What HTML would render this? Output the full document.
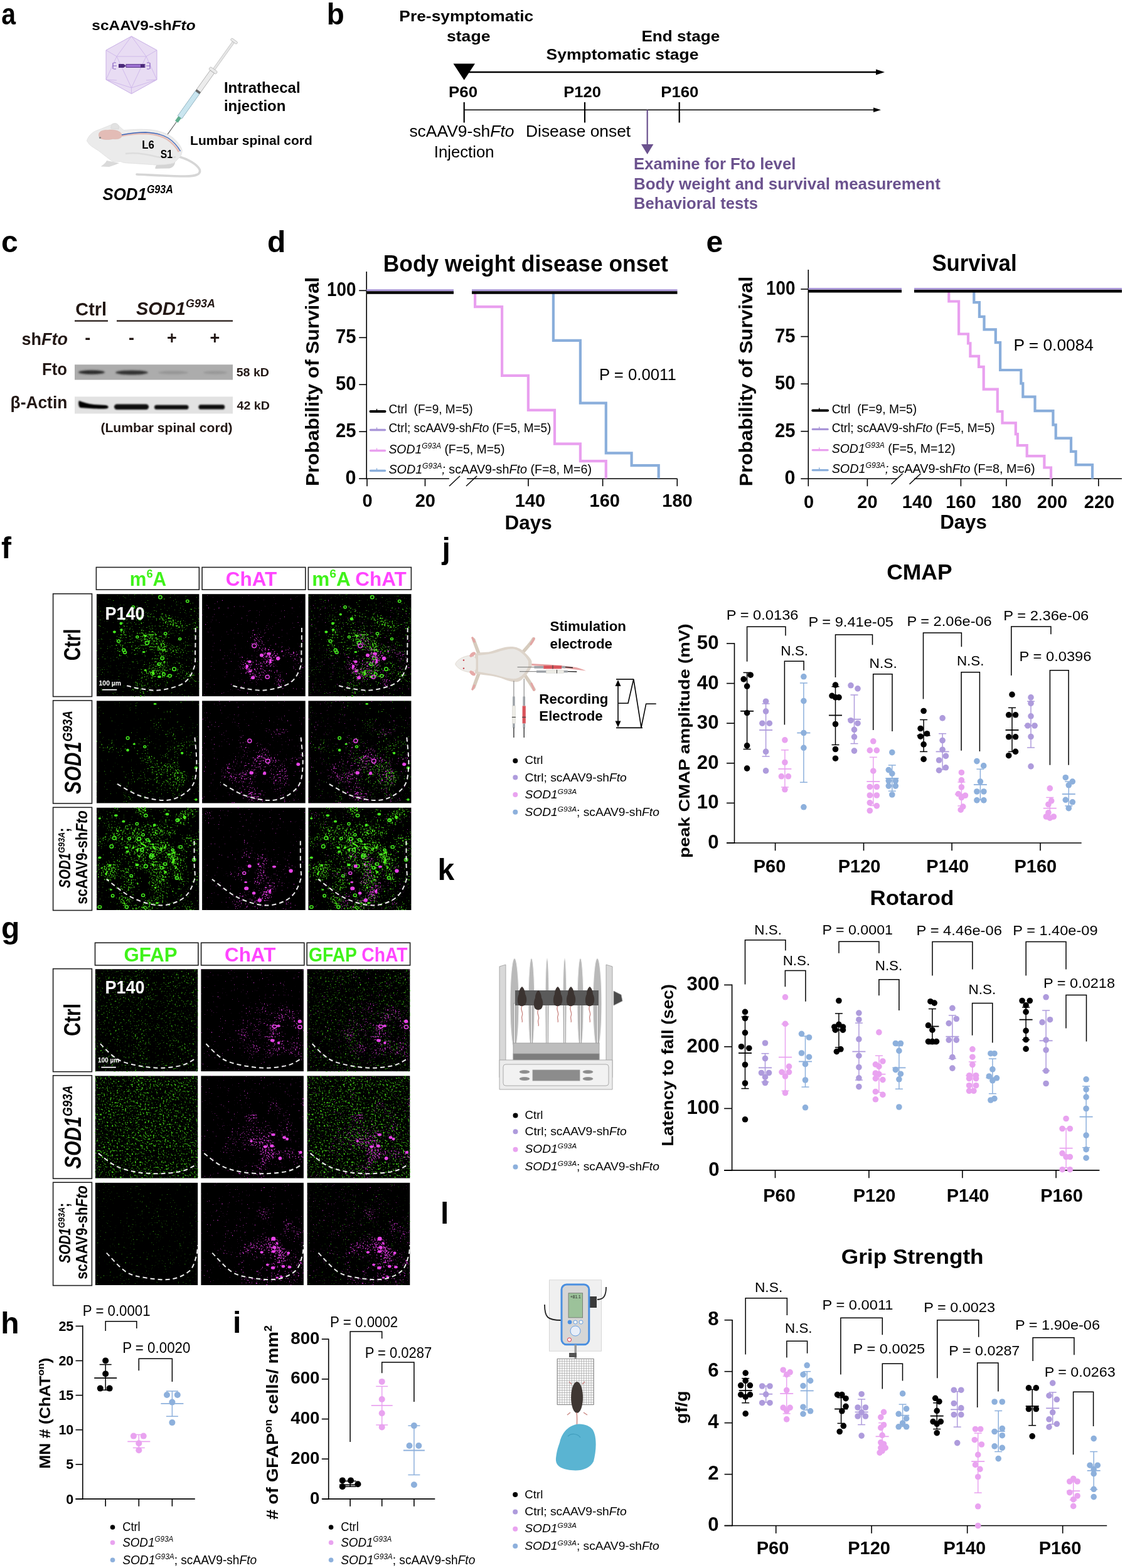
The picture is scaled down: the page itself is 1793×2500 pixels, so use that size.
<!DOCTYPE html>
<html><head><meta charset="utf-8"><title>Figure</title>
<style>html,body{margin:0;padding:0;background:#fff;overflow:hidden;}svg{display:block;}</style>
</head><body>
<svg width="1793" height="2500" viewBox="0 0 1793 2500" font-family="'Liberation Sans', Arial, Helvetica, sans-serif">
<defs>
<filter id="blur1" x="-20%" y="-50%" width="140%" height="200%"><feGaussianBlur stdDeviation="1.6"/></filter>
<filter id="blur2" x="-20%" y="-80%" width="140%" height="260%"><feGaussianBlur stdDeviation="1.2"/></filter>
<radialGradient id="rg1" cx="0.62" cy="0.55" r="0.6"><stop offset="0" stop-color="rgb(255,255,255)"/><stop offset="1" stop-color="rgb(76,76,76)"/></radialGradient>
<filter id="sp1" x="0" y="0" width="1" height="1" color-interpolation-filters="sRGB"><feColorMatrix in="SourceGraphic" type="matrix" values="1 0 0 0 0 1 0 0 0 0 1 0 0 0 0 0 0 0 0 1" result="m"/><feTurbulence type="fractalNoise" baseFrequency="0.035" numOctaves="2" seed="111" result="l0"/><feColorMatrix in="l0" type="matrix" values="1 0 0 0 0 1 0 0 0 0 1 0 0 0 0 0 0 0 0 1" result="l1"/><feComposite in="l1" in2="m" operator="arithmetic" k2="0.6" k3="0.35" k4="-0.475" result="l"/><feTurbulence type="fractalNoise" baseFrequency="0.42" numOctaves="2" seed="11" result="h0"/><feColorMatrix in="h0" type="matrix" values="1 0 0 0 0 1 0 0 0 0 1 0 0 0 0 0 0 0 0 1" result="h"/><feComposite in="h" in2="l" operator="arithmetic" k2="1" k3="1" k4="0" result="s"/><feColorMatrix in="s" type="matrix" values="0 0 0 0 0.216 0 0 0 0 0.684 0 0 0 0 0.072 9 0 0 0 -6.435" result="sp"/><feTurbulence type="fractalNoise" baseFrequency="0.16" numOctaves="1" seed="211" result="b0"/><feColorMatrix in="b0" type="matrix" values="1 0 0 0 0 1 0 0 0 0 1 0 0 0 0 0 0 0 0 1" result="bb"/><feComposite in="bb" in2="l" operator="arithmetic" k2="1" k3="1" k4="0" result="bs"/><feColorMatrix in="bs" type="matrix" values="0 0 0 0 0.3 0 0 0 0 0.95 0 0 0 0 0.1 14 0 0 0 -11.830" result="bl"/><feMerge><feMergeNode in="sp"/><feMergeNode in="bl"/></feMerge></filter>
<radialGradient id="rg2" cx="0.6" cy="0.65" r="0.55"><stop offset="0" stop-color="rgb(255,255,255)"/><stop offset="1" stop-color="rgb(38,38,38)"/></radialGradient>
<filter id="sp2" x="0" y="0" width="1" height="1" color-interpolation-filters="sRGB"><feColorMatrix in="SourceGraphic" type="matrix" values="1 0 0 0 0 1 0 0 0 0 1 0 0 0 0 0 0 0 0 1" result="m"/><feTurbulence type="fractalNoise" baseFrequency="0.035" numOctaves="2" seed="131" result="l0"/><feColorMatrix in="l0" type="matrix" values="1 0 0 0 0 1 0 0 0 0 1 0 0 0 0 0 0 0 0 1" result="l1"/><feComposite in="l1" in2="m" operator="arithmetic" k2="0.6" k3="0.35" k4="-0.475" result="l"/><feTurbulence type="fractalNoise" baseFrequency="0.42" numOctaves="2" seed="31" result="h0"/><feColorMatrix in="h0" type="matrix" values="1 0 0 0 0 1 0 0 0 0 1 0 0 0 0 0 0 0 0 1" result="h"/><feComposite in="h" in2="l" operator="arithmetic" k2="1" k3="1" k4="0" result="s"/><feColorMatrix in="s" type="matrix" values="0 0 0 0 0.706 0 0 0 0 0.180 0 0 0 0 0.706 9 0 0 0 -6.660" result="sp"/><feTurbulence type="fractalNoise" baseFrequency="0.16" numOctaves="1" seed="231" result="b0"/><feColorMatrix in="b0" type="matrix" values="1 0 0 0 0 1 0 0 0 0 1 0 0 0 0 0 0 0 0 1" result="bb"/><feComposite in="bb" in2="l" operator="arithmetic" k2="1" k3="1" k4="0" result="bs"/><feColorMatrix in="bs" type="matrix" values="0 0 0 0 0.98 0 0 0 0 0.25 0 0 0 0 0.98 14 0 0 0 -12.390" result="bl"/><feMerge><feMergeNode in="sp"/><feMergeNode in="bl"/></feMerge></filter>
<radialGradient id="rg3" cx="0.62" cy="0.55" r="0.6"><stop offset="0" stop-color="rgb(255,255,255)"/><stop offset="1" stop-color="rgb(76,76,76)"/></radialGradient>
<filter id="sp3" x="0" y="0" width="1" height="1" color-interpolation-filters="sRGB"><feColorMatrix in="SourceGraphic" type="matrix" values="1 0 0 0 0 1 0 0 0 0 1 0 0 0 0 0 0 0 0 1" result="m"/><feTurbulence type="fractalNoise" baseFrequency="0.035" numOctaves="2" seed="111" result="l0"/><feColorMatrix in="l0" type="matrix" values="1 0 0 0 0 1 0 0 0 0 1 0 0 0 0 0 0 0 0 1" result="l1"/><feComposite in="l1" in2="m" operator="arithmetic" k2="0.6" k3="0.35" k4="-0.475" result="l"/><feTurbulence type="fractalNoise" baseFrequency="0.42" numOctaves="2" seed="11" result="h0"/><feColorMatrix in="h0" type="matrix" values="1 0 0 0 0 1 0 0 0 0 1 0 0 0 0 0 0 0 0 1" result="h"/><feComposite in="h" in2="l" operator="arithmetic" k2="1" k3="1" k4="0" result="s"/><feColorMatrix in="s" type="matrix" values="0 0 0 0 0.216 0 0 0 0 0.684 0 0 0 0 0.072 9 0 0 0 -6.435" result="sp"/><feTurbulence type="fractalNoise" baseFrequency="0.16" numOctaves="1" seed="211" result="b0"/><feColorMatrix in="b0" type="matrix" values="1 0 0 0 0 1 0 0 0 0 1 0 0 0 0 0 0 0 0 1" result="bb"/><feComposite in="bb" in2="l" operator="arithmetic" k2="1" k3="1" k4="0" result="bs"/><feColorMatrix in="bs" type="matrix" values="0 0 0 0 0.3 0 0 0 0 0.95 0 0 0 0 0.1 14 0 0 0 -11.830" result="bl"/><feMerge><feMergeNode in="sp"/><feMergeNode in="bl"/></feMerge></filter>
<radialGradient id="rg4" cx="0.6" cy="0.65" r="0.55"><stop offset="0" stop-color="rgb(255,255,255)"/><stop offset="1" stop-color="rgb(38,38,38)"/></radialGradient>
<filter id="sp4" x="0" y="0" width="1" height="1" color-interpolation-filters="sRGB"><feColorMatrix in="SourceGraphic" type="matrix" values="1 0 0 0 0 1 0 0 0 0 1 0 0 0 0 0 0 0 0 1" result="m"/><feTurbulence type="fractalNoise" baseFrequency="0.035" numOctaves="2" seed="131" result="l0"/><feColorMatrix in="l0" type="matrix" values="1 0 0 0 0 1 0 0 0 0 1 0 0 0 0 0 0 0 0 1" result="l1"/><feComposite in="l1" in2="m" operator="arithmetic" k2="0.6" k3="0.35" k4="-0.475" result="l"/><feTurbulence type="fractalNoise" baseFrequency="0.42" numOctaves="2" seed="31" result="h0"/><feColorMatrix in="h0" type="matrix" values="1 0 0 0 0 1 0 0 0 0 1 0 0 0 0 0 0 0 0 1" result="h"/><feComposite in="h" in2="l" operator="arithmetic" k2="1" k3="1" k4="0" result="s"/><feColorMatrix in="s" type="matrix" values="0 0 0 0 0.706 0 0 0 0 0.180 0 0 0 0 0.706 9 0 0 0 -6.660" result="sp"/><feTurbulence type="fractalNoise" baseFrequency="0.16" numOctaves="1" seed="231" result="b0"/><feColorMatrix in="b0" type="matrix" values="1 0 0 0 0 1 0 0 0 0 1 0 0 0 0 0 0 0 0 1" result="bb"/><feComposite in="bb" in2="l" operator="arithmetic" k2="1" k3="1" k4="0" result="bs"/><feColorMatrix in="bs" type="matrix" values="0 0 0 0 0.98 0 0 0 0 0.25 0 0 0 0 0.98 14 0 0 0 -12.390" result="bl"/><feMerge><feMergeNode in="sp"/><feMergeNode in="bl"/></feMerge></filter>
<radialGradient id="rg5" cx="0.65" cy="0.65" r="0.6"><stop offset="0" stop-color="rgb(255,255,255)"/><stop offset="1" stop-color="rgb(76,76,76)"/></radialGradient>
<filter id="sp5" x="0" y="0" width="1" height="1" color-interpolation-filters="sRGB"><feColorMatrix in="SourceGraphic" type="matrix" values="1 0 0 0 0 1 0 0 0 0 1 0 0 0 0 0 0 0 0 1" result="m"/><feTurbulence type="fractalNoise" baseFrequency="0.035" numOctaves="2" seed="161" result="l0"/><feColorMatrix in="l0" type="matrix" values="1 0 0 0 0 1 0 0 0 0 1 0 0 0 0 0 0 0 0 1" result="l1"/><feComposite in="l1" in2="m" operator="arithmetic" k2="0.6" k3="0.35" k4="-0.475" result="l"/><feTurbulence type="fractalNoise" baseFrequency="0.42" numOctaves="2" seed="61" result="h0"/><feColorMatrix in="h0" type="matrix" values="1 0 0 0 0 1 0 0 0 0 1 0 0 0 0 0 0 0 0 1" result="h"/><feComposite in="h" in2="l" operator="arithmetic" k2="1" k3="1" k4="0" result="s"/><feColorMatrix in="s" type="matrix" values="0 0 0 0 0.216 0 0 0 0 0.684 0 0 0 0 0.072 9 0 0 0 -6.750" result="sp"/><feTurbulence type="fractalNoise" baseFrequency="0.16" numOctaves="1" seed="261" result="b0"/><feColorMatrix in="b0" type="matrix" values="1 0 0 0 0 1 0 0 0 0 1 0 0 0 0 0 0 0 0 1" result="bb"/><feComposite in="bb" in2="l" operator="arithmetic" k2="1" k3="1" k4="0" result="bs"/><feColorMatrix in="bs" type="matrix" values="0 0 0 0 0.3 0 0 0 0 0.95 0 0 0 0 0.1 14 0 0 0 -12.390" result="bl"/><feMerge><feMergeNode in="sp"/><feMergeNode in="bl"/></feMerge></filter>
<radialGradient id="rg6" cx="0.55" cy="0.7" r="0.55"><stop offset="0" stop-color="rgb(255,255,255)"/><stop offset="1" stop-color="rgb(45,45,45)"/></radialGradient>
<filter id="sp6" x="0" y="0" width="1" height="1" color-interpolation-filters="sRGB"><feColorMatrix in="SourceGraphic" type="matrix" values="1 0 0 0 0 1 0 0 0 0 1 0 0 0 0 0 0 0 0 1" result="m"/><feTurbulence type="fractalNoise" baseFrequency="0.035" numOctaves="2" seed="181" result="l0"/><feColorMatrix in="l0" type="matrix" values="1 0 0 0 0 1 0 0 0 0 1 0 0 0 0 0 0 0 0 1" result="l1"/><feComposite in="l1" in2="m" operator="arithmetic" k2="0.6" k3="0.35" k4="-0.475" result="l"/><feTurbulence type="fractalNoise" baseFrequency="0.42" numOctaves="2" seed="81" result="h0"/><feColorMatrix in="h0" type="matrix" values="1 0 0 0 0 1 0 0 0 0 1 0 0 0 0 0 0 0 0 1" result="h"/><feComposite in="h" in2="l" operator="arithmetic" k2="1" k3="1" k4="0" result="s"/><feColorMatrix in="s" type="matrix" values="0 0 0 0 0.706 0 0 0 0 0.180 0 0 0 0 0.706 9 0 0 0 -6.660" result="sp"/><feTurbulence type="fractalNoise" baseFrequency="0.16" numOctaves="1" seed="281" result="b0"/><feColorMatrix in="b0" type="matrix" values="1 0 0 0 0 1 0 0 0 0 1 0 0 0 0 0 0 0 0 1" result="bb"/><feComposite in="bb" in2="l" operator="arithmetic" k2="1" k3="1" k4="0" result="bs"/><feColorMatrix in="bs" type="matrix" values="0 0 0 0 0.98 0 0 0 0 0.25 0 0 0 0 0.98 14 0 0 0 -12.390" result="bl"/><feMerge><feMergeNode in="sp"/><feMergeNode in="bl"/></feMerge></filter>
<radialGradient id="rg7" cx="0.65" cy="0.65" r="0.6"><stop offset="0" stop-color="rgb(255,255,255)"/><stop offset="1" stop-color="rgb(76,76,76)"/></radialGradient>
<filter id="sp7" x="0" y="0" width="1" height="1" color-interpolation-filters="sRGB"><feColorMatrix in="SourceGraphic" type="matrix" values="1 0 0 0 0 1 0 0 0 0 1 0 0 0 0 0 0 0 0 1" result="m"/><feTurbulence type="fractalNoise" baseFrequency="0.035" numOctaves="2" seed="161" result="l0"/><feColorMatrix in="l0" type="matrix" values="1 0 0 0 0 1 0 0 0 0 1 0 0 0 0 0 0 0 0 1" result="l1"/><feComposite in="l1" in2="m" operator="arithmetic" k2="0.6" k3="0.35" k4="-0.475" result="l"/><feTurbulence type="fractalNoise" baseFrequency="0.42" numOctaves="2" seed="61" result="h0"/><feColorMatrix in="h0" type="matrix" values="1 0 0 0 0 1 0 0 0 0 1 0 0 0 0 0 0 0 0 1" result="h"/><feComposite in="h" in2="l" operator="arithmetic" k2="1" k3="1" k4="0" result="s"/><feColorMatrix in="s" type="matrix" values="0 0 0 0 0.216 0 0 0 0 0.684 0 0 0 0 0.072 9 0 0 0 -6.750" result="sp"/><feTurbulence type="fractalNoise" baseFrequency="0.16" numOctaves="1" seed="261" result="b0"/><feColorMatrix in="b0" type="matrix" values="1 0 0 0 0 1 0 0 0 0 1 0 0 0 0 0 0 0 0 1" result="bb"/><feComposite in="bb" in2="l" operator="arithmetic" k2="1" k3="1" k4="0" result="bs"/><feColorMatrix in="bs" type="matrix" values="0 0 0 0 0.3 0 0 0 0 0.95 0 0 0 0 0.1 14 0 0 0 -12.390" result="bl"/><feMerge><feMergeNode in="sp"/><feMergeNode in="bl"/></feMerge></filter>
<radialGradient id="rg8" cx="0.55" cy="0.7" r="0.55"><stop offset="0" stop-color="rgb(255,255,255)"/><stop offset="1" stop-color="rgb(45,45,45)"/></radialGradient>
<filter id="sp8" x="0" y="0" width="1" height="1" color-interpolation-filters="sRGB"><feColorMatrix in="SourceGraphic" type="matrix" values="1 0 0 0 0 1 0 0 0 0 1 0 0 0 0 0 0 0 0 1" result="m"/><feTurbulence type="fractalNoise" baseFrequency="0.035" numOctaves="2" seed="181" result="l0"/><feColorMatrix in="l0" type="matrix" values="1 0 0 0 0 1 0 0 0 0 1 0 0 0 0 0 0 0 0 1" result="l1"/><feComposite in="l1" in2="m" operator="arithmetic" k2="0.6" k3="0.35" k4="-0.475" result="l"/><feTurbulence type="fractalNoise" baseFrequency="0.42" numOctaves="2" seed="81" result="h0"/><feColorMatrix in="h0" type="matrix" values="1 0 0 0 0 1 0 0 0 0 1 0 0 0 0 0 0 0 0 1" result="h"/><feComposite in="h" in2="l" operator="arithmetic" k2="1" k3="1" k4="0" result="s"/><feColorMatrix in="s" type="matrix" values="0 0 0 0 0.706 0 0 0 0 0.180 0 0 0 0 0.706 9 0 0 0 -6.660" result="sp"/><feTurbulence type="fractalNoise" baseFrequency="0.16" numOctaves="1" seed="281" result="b0"/><feColorMatrix in="b0" type="matrix" values="1 0 0 0 0 1 0 0 0 0 1 0 0 0 0 0 0 0 0 1" result="bb"/><feComposite in="bb" in2="l" operator="arithmetic" k2="1" k3="1" k4="0" result="bs"/><feColorMatrix in="bs" type="matrix" values="0 0 0 0 0.98 0 0 0 0 0.25 0 0 0 0 0.98 14 0 0 0 -12.390" result="bl"/><feMerge><feMergeNode in="sp"/><feMergeNode in="bl"/></feMerge></filter>
<radialGradient id="rg9" cx="0.5" cy="0.45" r="0.8"><stop offset="0" stop-color="rgb(255,255,255)"/><stop offset="1" stop-color="rgb(140,140,140)"/></radialGradient>
<filter id="sp9" x="0" y="0" width="1" height="1" color-interpolation-filters="sRGB"><feColorMatrix in="SourceGraphic" type="matrix" values="1 0 0 0 0 1 0 0 0 0 1 0 0 0 0 0 0 0 0 1" result="m"/><feTurbulence type="fractalNoise" baseFrequency="0.035" numOctaves="2" seed="211" result="l0"/><feColorMatrix in="l0" type="matrix" values="1 0 0 0 0 1 0 0 0 0 1 0 0 0 0 0 0 0 0 1" result="l1"/><feComposite in="l1" in2="m" operator="arithmetic" k2="0.6" k3="0.35" k4="-0.475" result="l"/><feTurbulence type="fractalNoise" baseFrequency="0.42" numOctaves="2" seed="111" result="h0"/><feColorMatrix in="h0" type="matrix" values="1 0 0 0 0 1 0 0 0 0 1 0 0 0 0 0 0 0 0 1" result="h"/><feComposite in="h" in2="l" operator="arithmetic" k2="1" k3="1" k4="0" result="s"/><feColorMatrix in="s" type="matrix" values="0 0 0 0 0.216 0 0 0 0 0.684 0 0 0 0 0.072 9 0 0 0 -6.570" result="sp"/><feTurbulence type="fractalNoise" baseFrequency="0.16" numOctaves="1" seed="311" result="b0"/><feColorMatrix in="b0" type="matrix" values="1 0 0 0 0 1 0 0 0 0 1 0 0 0 0 0 0 0 0 1" result="bb"/><feComposite in="bb" in2="l" operator="arithmetic" k2="1" k3="1" k4="0" result="bs"/><feColorMatrix in="bs" type="matrix" values="0 0 0 0 0.3 0 0 0 0 0.95 0 0 0 0 0.1 14 0 0 0 -11.690" result="bl"/><feMerge><feMergeNode in="sp"/><feMergeNode in="bl"/></feMerge></filter>
<radialGradient id="rg10" cx="0.5" cy="0.75" r="0.55"><stop offset="0" stop-color="rgb(255,255,255)"/><stop offset="1" stop-color="rgb(38,38,38)"/></radialGradient>
<filter id="sp10" x="0" y="0" width="1" height="1" color-interpolation-filters="sRGB"><feColorMatrix in="SourceGraphic" type="matrix" values="1 0 0 0 0 1 0 0 0 0 1 0 0 0 0 0 0 0 0 1" result="m"/><feTurbulence type="fractalNoise" baseFrequency="0.035" numOctaves="2" seed="231" result="l0"/><feColorMatrix in="l0" type="matrix" values="1 0 0 0 0 1 0 0 0 0 1 0 0 0 0 0 0 0 0 1" result="l1"/><feComposite in="l1" in2="m" operator="arithmetic" k2="0.6" k3="0.35" k4="-0.475" result="l"/><feTurbulence type="fractalNoise" baseFrequency="0.42" numOctaves="2" seed="131" result="h0"/><feColorMatrix in="h0" type="matrix" values="1 0 0 0 0 1 0 0 0 0 1 0 0 0 0 0 0 0 0 1" result="h"/><feComposite in="h" in2="l" operator="arithmetic" k2="1" k3="1" k4="0" result="s"/><feColorMatrix in="s" type="matrix" values="0 0 0 0 0.706 0 0 0 0 0.180 0 0 0 0 0.706 9 0 0 0 -6.660" result="sp"/><feTurbulence type="fractalNoise" baseFrequency="0.16" numOctaves="1" seed="331" result="b0"/><feColorMatrix in="b0" type="matrix" values="1 0 0 0 0 1 0 0 0 0 1 0 0 0 0 0 0 0 0 1" result="bb"/><feComposite in="bb" in2="l" operator="arithmetic" k2="1" k3="1" k4="0" result="bs"/><feColorMatrix in="bs" type="matrix" values="0 0 0 0 0.98 0 0 0 0 0.25 0 0 0 0 0.98 14 0 0 0 -12.250" result="bl"/><feMerge><feMergeNode in="sp"/><feMergeNode in="bl"/></feMerge></filter>
<radialGradient id="rg11" cx="0.5" cy="0.45" r="0.8"><stop offset="0" stop-color="rgb(255,255,255)"/><stop offset="1" stop-color="rgb(140,140,140)"/></radialGradient>
<filter id="sp11" x="0" y="0" width="1" height="1" color-interpolation-filters="sRGB"><feColorMatrix in="SourceGraphic" type="matrix" values="1 0 0 0 0 1 0 0 0 0 1 0 0 0 0 0 0 0 0 1" result="m"/><feTurbulence type="fractalNoise" baseFrequency="0.035" numOctaves="2" seed="211" result="l0"/><feColorMatrix in="l0" type="matrix" values="1 0 0 0 0 1 0 0 0 0 1 0 0 0 0 0 0 0 0 1" result="l1"/><feComposite in="l1" in2="m" operator="arithmetic" k2="0.6" k3="0.35" k4="-0.475" result="l"/><feTurbulence type="fractalNoise" baseFrequency="0.42" numOctaves="2" seed="111" result="h0"/><feColorMatrix in="h0" type="matrix" values="1 0 0 0 0 1 0 0 0 0 1 0 0 0 0 0 0 0 0 1" result="h"/><feComposite in="h" in2="l" operator="arithmetic" k2="1" k3="1" k4="0" result="s"/><feColorMatrix in="s" type="matrix" values="0 0 0 0 0.216 0 0 0 0 0.684 0 0 0 0 0.072 9 0 0 0 -6.570" result="sp"/><feTurbulence type="fractalNoise" baseFrequency="0.16" numOctaves="1" seed="311" result="b0"/><feColorMatrix in="b0" type="matrix" values="1 0 0 0 0 1 0 0 0 0 1 0 0 0 0 0 0 0 0 1" result="bb"/><feComposite in="bb" in2="l" operator="arithmetic" k2="1" k3="1" k4="0" result="bs"/><feColorMatrix in="bs" type="matrix" values="0 0 0 0 0.3 0 0 0 0 0.95 0 0 0 0 0.1 14 0 0 0 -11.690" result="bl"/><feMerge><feMergeNode in="sp"/><feMergeNode in="bl"/></feMerge></filter>
<radialGradient id="rg12" cx="0.5" cy="0.75" r="0.55"><stop offset="0" stop-color="rgb(255,255,255)"/><stop offset="1" stop-color="rgb(38,38,38)"/></radialGradient>
<filter id="sp12" x="0" y="0" width="1" height="1" color-interpolation-filters="sRGB"><feColorMatrix in="SourceGraphic" type="matrix" values="1 0 0 0 0 1 0 0 0 0 1 0 0 0 0 0 0 0 0 1" result="m"/><feTurbulence type="fractalNoise" baseFrequency="0.035" numOctaves="2" seed="231" result="l0"/><feColorMatrix in="l0" type="matrix" values="1 0 0 0 0 1 0 0 0 0 1 0 0 0 0 0 0 0 0 1" result="l1"/><feComposite in="l1" in2="m" operator="arithmetic" k2="0.6" k3="0.35" k4="-0.475" result="l"/><feTurbulence type="fractalNoise" baseFrequency="0.42" numOctaves="2" seed="131" result="h0"/><feColorMatrix in="h0" type="matrix" values="1 0 0 0 0 1 0 0 0 0 1 0 0 0 0 0 0 0 0 1" result="h"/><feComposite in="h" in2="l" operator="arithmetic" k2="1" k3="1" k4="0" result="s"/><feColorMatrix in="s" type="matrix" values="0 0 0 0 0.706 0 0 0 0 0.180 0 0 0 0 0.706 9 0 0 0 -6.660" result="sp"/><feTurbulence type="fractalNoise" baseFrequency="0.16" numOctaves="1" seed="331" result="b0"/><feColorMatrix in="b0" type="matrix" values="1 0 0 0 0 1 0 0 0 0 1 0 0 0 0 0 0 0 0 1" result="bb"/><feComposite in="bb" in2="l" operator="arithmetic" k2="1" k3="1" k4="0" result="bs"/><feColorMatrix in="bs" type="matrix" values="0 0 0 0 0.98 0 0 0 0 0.25 0 0 0 0 0.98 14 0 0 0 -12.250" result="bl"/><feMerge><feMergeNode in="sp"/><feMergeNode in="bl"/></feMerge></filter>
<radialGradient id="rg13" cx="0.5" cy="0.5" r="0.8"><stop offset="0" stop-color="rgb(255,255,255)"/><stop offset="1" stop-color="rgb(178,178,178)"/></radialGradient>
<filter id="sp13" x="0" y="0" width="1" height="1" color-interpolation-filters="sRGB"><feColorMatrix in="SourceGraphic" type="matrix" values="1 0 0 0 0 1 0 0 0 0 1 0 0 0 0 0 0 0 0 1" result="m"/><feTurbulence type="fractalNoise" baseFrequency="0.035" numOctaves="2" seed="311" result="l0"/><feColorMatrix in="l0" type="matrix" values="1 0 0 0 0 1 0 0 0 0 1 0 0 0 0 0 0 0 0 1" result="l1"/><feComposite in="l1" in2="m" operator="arithmetic" k2="0.15" k3="0.1" k4="-0.125" result="l"/><feTurbulence type="fractalNoise" baseFrequency="0.38" numOctaves="2" seed="211" result="h0"/><feColorMatrix in="h0" type="matrix" values="1 0 0 0 0 1 0 0 0 0 1 0 0 0 0 0 0 0 0 1" result="h"/><feComposite in="h" in2="l" operator="arithmetic" k2="1" k3="1" k4="0" result="s"/><feColorMatrix in="s" type="matrix" values="0 0 0 0 0.240 0 0 0 0 0.760 0 0 0 0 0.080 5 0 0 0 -3.350" result="sp"/><feTurbulence type="fractalNoise" baseFrequency="0.16" numOctaves="1" seed="411" result="b0"/><feColorMatrix in="b0" type="matrix" values="1 0 0 0 0 1 0 0 0 0 1 0 0 0 0 0 0 0 0 1" result="bb"/><feComposite in="bb" in2="l" operator="arithmetic" k2="1" k3="1" k4="0" result="bs"/><feColorMatrix in="bs" type="matrix" values="0 0 0 0 0.3 0 0 0 0 0.95 0 0 0 0 0.1 14 0 0 0 -13.230" result="bl"/><feMerge><feMergeNode in="sp"/><feMergeNode in="bl"/></feMerge></filter>
<radialGradient id="rg14" cx="0.68" cy="0.62" r="0.55"><stop offset="0" stop-color="rgb(255,255,255)"/><stop offset="1" stop-color="rgb(30,30,30)"/></radialGradient>
<filter id="sp14" x="0" y="0" width="1" height="1" color-interpolation-filters="sRGB"><feColorMatrix in="SourceGraphic" type="matrix" values="1 0 0 0 0 1 0 0 0 0 1 0 0 0 0 0 0 0 0 1" result="m"/><feTurbulence type="fractalNoise" baseFrequency="0.035" numOctaves="2" seed="331" result="l0"/><feColorMatrix in="l0" type="matrix" values="1 0 0 0 0 1 0 0 0 0 1 0 0 0 0 0 0 0 0 1" result="l1"/><feComposite in="l1" in2="m" operator="arithmetic" k2="0.6" k3="0.35" k4="-0.475" result="l"/><feTurbulence type="fractalNoise" baseFrequency="0.42" numOctaves="2" seed="231" result="h0"/><feColorMatrix in="h0" type="matrix" values="1 0 0 0 0 1 0 0 0 0 1 0 0 0 0 0 0 0 0 1" result="h"/><feComposite in="h" in2="l" operator="arithmetic" k2="1" k3="1" k4="0" result="s"/><feColorMatrix in="s" type="matrix" values="0 0 0 0 0.706 0 0 0 0 0.180 0 0 0 0 0.706 9 0 0 0 -6.705" result="sp"/><feTurbulence type="fractalNoise" baseFrequency="0.16" numOctaves="1" seed="431" result="b0"/><feColorMatrix in="b0" type="matrix" values="1 0 0 0 0 1 0 0 0 0 1 0 0 0 0 0 0 0 0 1" result="bb"/><feComposite in="bb" in2="l" operator="arithmetic" k2="1" k3="1" k4="0" result="bs"/><feColorMatrix in="bs" type="matrix" values="0 0 0 0 0.98 0 0 0 0 0.25 0 0 0 0 0.98 14 0 0 0 -12.390" result="bl"/><feMerge><feMergeNode in="sp"/><feMergeNode in="bl"/></feMerge></filter>
<radialGradient id="rg15" cx="0.5" cy="0.5" r="0.8"><stop offset="0" stop-color="rgb(255,255,255)"/><stop offset="1" stop-color="rgb(178,178,178)"/></radialGradient>
<filter id="sp15" x="0" y="0" width="1" height="1" color-interpolation-filters="sRGB"><feColorMatrix in="SourceGraphic" type="matrix" values="1 0 0 0 0 1 0 0 0 0 1 0 0 0 0 0 0 0 0 1" result="m"/><feTurbulence type="fractalNoise" baseFrequency="0.035" numOctaves="2" seed="311" result="l0"/><feColorMatrix in="l0" type="matrix" values="1 0 0 0 0 1 0 0 0 0 1 0 0 0 0 0 0 0 0 1" result="l1"/><feComposite in="l1" in2="m" operator="arithmetic" k2="0.15" k3="0.1" k4="-0.125" result="l"/><feTurbulence type="fractalNoise" baseFrequency="0.38" numOctaves="2" seed="211" result="h0"/><feColorMatrix in="h0" type="matrix" values="1 0 0 0 0 1 0 0 0 0 1 0 0 0 0 0 0 0 0 1" result="h"/><feComposite in="h" in2="l" operator="arithmetic" k2="1" k3="1" k4="0" result="s"/><feColorMatrix in="s" type="matrix" values="0 0 0 0 0.240 0 0 0 0 0.760 0 0 0 0 0.080 5 0 0 0 -3.350" result="sp"/><feTurbulence type="fractalNoise" baseFrequency="0.16" numOctaves="1" seed="411" result="b0"/><feColorMatrix in="b0" type="matrix" values="1 0 0 0 0 1 0 0 0 0 1 0 0 0 0 0 0 0 0 1" result="bb"/><feComposite in="bb" in2="l" operator="arithmetic" k2="1" k3="1" k4="0" result="bs"/><feColorMatrix in="bs" type="matrix" values="0 0 0 0 0.3 0 0 0 0 0.95 0 0 0 0 0.1 14 0 0 0 -13.230" result="bl"/><feMerge><feMergeNode in="sp"/><feMergeNode in="bl"/></feMerge></filter>
<radialGradient id="rg16" cx="0.68" cy="0.62" r="0.55"><stop offset="0" stop-color="rgb(255,255,255)"/><stop offset="1" stop-color="rgb(30,30,30)"/></radialGradient>
<filter id="sp16" x="0" y="0" width="1" height="1" color-interpolation-filters="sRGB"><feColorMatrix in="SourceGraphic" type="matrix" values="1 0 0 0 0 1 0 0 0 0 1 0 0 0 0 0 0 0 0 1" result="m"/><feTurbulence type="fractalNoise" baseFrequency="0.035" numOctaves="2" seed="331" result="l0"/><feColorMatrix in="l0" type="matrix" values="1 0 0 0 0 1 0 0 0 0 1 0 0 0 0 0 0 0 0 1" result="l1"/><feComposite in="l1" in2="m" operator="arithmetic" k2="0.6" k3="0.35" k4="-0.475" result="l"/><feTurbulence type="fractalNoise" baseFrequency="0.42" numOctaves="2" seed="231" result="h0"/><feColorMatrix in="h0" type="matrix" values="1 0 0 0 0 1 0 0 0 0 1 0 0 0 0 0 0 0 0 1" result="h"/><feComposite in="h" in2="l" operator="arithmetic" k2="1" k3="1" k4="0" result="s"/><feColorMatrix in="s" type="matrix" values="0 0 0 0 0.706 0 0 0 0 0.180 0 0 0 0 0.706 9 0 0 0 -6.705" result="sp"/><feTurbulence type="fractalNoise" baseFrequency="0.16" numOctaves="1" seed="431" result="b0"/><feColorMatrix in="b0" type="matrix" values="1 0 0 0 0 1 0 0 0 0 1 0 0 0 0 0 0 0 0 1" result="bb"/><feComposite in="bb" in2="l" operator="arithmetic" k2="1" k3="1" k4="0" result="bs"/><feColorMatrix in="bs" type="matrix" values="0 0 0 0 0.98 0 0 0 0 0.25 0 0 0 0 0.98 14 0 0 0 -12.390" result="bl"/><feMerge><feMergeNode in="sp"/><feMergeNode in="bl"/></feMerge></filter>
<radialGradient id="rg17" cx="0.5" cy="0.6" r="0.8"><stop offset="0" stop-color="rgb(255,255,255)"/><stop offset="1" stop-color="rgb(178,178,178)"/></radialGradient>
<filter id="sp17" x="0" y="0" width="1" height="1" color-interpolation-filters="sRGB"><feColorMatrix in="SourceGraphic" type="matrix" values="1 0 0 0 0 1 0 0 0 0 1 0 0 0 0 0 0 0 0 1" result="m"/><feTurbulence type="fractalNoise" baseFrequency="0.035" numOctaves="2" seed="361" result="l0"/><feColorMatrix in="l0" type="matrix" values="1 0 0 0 0 1 0 0 0 0 1 0 0 0 0 0 0 0 0 1" result="l1"/><feComposite in="l1" in2="m" operator="arithmetic" k2="0.15" k3="0.1" k4="-0.125" result="l"/><feTurbulence type="fractalNoise" baseFrequency="0.38" numOctaves="2" seed="261" result="h0"/><feColorMatrix in="h0" type="matrix" values="1 0 0 0 0 1 0 0 0 0 1 0 0 0 0 0 0 0 0 1" result="h"/><feComposite in="h" in2="l" operator="arithmetic" k2="1" k3="1" k4="0" result="s"/><feColorMatrix in="s" type="matrix" values="0 0 0 0 0.255 0 0 0 0 0.807 0 0 0 0 0.085 5 0 0 0 -3.050" result="sp"/><feTurbulence type="fractalNoise" baseFrequency="0.16" numOctaves="1" seed="461" result="b0"/><feColorMatrix in="b0" type="matrix" values="1 0 0 0 0 1 0 0 0 0 1 0 0 0 0 0 0 0 0 1" result="bb"/><feComposite in="bb" in2="l" operator="arithmetic" k2="1" k3="1" k4="0" result="bs"/><feColorMatrix in="bs" type="matrix" values="0 0 0 0 0.3 0 0 0 0 0.95 0 0 0 0 0.1 14 0 0 0 -11.830" result="bl"/><feMerge><feMergeNode in="sp"/><feMergeNode in="bl"/></feMerge></filter>
<radialGradient id="rg18" cx="0.62" cy="0.62" r="0.6"><stop offset="0" stop-color="rgb(255,255,255)"/><stop offset="1" stop-color="rgb(45,45,45)"/></radialGradient>
<filter id="sp18" x="0" y="0" width="1" height="1" color-interpolation-filters="sRGB"><feColorMatrix in="SourceGraphic" type="matrix" values="1 0 0 0 0 1 0 0 0 0 1 0 0 0 0 0 0 0 0 1" result="m"/><feTurbulence type="fractalNoise" baseFrequency="0.035" numOctaves="2" seed="381" result="l0"/><feColorMatrix in="l0" type="matrix" values="1 0 0 0 0 1 0 0 0 0 1 0 0 0 0 0 0 0 0 1" result="l1"/><feComposite in="l1" in2="m" operator="arithmetic" k2="0.6" k3="0.35" k4="-0.475" result="l"/><feTurbulence type="fractalNoise" baseFrequency="0.42" numOctaves="2" seed="281" result="h0"/><feColorMatrix in="h0" type="matrix" values="1 0 0 0 0 1 0 0 0 0 1 0 0 0 0 0 0 0 0 1" result="h"/><feComposite in="h" in2="l" operator="arithmetic" k2="1" k3="1" k4="0" result="s"/><feColorMatrix in="s" type="matrix" values="0 0 0 0 0.706 0 0 0 0 0.180 0 0 0 0 0.706 9 0 0 0 -6.660" result="sp"/><feTurbulence type="fractalNoise" baseFrequency="0.16" numOctaves="1" seed="481" result="b0"/><feColorMatrix in="b0" type="matrix" values="1 0 0 0 0 1 0 0 0 0 1 0 0 0 0 0 0 0 0 1" result="bb"/><feComposite in="bb" in2="l" operator="arithmetic" k2="1" k3="1" k4="0" result="bs"/><feColorMatrix in="bs" type="matrix" values="0 0 0 0 0.98 0 0 0 0 0.25 0 0 0 0 0.98 14 0 0 0 -12.390" result="bl"/><feMerge><feMergeNode in="sp"/><feMergeNode in="bl"/></feMerge></filter>
<radialGradient id="rg19" cx="0.5" cy="0.6" r="0.8"><stop offset="0" stop-color="rgb(255,255,255)"/><stop offset="1" stop-color="rgb(178,178,178)"/></radialGradient>
<filter id="sp19" x="0" y="0" width="1" height="1" color-interpolation-filters="sRGB"><feColorMatrix in="SourceGraphic" type="matrix" values="1 0 0 0 0 1 0 0 0 0 1 0 0 0 0 0 0 0 0 1" result="m"/><feTurbulence type="fractalNoise" baseFrequency="0.035" numOctaves="2" seed="361" result="l0"/><feColorMatrix in="l0" type="matrix" values="1 0 0 0 0 1 0 0 0 0 1 0 0 0 0 0 0 0 0 1" result="l1"/><feComposite in="l1" in2="m" operator="arithmetic" k2="0.15" k3="0.1" k4="-0.125" result="l"/><feTurbulence type="fractalNoise" baseFrequency="0.38" numOctaves="2" seed="261" result="h0"/><feColorMatrix in="h0" type="matrix" values="1 0 0 0 0 1 0 0 0 0 1 0 0 0 0 0 0 0 0 1" result="h"/><feComposite in="h" in2="l" operator="arithmetic" k2="1" k3="1" k4="0" result="s"/><feColorMatrix in="s" type="matrix" values="0 0 0 0 0.255 0 0 0 0 0.807 0 0 0 0 0.085 5 0 0 0 -3.050" result="sp"/><feTurbulence type="fractalNoise" baseFrequency="0.16" numOctaves="1" seed="461" result="b0"/><feColorMatrix in="b0" type="matrix" values="1 0 0 0 0 1 0 0 0 0 1 0 0 0 0 0 0 0 0 1" result="bb"/><feComposite in="bb" in2="l" operator="arithmetic" k2="1" k3="1" k4="0" result="bs"/><feColorMatrix in="bs" type="matrix" values="0 0 0 0 0.3 0 0 0 0 0.95 0 0 0 0 0.1 14 0 0 0 -11.830" result="bl"/><feMerge><feMergeNode in="sp"/><feMergeNode in="bl"/></feMerge></filter>
<radialGradient id="rg20" cx="0.62" cy="0.62" r="0.6"><stop offset="0" stop-color="rgb(255,255,255)"/><stop offset="1" stop-color="rgb(45,45,45)"/></radialGradient>
<filter id="sp20" x="0" y="0" width="1" height="1" color-interpolation-filters="sRGB"><feColorMatrix in="SourceGraphic" type="matrix" values="1 0 0 0 0 1 0 0 0 0 1 0 0 0 0 0 0 0 0 1" result="m"/><feTurbulence type="fractalNoise" baseFrequency="0.035" numOctaves="2" seed="381" result="l0"/><feColorMatrix in="l0" type="matrix" values="1 0 0 0 0 1 0 0 0 0 1 0 0 0 0 0 0 0 0 1" result="l1"/><feComposite in="l1" in2="m" operator="arithmetic" k2="0.6" k3="0.35" k4="-0.475" result="l"/><feTurbulence type="fractalNoise" baseFrequency="0.42" numOctaves="2" seed="281" result="h0"/><feColorMatrix in="h0" type="matrix" values="1 0 0 0 0 1 0 0 0 0 1 0 0 0 0 0 0 0 0 1" result="h"/><feComposite in="h" in2="l" operator="arithmetic" k2="1" k3="1" k4="0" result="s"/><feColorMatrix in="s" type="matrix" values="0 0 0 0 0.706 0 0 0 0 0.180 0 0 0 0 0.706 9 0 0 0 -6.660" result="sp"/><feTurbulence type="fractalNoise" baseFrequency="0.16" numOctaves="1" seed="481" result="b0"/><feColorMatrix in="b0" type="matrix" values="1 0 0 0 0 1 0 0 0 0 1 0 0 0 0 0 0 0 0 1" result="bb"/><feComposite in="bb" in2="l" operator="arithmetic" k2="1" k3="1" k4="0" result="bs"/><feColorMatrix in="bs" type="matrix" values="0 0 0 0 0.98 0 0 0 0 0.25 0 0 0 0 0.98 14 0 0 0 -12.390" result="bl"/><feMerge><feMergeNode in="sp"/><feMergeNode in="bl"/></feMerge></filter>
<radialGradient id="rg21" cx="0.5" cy="0.6" r="0.8"><stop offset="0" stop-color="rgb(255,255,255)"/><stop offset="1" stop-color="rgb(178,178,178)"/></radialGradient>
<filter id="sp21" x="0" y="0" width="1" height="1" color-interpolation-filters="sRGB"><feColorMatrix in="SourceGraphic" type="matrix" values="1 0 0 0 0 1 0 0 0 0 1 0 0 0 0 0 0 0 0 1" result="m"/><feTurbulence type="fractalNoise" baseFrequency="0.035" numOctaves="2" seed="411" result="l0"/><feColorMatrix in="l0" type="matrix" values="1 0 0 0 0 1 0 0 0 0 1 0 0 0 0 0 0 0 0 1" result="l1"/><feComposite in="l1" in2="m" operator="arithmetic" k2="0.15" k3="0.1" k4="-0.125" result="l"/><feTurbulence type="fractalNoise" baseFrequency="0.38" numOctaves="2" seed="311" result="h0"/><feColorMatrix in="h0" type="matrix" values="1 0 0 0 0 1 0 0 0 0 1 0 0 0 0 0 0 0 0 1" result="h"/><feComposite in="h" in2="l" operator="arithmetic" k2="1" k3="1" k4="0" result="s"/><feColorMatrix in="s" type="matrix" values="0 0 0 0 0.240 0 0 0 0 0.760 0 0 0 0 0.080 5 0 0 0 -3.725" result="sp"/><feTurbulence type="fractalNoise" baseFrequency="0.16" numOctaves="1" seed="511" result="b0"/><feColorMatrix in="b0" type="matrix" values="1 0 0 0 0 1 0 0 0 0 1 0 0 0 0 0 0 0 0 1" result="bb"/><feComposite in="bb" in2="l" operator="arithmetic" k2="1" k3="1" k4="0" result="bs"/><feColorMatrix in="bs" type="matrix" values="0 0 0 0 0.3 0 0 0 0 0.95 0 0 0 0 0.1 14 0 0 0 -14.770" result="bl"/><feMerge><feMergeNode in="sp"/><feMergeNode in="bl"/></feMerge></filter>
<radialGradient id="rg22" cx="0.7" cy="0.7" r="0.55"><stop offset="0" stop-color="rgb(255,255,255)"/><stop offset="1" stop-color="rgb(38,38,38)"/></radialGradient>
<filter id="sp22" x="0" y="0" width="1" height="1" color-interpolation-filters="sRGB"><feColorMatrix in="SourceGraphic" type="matrix" values="1 0 0 0 0 1 0 0 0 0 1 0 0 0 0 0 0 0 0 1" result="m"/><feTurbulence type="fractalNoise" baseFrequency="0.035" numOctaves="2" seed="431" result="l0"/><feColorMatrix in="l0" type="matrix" values="1 0 0 0 0 1 0 0 0 0 1 0 0 0 0 0 0 0 0 1" result="l1"/><feComposite in="l1" in2="m" operator="arithmetic" k2="0.6" k3="0.35" k4="-0.475" result="l"/><feTurbulence type="fractalNoise" baseFrequency="0.42" numOctaves="2" seed="331" result="h0"/><feColorMatrix in="h0" type="matrix" values="1 0 0 0 0 1 0 0 0 0 1 0 0 0 0 0 0 0 0 1" result="h"/><feComposite in="h" in2="l" operator="arithmetic" k2="1" k3="1" k4="0" result="s"/><feColorMatrix in="s" type="matrix" values="0 0 0 0 0.706 0 0 0 0 0.180 0 0 0 0 0.706 9 0 0 0 -6.660" result="sp"/><feTurbulence type="fractalNoise" baseFrequency="0.16" numOctaves="1" seed="531" result="b0"/><feColorMatrix in="b0" type="matrix" values="1 0 0 0 0 1 0 0 0 0 1 0 0 0 0 0 0 0 0 1" result="bb"/><feComposite in="bb" in2="l" operator="arithmetic" k2="1" k3="1" k4="0" result="bs"/><feColorMatrix in="bs" type="matrix" values="0 0 0 0 0.98 0 0 0 0 0.25 0 0 0 0 0.98 14 0 0 0 -12.250" result="bl"/><feMerge><feMergeNode in="sp"/><feMergeNode in="bl"/></feMerge></filter>
<radialGradient id="rg23" cx="0.5" cy="0.6" r="0.8"><stop offset="0" stop-color="rgb(255,255,255)"/><stop offset="1" stop-color="rgb(178,178,178)"/></radialGradient>
<filter id="sp23" x="0" y="0" width="1" height="1" color-interpolation-filters="sRGB"><feColorMatrix in="SourceGraphic" type="matrix" values="1 0 0 0 0 1 0 0 0 0 1 0 0 0 0 0 0 0 0 1" result="m"/><feTurbulence type="fractalNoise" baseFrequency="0.035" numOctaves="2" seed="411" result="l0"/><feColorMatrix in="l0" type="matrix" values="1 0 0 0 0 1 0 0 0 0 1 0 0 0 0 0 0 0 0 1" result="l1"/><feComposite in="l1" in2="m" operator="arithmetic" k2="0.15" k3="0.1" k4="-0.125" result="l"/><feTurbulence type="fractalNoise" baseFrequency="0.38" numOctaves="2" seed="311" result="h0"/><feColorMatrix in="h0" type="matrix" values="1 0 0 0 0 1 0 0 0 0 1 0 0 0 0 0 0 0 0 1" result="h"/><feComposite in="h" in2="l" operator="arithmetic" k2="1" k3="1" k4="0" result="s"/><feColorMatrix in="s" type="matrix" values="0 0 0 0 0.240 0 0 0 0 0.760 0 0 0 0 0.080 5 0 0 0 -3.725" result="sp"/><feTurbulence type="fractalNoise" baseFrequency="0.16" numOctaves="1" seed="511" result="b0"/><feColorMatrix in="b0" type="matrix" values="1 0 0 0 0 1 0 0 0 0 1 0 0 0 0 0 0 0 0 1" result="bb"/><feComposite in="bb" in2="l" operator="arithmetic" k2="1" k3="1" k4="0" result="bs"/><feColorMatrix in="bs" type="matrix" values="0 0 0 0 0.3 0 0 0 0 0.95 0 0 0 0 0.1 14 0 0 0 -14.770" result="bl"/><feMerge><feMergeNode in="sp"/><feMergeNode in="bl"/></feMerge></filter>
<radialGradient id="rg24" cx="0.7" cy="0.7" r="0.55"><stop offset="0" stop-color="rgb(255,255,255)"/><stop offset="1" stop-color="rgb(38,38,38)"/></radialGradient>
<filter id="sp24" x="0" y="0" width="1" height="1" color-interpolation-filters="sRGB"><feColorMatrix in="SourceGraphic" type="matrix" values="1 0 0 0 0 1 0 0 0 0 1 0 0 0 0 0 0 0 0 1" result="m"/><feTurbulence type="fractalNoise" baseFrequency="0.035" numOctaves="2" seed="431" result="l0"/><feColorMatrix in="l0" type="matrix" values="1 0 0 0 0 1 0 0 0 0 1 0 0 0 0 0 0 0 0 1" result="l1"/><feComposite in="l1" in2="m" operator="arithmetic" k2="0.6" k3="0.35" k4="-0.475" result="l"/><feTurbulence type="fractalNoise" baseFrequency="0.42" numOctaves="2" seed="331" result="h0"/><feColorMatrix in="h0" type="matrix" values="1 0 0 0 0 1 0 0 0 0 1 0 0 0 0 0 0 0 0 1" result="h"/><feComposite in="h" in2="l" operator="arithmetic" k2="1" k3="1" k4="0" result="s"/><feColorMatrix in="s" type="matrix" values="0 0 0 0 0.706 0 0 0 0 0.180 0 0 0 0 0.706 9 0 0 0 -6.660" result="sp"/><feTurbulence type="fractalNoise" baseFrequency="0.16" numOctaves="1" seed="531" result="b0"/><feColorMatrix in="b0" type="matrix" values="1 0 0 0 0 1 0 0 0 0 1 0 0 0 0 0 0 0 0 1" result="bb"/><feComposite in="bb" in2="l" operator="arithmetic" k2="1" k3="1" k4="0" result="bs"/><feColorMatrix in="bs" type="matrix" values="0 0 0 0 0.98 0 0 0 0 0.25 0 0 0 0 0.98 14 0 0 0 -12.250" result="bl"/><feMerge><feMergeNode in="sp"/><feMergeNode in="bl"/></feMerge></filter>
</defs>
<rect width="1793" height="2500" fill="#fff"/>
<text transform="translate(2.2,38.8) scale(0.854,1)" font-size="48" font-weight="bold">a</text>
<text transform="translate(520.7,38.5) scale(0.954,1)" font-size="48" font-weight="bold">b</text>
<text x="2" y="402" font-size="48" font-weight="bold">c</text>
<text x="426" y="402" font-size="48" font-weight="bold">d</text>
<text x="1125.5" y="401.8" font-size="48" font-weight="bold">e</text>
<text x="2" y="889.8" font-size="48" font-weight="bold">f</text>
<text x="2" y="1496.2" font-size="48" font-weight="bold">g</text>
<text x="1.2" y="2126" font-size="48" font-weight="bold">h</text>
<text x="371" y="2125.4" font-size="48" font-weight="bold">i</text>
<text x="704.5" y="890.9" font-size="48" font-weight="bold">j</text>
<text x="697.6" y="1402.5" font-size="48" font-weight="bold">k</text>
<text x="702" y="1950.5" font-size="48" font-weight="bold">l</text>
<text x="229" y="47.9" font-size="21.5" font-weight="bold" text-anchor="middle" textLength="165.4" lengthAdjust="spacingAndGlyphs">scAAV9-sh<tspan font-style="italic">Fto</tspan></text>
<path d="M209.5,57.8 L250,80 L250,127 L209.5,149.5 L169,127 L169,80 Z" fill="#e8dcf3" stroke="#c8aee6" stroke-width="1.0" />
<line x1="209.5" y1="57.8" x2="186" y2="90" stroke="#cdb5ea" stroke-width="0.9" />
<line x1="209.5" y1="57.8" x2="233" y2="90" stroke="#cdb5ea" stroke-width="0.9" />
<line x1="186" y1="90" x2="233" y2="90" stroke="#cdb5ea" stroke-width="0.9" />
<line x1="169" y1="80" x2="186" y2="90" stroke="#cdb5ea" stroke-width="0.9" />
<line x1="250" y1="80" x2="233" y2="90" stroke="#cdb5ea" stroke-width="0.9" />
<line x1="186" y1="90" x2="209.5" y2="140" stroke="#cdb5ea" stroke-width="0.9" />
<line x1="233" y1="90" x2="209.5" y2="140" stroke="#cdb5ea" stroke-width="0.9" />
<line x1="169" y1="127" x2="209.5" y2="140" stroke="#cdb5ea" stroke-width="0.9" />
<line x1="250" y1="127" x2="209.5" y2="140" stroke="#cdb5ea" stroke-width="0.9" />
<line x1="186" y1="90" x2="169" y2="127" stroke="#cdb5ea" stroke-width="0.9" />
<line x1="233" y1="90" x2="250" y2="127" stroke="#cdb5ea" stroke-width="0.9" />
<line x1="209.5" y1="140" x2="209.5" y2="149.5" stroke="#cdb5ea" stroke-width="0.9" />
<line x1="169" y1="127" x2="186" y2="128" stroke="#cdb5ea" stroke-width="0.9" />
<line x1="250" y1="127" x2="233" y2="128" stroke="#cdb5ea" stroke-width="0.9" />
<path d="M180,100 v10 M180,105 h6 M181,100 h4 M181,110 h4" fill="none" stroke="#8a66c4" stroke-width="1.2" />
<path d="M239,100 v10 M233,105 h6 M234,100 h4 M234,110 h4" fill="none" stroke="#8a66c4" stroke-width="1.2" />
<rect x="201" y="102.5" width="30" height="5" fill="#9b6fd0" stroke="#4b2a7a" stroke-width="0.8" />
<path d="M189,102 h8 l4,3 l-4,3 h-8 z" fill="#4b2a7a" />
<rect x="224" y="102.5" width="6" height="5" fill="#4b2a7a" />
<g transform="translate(372.5,66.4) rotate(125.5)"><rect x="-3" y="-6" width="4" height="12" rx="2" fill="#ececec" stroke="#b8b8b8" stroke-width="0.8"/><rect x="1" y="-1.8" width="54" height="3.6" fill="#e6e6e6" stroke="#b0b0b0" stroke-width="0.6"/><rect x="54" y="-7" width="5" height="14" rx="2" fill="#eaeaea" stroke="#b0b0b0" stroke-width="0.7"/><rect x="59" y="-4" width="89" height="8" fill="#ececec" stroke="#a8a8a8" stroke-width="0.8"/><rect x="96" y="-4" width="4" height="8" fill="#666"/><rect x="100" y="-4" width="48" height="8" fill="#c9e5ef" stroke="#8fb8c8" stroke-width="0.7"/><rect x="148" y="-2.8" width="9" height="5.6" fill="#5fae8e"/><line x1="157" y1="0" x2="187" y2="0" stroke="#555" stroke-width="1"/></g>
<path d="M286,250 C300,254 314,262 318,270 C321,278 312,281 295,281 C270,281 240,279 218,278" fill="none" stroke="#d6d6d6" stroke-width="3.6" stroke-linecap="round"/>
<path d="M170,256 C168,261 163,263 161,265.5 L174,266 C180,264 186,262 190,260 Z" fill="#dadada" />
<path d="M250,262 C248,265 247,267 247.6,268.9 L270,268.5 C276,267 279,263 279,258 Z" fill="#d4d4d4" />
<path d="M138.6,223.7 C142,214 150,209 157.3,206.9 C165,204 172,201 177,199 C180,196 186,196 188,199 C191,202 195,206 197.3,207.6 C210,206.5 220,206 228.3,206.3 C240,206.5 248,207.5 254.1,209.5 C266,213 274,217 279.9,223.7 C286,230 290,236 290.2,240.5 C290,246 288,249.5 285,252.1 C282,255 280,257 277.3,259.9 C270,262 260,263 250,263 C245,263 243,262.5 241.2,262.4 C228,261.5 214,260.5 202.4,259.9 C196,259.5 194,258.5 192.1,257.3 C188,258 184,258 179.2,257.3 C172,252 164,246 157.3,240.5 C150,236 143,232 140.5,227.6 C139,226 138.5,225 138.6,223.7 Z" fill="#ebebeb" stroke="#dedede" stroke-width="0.8" />
<path d="M200,245 C215,243 235,246 250,250 C262,252 272,253 280,250" fill="none" stroke="#dddddd" stroke-width="2.5" />
<path d="M177,205 C176,199 180,196 185,197 C189,198 190,202 189,206 Z" fill="#e2e2e2" stroke="#d3d3d3" stroke-width="0.6" />
<path d="M157.5,214 C158,209 165,207 172,207.5 C178,206.5 185,207 190,210 C194,212 195,216 193,219 C190,222 184,222 180,221.5 C174,223 166,223 161,221 C158,219.5 157,217 157.5,214 Z" fill="#e3bcb6" stroke="#d6aaa3" stroke-width="0.5" />
<circle cx="159.5" cy="219.5" r="1.6" fill="#8a8a8a" />
<path d="M192,217 C205,214.5 218,213 230,213 C245,213.5 256,216 266,222 C275,228 281,235 285,242" fill="none" stroke="#e3bcb6" stroke-width="2.6" />
<path d="M194,215 C207,212.5 220,211 232,211 C247,211.5 258,214 268,220 C277,226 283,233 287.5,241" fill="none" stroke="#3b64b8" stroke-width="1.3" />
<text x="236.1" y="237.2" font-size="19" font-weight="bold" text-anchor="middle" textLength="19.7" lengthAdjust="spacingAndGlyphs">L6</text>
<text x="265.3" y="252" font-size="19" font-weight="bold" text-anchor="middle" textLength="19.2" lengthAdjust="spacingAndGlyphs">S1</text>
<text x="356.9" y="147.5" font-size="24.5" font-weight="bold" textLength="121.7" lengthAdjust="spacingAndGlyphs">Intrathecal</text>
<text x="356.9" y="177" font-size="24.5" font-weight="bold" textLength="98.5" lengthAdjust="spacingAndGlyphs">injection</text>
<text x="303.1" y="230.5" font-size="20.5" font-weight="bold" textLength="194.7" lengthAdjust="spacingAndGlyphs">Lumbar spinal cord</text>
<text x="163.5" y="319.1" font-size="28.5" font-weight="bold" textLength="112.3" lengthAdjust="spacingAndGlyphs"><tspan font-style="italic">SOD1</tspan><tspan font-size="17.7" dy="-10.8" font-style="italic">G93A</tspan><tspan dy="10.8">​</tspan></text>
<text x="743.3" y="33.8" font-size="24" font-weight="bold" text-anchor="middle" textLength="213.9" lengthAdjust="spacingAndGlyphs">Pre-symptomatic</text>
<text x="746.7" y="66.4" font-size="24" font-weight="bold" text-anchor="middle" textLength="69.5" lengthAdjust="spacingAndGlyphs">stage</text>
<text x="1084.8" y="66.4" font-size="24" font-weight="bold" text-anchor="middle" textLength="124.8" lengthAdjust="spacingAndGlyphs">End stage</text>
<text x="992" y="95.3" font-size="24" font-weight="bold" text-anchor="middle" textLength="242.8" lengthAdjust="spacingAndGlyphs">Symptomatic stage</text>
<path d="M722.5,101.4 L757,101.4 L739.7,127.8 Z" fill="#000" />
<line x1="745.8" y1="115" x2="1400" y2="115" stroke="#000" stroke-width="2.4" />
<path d="M1410,115 L1396,110.5 L1396,119.5 Z" fill="#000" />
<text x="738.1" y="154.9" font-size="24" font-weight="bold" text-anchor="middle" textLength="46.1" lengthAdjust="spacingAndGlyphs">P60</text>
<text x="928.1" y="154.9" font-size="24" font-weight="bold" text-anchor="middle" textLength="59.6" lengthAdjust="spacingAndGlyphs">P120</text>
<text x="1083.3" y="154.9" font-size="24" font-weight="bold" text-anchor="middle" textLength="60.2" lengthAdjust="spacingAndGlyphs">P160</text>
<line x1="739.7" y1="175.2" x2="1396" y2="175.2" stroke="#000" stroke-width="1.6" />
<path d="M1404,175.2 L1392,171.5 L1392,178.9 Z" fill="#000" />
<line x1="739.7" y1="162.9" x2="739.7" y2="195.5" stroke="#000" stroke-width="2.2" />
<line x1="932" y1="162.9" x2="932" y2="195.5" stroke="#000" stroke-width="2.2" />
<line x1="1082.7" y1="162.9" x2="1082.7" y2="195.5" stroke="#000" stroke-width="2.2" />
<line x1="1031.7" y1="175.2" x2="1031.7" y2="234" stroke="#6b528e" stroke-width="2.2" />
<path d="M1022,230 L1041.4,230 L1031.7,246 Z" fill="#6b528e" />
<text x="736" y="218.2" font-size="25" text-anchor="middle" textLength="167.2" lengthAdjust="spacingAndGlyphs">scAAV9-sh<tspan font-style="italic">Fto</tspan></text>
<text x="739.7" y="250.8" font-size="25" text-anchor="middle" textLength="95.8" lengthAdjust="spacingAndGlyphs">Injection</text>
<text x="921.6" y="218.2" font-size="25" text-anchor="middle" textLength="167.2" lengthAdjust="spacingAndGlyphs">Disease onset</text>
<text x="1010" y="270.4" font-size="25" font-weight="bold" fill="#6b528e" textLength="258.3" lengthAdjust="spacingAndGlyphs">Examine for Fto level</text>
<text x="1010" y="302.4" font-size="25" font-weight="bold" fill="#6b528e" textLength="488.8" lengthAdjust="spacingAndGlyphs">Body weight and survival measurement</text>
<text x="1010" y="333.1" font-size="25" font-weight="bold" fill="#6b528e" textLength="198" lengthAdjust="spacingAndGlyphs">Behavioral tests</text>
<text x="145.2" y="503.3" font-size="30" font-weight="bold" text-anchor="middle" fill="#231815" textLength="49.7" lengthAdjust="spacingAndGlyphs">Ctrl</text>
<line x1="119" y1="511.6" x2="172" y2="511.6" stroke="#231815" stroke-width="2.4" />
<text x="217" y="501.6" font-size="30" font-weight="bold" fill="#231815" textLength="126" lengthAdjust="spacingAndGlyphs"><tspan font-style="italic">SOD1</tspan><tspan font-size="18.6" dy="-11.4" font-style="italic">G93A</tspan><tspan dy="11.4">​</tspan></text>
<line x1="186" y1="511.6" x2="371" y2="511.6" stroke="#231815" stroke-width="2.4" />
<text x="34.6" y="549.5" font-size="27" font-weight="bold" fill="#231815" textLength="73.4" lengthAdjust="spacingAndGlyphs">sh<tspan font-style="italic">Fto</tspan></text>
<text x="139.7" y="548" font-size="27" font-weight="bold" text-anchor="middle" fill="#231815">-</text>
<text x="209.4" y="548" font-size="27" font-weight="bold" text-anchor="middle" fill="#231815">-</text>
<text x="273.8" y="548" font-size="27" font-weight="bold" text-anchor="middle" fill="#231815">+</text>
<text x="342.4" y="548" font-size="27" font-weight="bold" text-anchor="middle" fill="#231815">+</text>
<text x="107" y="598.4" font-size="27" font-weight="bold" text-anchor="end" fill="#231815" textLength="40" lengthAdjust="spacingAndGlyphs">Fto</text>
<text x="107.3" y="651" font-size="27" font-weight="bold" text-anchor="end" fill="#231815" textLength="90.7" lengthAdjust="spacingAndGlyphs">β-Actin</text>
<rect x="119" y="581.3" width="252" height="24.3" fill="#acacac" />
<g filter="url(#blur1)"><ellipse cx="146" cy="593.5" rx="21" ry="3.2" fill="#2a2a2a"/><ellipse cx="210" cy="594" rx="26" ry="3.4" fill="#303030"/><ellipse cx="276" cy="594" rx="24" ry="2.6" fill="#959595"/><ellipse cx="343" cy="594" rx="19" ry="2.6" fill="#979797"/></g>
<rect x="119" y="632.4" width="252" height="27.1" fill="#e2e2e2" />
<g filter="url(#blur2)"><path d="M126,639 C132,641 140,644 150,645 L168,646 C172,646.5 173,648 172.5,650 C171,652 165,652 150,651.5 L128,650 C125,649 124.5,641 126,639 Z" fill="#050505"/><rect x="182" y="644.4" width="55" height="8.6" rx="4.2" fill="#080808"/><rect x="246" y="645.8" width="54.5" height="7.0" rx="3.5" fill="#0a0a0a"/><rect x="316.5" y="645.3" width="41.7" height="7.2" rx="3.6" fill="#0a0a0a"/></g>
<text x="376.7" y="599.5" font-size="19" font-weight="bold" fill="#231815" textLength="52.3" lengthAdjust="spacingAndGlyphs">58 kD</text>
<text x="377.5" y="653" font-size="19" font-weight="bold" fill="#231815" textLength="52.3" lengthAdjust="spacingAndGlyphs">42 kD</text>
<text x="265.5" y="689" font-size="20" font-weight="bold" text-anchor="middle" fill="#231815" textLength="210.2" lengthAdjust="spacingAndGlyphs">(Lumbar spinal cord)</text>
<text x="837.8" y="433" font-size="36" font-weight="bold" text-anchor="middle" textLength="454" lengthAdjust="spacingAndGlyphs">Body weight disease onset</text>
<line x1="584.2" y1="433" x2="584.2" y2="763.2" stroke="#000" stroke-width="1.6" />
<line x1="572.2" y1="763.2" x2="584.2" y2="763.2" stroke="#000" stroke-width="1.6" />
<text x="567.5" y="772.1" font-size="30.5" font-weight="bold" text-anchor="end">0</text>
<line x1="572.2" y1="688.2" x2="584.2" y2="688.2" stroke="#000" stroke-width="1.6" />
<text x="567.5" y="697.1" font-size="30.5" font-weight="bold" text-anchor="end" textLength="32.5" lengthAdjust="spacingAndGlyphs">25</text>
<line x1="572.2" y1="613.2" x2="584.2" y2="613.2" stroke="#000" stroke-width="1.6" />
<text x="567.5" y="622.1" font-size="30.5" font-weight="bold" text-anchor="end" textLength="32.5" lengthAdjust="spacingAndGlyphs">50</text>
<line x1="572.2" y1="538.3" x2="584.2" y2="538.3" stroke="#000" stroke-width="1.6" />
<text x="567.5" y="547.2" font-size="30.5" font-weight="bold" text-anchor="end" textLength="32.5" lengthAdjust="spacingAndGlyphs">75</text>
<line x1="572.2" y1="463.3" x2="584.2" y2="463.3" stroke="#000" stroke-width="1.6" />
<text x="567.5" y="472.2" font-size="30.5" font-weight="bold" text-anchor="end" textLength="46.4" lengthAdjust="spacingAndGlyphs">100</text>
<line x1="584.2" y1="763.2" x2="716" y2="763.2" stroke="#000" stroke-width="1.6" />
<line x1="744" y1="763.2" x2="1079.5" y2="763.2" stroke="#000" stroke-width="1.6" />
<line x1="585" y1="763.2" x2="585" y2="775.2" stroke="#000" stroke-width="1.6" />
<line x1="677.5" y1="763.2" x2="677.5" y2="775.2" stroke="#000" stroke-width="1.6" />
<line x1="842" y1="763.2" x2="842" y2="775.2" stroke="#000" stroke-width="1.6" />
<line x1="960.6" y1="763.2" x2="960.6" y2="775.2" stroke="#000" stroke-width="1.6" />
<line x1="1079.3" y1="763.2" x2="1079.3" y2="775.2" stroke="#000" stroke-width="1.6" />
<line x1="716" y1="775" x2="733" y2="759" stroke="#000" stroke-width="1.4" />
<line x1="743" y1="775" x2="760" y2="759" stroke="#000" stroke-width="1.4" />
<text x="585.5" y="808" font-size="29" font-weight="bold" text-anchor="middle">0</text>
<text x="677.8" y="808" font-size="29" font-weight="bold" text-anchor="middle">20</text>
<text x="845" y="808" font-size="29" font-weight="bold" text-anchor="middle">140</text>
<text x="963.7" y="808" font-size="29" font-weight="bold" text-anchor="middle">160</text>
<text x="1079.5" y="808" font-size="29" font-weight="bold" text-anchor="middle">180</text>
<text x="842.2" y="844" font-size="31" font-weight="bold" text-anchor="middle" textLength="75.3" lengthAdjust="spacingAndGlyphs">Days</text>
<text transform="translate(507.5,608.4) rotate(-90)" font-size="30" font-weight="bold" text-anchor="middle" textLength="333.2" lengthAdjust="spacingAndGlyphs">Probability of Survival</text>
<polyline points="757.1,465.3 757.1,489.1 800.1,489.1 800.1,598.8 841.9,598.8 841.9,653.9 884,653.9 884,707.6 924.9,707.6 924.9,735.2 965.8,735.2 965.8,763.1" stroke="#e9a0ef" stroke-width="4.2" fill="none" stroke-linejoin="miter"/>
<polyline points="881.9,465.3 881.9,542.9 924.9,542.9 924.9,642.7 965.8,642.7 965.8,722.3 1006.6,722.3 1006.6,742.1 1049.7,742.1 1049.7,763.1" stroke="#8aaedb" stroke-width="4.2" fill="none" stroke-linejoin="miter"/>
<line x1="584.2" y1="466.5" x2="723" y2="466.5" stroke="#000" stroke-width="4.6" />
<line x1="584.2" y1="462.6" x2="723" y2="462.6" stroke="#a996d8" stroke-width="2.8" />
<line x1="752" y1="466.5" x2="1079.5" y2="466.5" stroke="#000" stroke-width="4.6" />
<line x1="752" y1="462.6" x2="1079.5" y2="462.6" stroke="#a996d8" stroke-width="2.8" />
<line x1="590.5" y1="655.9" x2="613.5" y2="655.9" stroke="#000" stroke-width="4" stroke-linecap="round"/>
<line x1="600.5" y1="651.9" x2="600.5" y2="655.9" stroke="#000" stroke-width="1.4" />
<text x="619.4" y="659.3" font-size="20" textLength="134.3" lengthAdjust="spacingAndGlyphs">Ctrl  (F=9, M=5)</text>
<line x1="590.5" y1="685.5" x2="613.5" y2="685.5" stroke="#a996d8" stroke-width="3.4" stroke-linecap="round"/>
<line x1="600.5" y1="681.5" x2="600.5" y2="685.5" stroke="#a996d8" stroke-width="1.4" />
<text x="619.4" y="689" font-size="20" textLength="259" lengthAdjust="spacingAndGlyphs">Ctrl; scAAV9-sh<tspan font-style="italic">Fto</tspan> (F=5, M=5)</text>
<line x1="590.5" y1="718.5" x2="613.5" y2="718.5" stroke="#e9a0ef" stroke-width="3.4" stroke-linecap="round"/>
<line x1="600.5" y1="714.5" x2="600.5" y2="718.5" stroke="#e9a0ef" stroke-width="1.4" />
<text x="619.4" y="722.5" font-size="20" textLength="185" lengthAdjust="spacingAndGlyphs"><tspan font-style="italic">SOD1</tspan><tspan font-size="12.4" dy="-7.6" font-style="italic">G93A</tspan><tspan dy="7.6">​</tspan> (F=5, M=5)</text>
<line x1="590.5" y1="750.5" x2="613.5" y2="750.5" stroke="#8aaedb" stroke-width="3.4" stroke-linecap="round"/>
<line x1="600.5" y1="746.5" x2="600.5" y2="750.5" stroke="#8aaedb" stroke-width="1.4" />
<text x="619.4" y="754.5" font-size="20" textLength="323.6" lengthAdjust="spacingAndGlyphs"><tspan font-style="italic">SOD1</tspan><tspan font-size="12.4" dy="-7.6" font-style="italic">G93A</tspan><tspan dy="7.6">​</tspan><tspan font-style="italic">; </tspan>scAAV9-sh<tspan font-style="italic">Fto</tspan> (F=8, M=6)</text>
<text x="955" y="606" font-size="25" textLength="122.7" lengthAdjust="spacingAndGlyphs">P = 0.0011</text>
<text x="1553" y="432.4" font-size="36" font-weight="bold" text-anchor="middle" textLength="135.1" lengthAdjust="spacingAndGlyphs">Survival</text>
<line x1="1288.3" y1="430" x2="1288.3" y2="763.3" stroke="#000" stroke-width="1.6" />
<line x1="1276.3" y1="763.3" x2="1288.3" y2="763.3" stroke="#000" stroke-width="1.6" />
<text x="1267.5" y="772.2" font-size="30.5" font-weight="bold" text-anchor="end">0</text>
<line x1="1276.3" y1="687.7" x2="1288.3" y2="687.7" stroke="#000" stroke-width="1.6" />
<text x="1267.5" y="696.6" font-size="30.5" font-weight="bold" text-anchor="end" textLength="32.5" lengthAdjust="spacingAndGlyphs">25</text>
<line x1="1276.3" y1="612.1" x2="1288.3" y2="612.1" stroke="#000" stroke-width="1.6" />
<text x="1267.5" y="621" font-size="30.5" font-weight="bold" text-anchor="end" textLength="32.5" lengthAdjust="spacingAndGlyphs">50</text>
<line x1="1276.3" y1="536.6" x2="1288.3" y2="536.6" stroke="#000" stroke-width="1.6" />
<text x="1267.5" y="545.5" font-size="30.5" font-weight="bold" text-anchor="end" textLength="32.5" lengthAdjust="spacingAndGlyphs">75</text>
<line x1="1276.3" y1="461" x2="1288.3" y2="461" stroke="#000" stroke-width="1.6" />
<text x="1267.5" y="469.9" font-size="30.5" font-weight="bold" text-anchor="end" textLength="46.4" lengthAdjust="spacingAndGlyphs">100</text>
<line x1="1288.3" y1="763.3" x2="1430" y2="763.3" stroke="#000" stroke-width="1.6" />
<line x1="1457" y1="763.3" x2="1788" y2="763.3" stroke="#000" stroke-width="1.6" />
<line x1="1288.3" y1="763.3" x2="1288.3" y2="775.3" stroke="#000" stroke-width="1.6" />
<line x1="1382.4" y1="763.3" x2="1382.4" y2="775.3" stroke="#000" stroke-width="1.6" />
<line x1="1531.4" y1="763.3" x2="1531.4" y2="775.3" stroke="#000" stroke-width="1.6" />
<line x1="1603.9" y1="763.3" x2="1603.9" y2="775.3" stroke="#000" stroke-width="1.6" />
<line x1="1677" y1="763.3" x2="1677" y2="775.3" stroke="#000" stroke-width="1.6" />
<line x1="1750.8" y1="763.3" x2="1750.8" y2="775.3" stroke="#000" stroke-width="1.6" />
<line x1="1420.5" y1="772" x2="1438.5" y2="755" stroke="#000" stroke-width="1.4" />
<line x1="1449.5" y1="772" x2="1467.5" y2="755" stroke="#000" stroke-width="1.4" />
<text x="1289" y="809.5" font-size="29" font-weight="bold" text-anchor="middle">0</text>
<text x="1382.4" y="809.5" font-size="29" font-weight="bold" text-anchor="middle">20</text>
<text x="1462" y="809.5" font-size="29" font-weight="bold" text-anchor="middle">140</text>
<text x="1531.4" y="809.5" font-size="29" font-weight="bold" text-anchor="middle">160</text>
<text x="1603.9" y="809.5" font-size="29" font-weight="bold" text-anchor="middle">180</text>
<text x="1677" y="809.5" font-size="29" font-weight="bold" text-anchor="middle">200</text>
<text x="1752" y="809.5" font-size="29" font-weight="bold" text-anchor="middle">220</text>
<text x="1535.5" y="843.4" font-size="31" font-weight="bold" text-anchor="middle" textLength="74.6" lengthAdjust="spacingAndGlyphs">Days</text>
<text transform="translate(1198.5,608) rotate(-90)" font-size="30" font-weight="bold" text-anchor="middle" textLength="334.4" lengthAdjust="spacingAndGlyphs">Probability of Survival</text>
<polyline points="1512.3,463 1512.3,480.5 1528.1,480.5 1528.1,532.5 1543,532.5 1543,547.4 1546.4,547.4 1546.4,567.9 1560,567.9 1560,584.9 1567.7,584.9 1567.7,620.7 1589.8,620.7 1589.8,656 1597.5,656 1597.5,674.3 1618.8,674.3 1618.8,692.2 1621.8,692.2 1621.8,710.1 1636.7,710.1 1636.7,727.2 1664.4,727.2 1664.4,745.5 1675,745.5 1675,763.4" stroke="#e9a0ef" stroke-width="4.2" fill="none" stroke-linejoin="miter"/>
<polyline points="1552.3,463 1552.3,482.2 1560.9,482.2 1560.9,504.8 1568.5,504.8 1568.5,525.3 1586.8,525.3 1586.8,546.1 1594.1,546.1 1594.1,590 1627.3,590 1627.3,611.3 1630.3,611.3 1630.3,632.6 1649.5,632.6 1649.5,655.2 1678.4,655.2 1678.4,677.3 1682.7,677.3 1682.7,698.6 1707,698.6 1707,719.9 1714.6,719.9 1714.6,741.2 1741,741.2 1741,763.4" stroke="#8aaedb" stroke-width="4.2" fill="none" stroke-linejoin="miter"/>
<line x1="1288.3" y1="464.2" x2="1437" y2="464.2" stroke="#000" stroke-width="4.6" />
<line x1="1288.3" y1="460.3" x2="1437" y2="460.3" stroke="#a996d8" stroke-width="2.8" />
<line x1="1457" y1="464.2" x2="1788" y2="464.2" stroke="#000" stroke-width="4.6" />
<line x1="1457" y1="460.3" x2="1788" y2="460.3" stroke="#a996d8" stroke-width="2.8" />
<line x1="1295.3" y1="654.6" x2="1319.1" y2="654.6" stroke="#000" stroke-width="4" stroke-linecap="round"/>
<line x1="1305.7" y1="650.6" x2="1305.7" y2="654.6" stroke="#000" stroke-width="1.4" />
<text x="1325.7" y="658.8" font-size="20" textLength="135.5" lengthAdjust="spacingAndGlyphs">Ctrl  (F=9, M=5)</text>
<line x1="1295.3" y1="684.4" x2="1319.1" y2="684.4" stroke="#a996d8" stroke-width="3.4" stroke-linecap="round"/>
<line x1="1305.7" y1="680.4" x2="1305.7" y2="684.4" stroke="#a996d8" stroke-width="1.4" />
<text x="1325.7" y="688.5" font-size="20" textLength="259.9" lengthAdjust="spacingAndGlyphs">Ctrl; scAAV9-sh<tspan font-style="italic">Fto</tspan> (F=5, M=5)</text>
<line x1="1295.3" y1="717.6" x2="1319.1" y2="717.6" stroke="#e9a0ef" stroke-width="3.4" stroke-linecap="round"/>
<line x1="1305.7" y1="713.6" x2="1305.7" y2="717.6" stroke="#e9a0ef" stroke-width="1.4" />
<text x="1325.7" y="721.8" font-size="20" textLength="196.8" lengthAdjust="spacingAndGlyphs"><tspan font-style="italic">SOD1</tspan><tspan font-size="12.4" dy="-7.6" font-style="italic">G93A</tspan><tspan dy="7.6">​</tspan> (F=5, M=12)</text>
<line x1="1295.3" y1="749.6" x2="1319.1" y2="749.6" stroke="#8aaedb" stroke-width="3.4" stroke-linecap="round"/>
<line x1="1305.7" y1="745.6" x2="1305.7" y2="749.6" stroke="#8aaedb" stroke-width="1.4" />
<text x="1325.7" y="753.8" font-size="20" textLength="323.8" lengthAdjust="spacingAndGlyphs"><tspan font-style="italic">SOD1</tspan><tspan font-size="12.4" dy="-7.6" font-style="italic">G93A</tspan><tspan dy="7.6">​</tspan><tspan font-style="italic">; </tspan>scAAV9-sh<tspan font-style="italic">Fto</tspan> (F=8, M=6)</text>
<text x="1615.4" y="559" font-size="25" textLength="127.6" lengthAdjust="spacingAndGlyphs">P = 0.0084</text>
<rect x="153.4" y="904.5" width="164" height="35.7" fill="#fff" stroke="#222" stroke-width="1.6" />
<text x="236" y="934.2" font-size="31" font-weight="bold" text-anchor="middle" textLength="58.4" lengthAdjust="spacingAndGlyphs"><tspan fill="#3ff21a">m<tspan font-size="19" dy="-13">6</tspan><tspan dy="13">A</tspan></tspan></text>
<rect x="322.1" y="904.5" width="164.7" height="35.7" fill="#fff" stroke="#222" stroke-width="1.6" />
<text x="400.5" y="934.3" font-size="31" font-weight="bold" text-anchor="middle" textLength="81.5" lengthAdjust="spacingAndGlyphs"><tspan fill="#ff45ff">ChAT</tspan></text>
<rect x="491.4" y="904.5" width="164" height="35.7" fill="#fff" stroke="#222" stroke-width="1.6" />
<text x="572.5" y="934.3" font-size="31" font-weight="bold" text-anchor="middle" textLength="150.5" lengthAdjust="spacingAndGlyphs"><tspan fill="#3ff21a">m<tspan font-size="19" dy="-13">6</tspan><tspan dy="13">A</tspan></tspan> <tspan fill="#ff45ff">ChAT</tspan></text>
<rect x="84.6" y="946.7" width="61.9" height="163.9" fill="#fff" stroke="#222" stroke-width="1.6" />
<rect x="154" y="947.2" width="163.4" height="162.9" fill="#000" />
<g transform="translate(154,947.2)"><rect x="0" y="0" width="163.4" height="162.9" fill="url(#rg1)" filter="url(#sp1)"/></g>
<g opacity="1.0"><ellipse cx="260.9" cy="1074.9" rx="2.3" ry="2" fill="none" stroke="#44ee1e" stroke-width="1.5"/><ellipse cx="189" cy="1022.2" rx="2.5" ry="2" fill="none" stroke="#44ee1e" stroke-width="1.5"/><ellipse cx="222.8" cy="986.8" rx="2.7" ry="2.5" fill="#44ee1e"/><ellipse cx="263.7" cy="1010.2" rx="2.2" ry="2" fill="none" stroke="#44ee1e" stroke-width="1.5"/><ellipse cx="254" cy="1079" rx="2.9" ry="2" fill="#44ee1e"/><ellipse cx="234.3" cy="1025" rx="3" ry="2.8" fill="none" stroke="#44ee1e" stroke-width="1.5"/><ellipse cx="182.4" cy="1007.6" rx="2.5" ry="2.1" fill="#44ee1e"/><ellipse cx="229.1" cy="1039.5" rx="2.5" ry="1.6" fill="#44ee1e"/><ellipse cx="212.4" cy="967.9" rx="2.2" ry="2" fill="none" stroke="#44ee1e" stroke-width="1.5"/><ellipse cx="197.2" cy="1036.6" rx="2.5" ry="2.3" fill="none" stroke="#44ee1e" stroke-width="1.5"/><ellipse cx="192.8" cy="994" rx="2.3" ry="2.2" fill="#44ee1e"/><ellipse cx="218.8" cy="1015.6" rx="2.1" ry="1.7" fill="none" stroke="#44ee1e" stroke-width="1.5"/><ellipse cx="205.2" cy="979.6" rx="2.2" ry="1.9" fill="#44ee1e"/><ellipse cx="255.4" cy="952.1" rx="2.7" ry="2.7" fill="none" stroke="#44ee1e" stroke-width="1.5"/><ellipse cx="277.6" cy="1066.7" rx="2.9" ry="2.8" fill="none" stroke="#44ee1e" stroke-width="1.5"/><ellipse cx="253.4" cy="1058.9" rx="2.3" ry="2.1" fill="none" stroke="#44ee1e" stroke-width="1.5"/><ellipse cx="258.7" cy="1049.5" rx="2.8" ry="2.2" fill="none" stroke="#44ee1e" stroke-width="1.5"/><ellipse cx="286.7" cy="1018.7" rx="2" ry="1.6" fill="none" stroke="#44ee1e" stroke-width="1.5"/><ellipse cx="270.6" cy="1077.5" rx="2.7" ry="2.3" fill="none" stroke="#44ee1e" stroke-width="1.5"/><ellipse cx="193.5" cy="1004.2" rx="2.1" ry="1.9" fill="#44ee1e"/><ellipse cx="199" cy="1040" rx="2.6" ry="2.2" fill="none" stroke="#44ee1e" stroke-width="1.5"/><ellipse cx="298.8" cy="958.5" rx="2.2" ry="2" fill="none" stroke="#44ee1e" stroke-width="1.5"/></g>
<path d="M311.7,1001 C311.6,1006.9 311.6,1026.2 311.2,1036.8 C310.8,1047.4 312.3,1055.8 309.2,1064.5 C306.2,1073.2 301.9,1083 292.9,1088.9 C283.9,1094.9 267,1098.8 255.3,1100.3 C243.6,1101.8 232.2,1099.2 222.6,1097.9 C213.1,1096.5 202.2,1093.1 198.1,1092.2" fill="none" stroke="#fff" stroke-width="2.0" stroke-dasharray="7 5" opacity="0.92"/>
<rect x="322.1" y="947.2" width="164.6" height="162.9" fill="#000" />
<g transform="translate(322.1,947.2)"><rect x="0" y="0" width="164.6" height="162.9" fill="url(#rg2)" filter="url(#sp2)"/></g>
<g opacity="1.0"><ellipse cx="405.2" cy="1029.6" rx="3.4" ry="3.2" fill="none" stroke="#e744e7" stroke-width="1.5"/><ellipse cx="398.6" cy="1070.3" rx="2.6" ry="1.9" fill="#e744e7"/><ellipse cx="403.1" cy="1080.4" rx="3.1" ry="2.6" fill="#e744e7"/><ellipse cx="426.2" cy="1079.2" rx="3.1" ry="2.8" fill="none" stroke="#e744e7" stroke-width="1.5"/><ellipse cx="443.1" cy="1049.8" rx="3.2" ry="3.1" fill="#e744e7"/><ellipse cx="417" cy="1044.8" rx="3.1" ry="2.8" fill="#e744e7"/><ellipse cx="428.6" cy="1042.2" rx="3.5" ry="2.3" fill="#e744e7"/><ellipse cx="397.9" cy="1055" rx="2.8" ry="2.2" fill="#e744e7"/></g>
<path d="M480.9,1001 C480.9,1006.9 480.9,1026.2 480.4,1036.8 C480,1047.4 481.5,1055.8 478.5,1064.5 C475.4,1073.2 471.1,1083 462,1088.9 C453,1094.9 435.9,1098.8 424.2,1100.3 C412.4,1101.8 400.8,1099.2 391.2,1097.9 C381.6,1096.5 370.7,1093.1 366.5,1092.2" fill="none" stroke="#fff" stroke-width="2.0" stroke-dasharray="7 5" opacity="0.92"/>
<rect x="491.4" y="947.2" width="164" height="162.9" fill="#000" />
<g transform="translate(491.4,947.2)"><rect x="0" y="0" width="164" height="162.9" fill="url(#rg3)" filter="url(#sp3)"/></g>
<g opacity="1.0"><ellipse cx="598.7" cy="1074.9" rx="2.3" ry="2" fill="none" stroke="#44ee1e" stroke-width="1.5"/><ellipse cx="526.6" cy="1022.2" rx="2.5" ry="2" fill="none" stroke="#44ee1e" stroke-width="1.5"/><ellipse cx="560.4" cy="986.8" rx="2.7" ry="2.5" fill="#44ee1e"/><ellipse cx="601.5" cy="1010.2" rx="2.2" ry="2" fill="none" stroke="#44ee1e" stroke-width="1.5"/><ellipse cx="591.8" cy="1079" rx="2.9" ry="2" fill="#44ee1e"/><ellipse cx="572" cy="1025" rx="3" ry="2.8" fill="none" stroke="#44ee1e" stroke-width="1.5"/><ellipse cx="519.9" cy="1007.6" rx="2.5" ry="2.1" fill="#44ee1e"/><ellipse cx="566.8" cy="1039.5" rx="2.5" ry="1.6" fill="#44ee1e"/><ellipse cx="550" cy="967.9" rx="2.2" ry="2" fill="none" stroke="#44ee1e" stroke-width="1.5"/><ellipse cx="534.7" cy="1036.6" rx="2.5" ry="2.3" fill="none" stroke="#44ee1e" stroke-width="1.5"/><ellipse cx="530.3" cy="994" rx="2.3" ry="2.2" fill="#44ee1e"/><ellipse cx="556.4" cy="1015.6" rx="2.1" ry="1.7" fill="none" stroke="#44ee1e" stroke-width="1.5"/><ellipse cx="542.8" cy="979.6" rx="2.2" ry="1.9" fill="#44ee1e"/><ellipse cx="593.2" cy="952.1" rx="2.7" ry="2.7" fill="none" stroke="#44ee1e" stroke-width="1.5"/><ellipse cx="615.5" cy="1066.7" rx="2.9" ry="2.8" fill="none" stroke="#44ee1e" stroke-width="1.5"/><ellipse cx="591.2" cy="1058.9" rx="2.3" ry="2.1" fill="none" stroke="#44ee1e" stroke-width="1.5"/><ellipse cx="596.5" cy="1049.5" rx="2.8" ry="2.2" fill="none" stroke="#44ee1e" stroke-width="1.5"/><ellipse cx="624.5" cy="1018.7" rx="2" ry="1.6" fill="none" stroke="#44ee1e" stroke-width="1.5"/><ellipse cx="608.4" cy="1077.5" rx="2.7" ry="2.3" fill="none" stroke="#44ee1e" stroke-width="1.5"/><ellipse cx="531" cy="1004.2" rx="2.1" ry="1.9" fill="#44ee1e"/><ellipse cx="536.6" cy="1040" rx="2.6" ry="2.2" fill="none" stroke="#44ee1e" stroke-width="1.5"/><ellipse cx="636.7" cy="958.5" rx="2.2" ry="2" fill="none" stroke="#44ee1e" stroke-width="1.5"/></g>
<g transform="translate(491.4,947.2)"><rect x="0" y="0" width="164" height="162.9" fill="url(#rg4)" filter="url(#sp4)"/></g>
<g opacity="1.0"><ellipse cx="574.2" cy="1029.6" rx="3.4" ry="3.2" fill="none" stroke="#e744e7" stroke-width="1.5"/><ellipse cx="567.6" cy="1070.3" rx="2.6" ry="1.9" fill="#e744e7"/><ellipse cx="572.1" cy="1080.4" rx="3.1" ry="2.6" fill="#e744e7"/><ellipse cx="595.1" cy="1079.2" rx="3.1" ry="2.8" fill="none" stroke="#e744e7" stroke-width="1.5"/><ellipse cx="612" cy="1049.8" rx="3.2" ry="3.1" fill="#e744e7"/><ellipse cx="586" cy="1044.8" rx="3.1" ry="2.8" fill="#e744e7"/><ellipse cx="597.5" cy="1042.2" rx="3.5" ry="2.3" fill="#e744e7"/><ellipse cx="566.9" cy="1055" rx="2.8" ry="2.2" fill="#e744e7"/></g>
<path d="M649.7,1001 C649.6,1006.9 649.6,1026.2 649.2,1036.8 C648.8,1047.4 650.3,1055.8 647.2,1064.5 C644.1,1073.2 639.8,1083 630.8,1088.9 C621.8,1094.9 604.8,1098.8 593.1,1100.3 C581.3,1101.8 569.8,1099.2 560.3,1097.9 C550.7,1096.5 539.8,1093.1 535.7,1092.2" fill="none" stroke="#fff" stroke-width="2.0" stroke-dasharray="7 5" opacity="0.92"/>
<rect x="84.6" y="1116.9" width="61.9" height="164.1" fill="#fff" stroke="#222" stroke-width="1.6" />
<rect x="154" y="1117.4" width="163.4" height="163.1" fill="#000" />
<g transform="translate(154,1117.4)"><rect x="0" y="0" width="163.4" height="163.1" fill="url(#rg5)" filter="url(#sp5)"/></g>
<g opacity="1.0"><ellipse cx="247" cy="1122.3" rx="2.4" ry="1.5" fill="#44ee1e"/><ellipse cx="213.9" cy="1186.3" rx="2" ry="1.5" fill="#44ee1e"/><ellipse cx="290.2" cy="1200.7" rx="2.2" ry="2" fill="#44ee1e"/><ellipse cx="312.5" cy="1224.3" rx="1.9" ry="1.5" fill="none" stroke="#44ee1e" stroke-width="1.5"/><ellipse cx="230.8" cy="1190.6" rx="2" ry="1.7" fill="none" stroke="#44ee1e" stroke-width="1.5"/><ellipse cx="203.5" cy="1196" rx="2.4" ry="2.3" fill="#44ee1e"/><ellipse cx="203.6" cy="1176.7" rx="2.3" ry="2.2" fill="none" stroke="#44ee1e" stroke-width="1.5"/><ellipse cx="312.5" cy="1274.8" rx="2.2" ry="1.9" fill="#44ee1e"/></g>
<path d="M310.4,1175.6 C310.9,1182.7 313.8,1205.4 313.3,1218 C312.9,1230.6 312.4,1242.4 307.6,1251.1 C302.8,1259.9 293,1266.6 284.7,1270.7 C276.4,1274.8 268.7,1276.5 257.8,1275.9 C246.9,1275.4 231.9,1272.2 219.4,1267.5 C206.9,1262.7 188.9,1250.7 182.8,1247.4" fill="none" stroke="#fff" stroke-width="2.0" stroke-dasharray="7 5" opacity="0.92"/>
<rect x="322.1" y="1117.4" width="164.6" height="163.1" fill="#000" />
<g transform="translate(322.1,1117.4)"><rect x="0" y="0" width="164.6" height="163.1" fill="url(#rg6)" filter="url(#sp6)"/></g>
<g opacity="1.0"><ellipse cx="400.7" cy="1232.3" rx="3.3" ry="2.7" fill="#e744e7"/><ellipse cx="397.8" cy="1181.2" rx="3" ry="3" fill="none" stroke="#e744e7" stroke-width="1.5"/><ellipse cx="421.7" cy="1232.2" rx="2.4" ry="2.1" fill="#e744e7"/><ellipse cx="421.5" cy="1233.9" rx="2.8" ry="1.7" fill="#e744e7"/><ellipse cx="426.8" cy="1213.5" rx="3.3" ry="3.2" fill="none" stroke="#e744e7" stroke-width="1.5"/><ellipse cx="475.3" cy="1218.6" rx="3" ry="2.7" fill="#e744e7"/></g>
<path d="M479.6,1175.6 C480.1,1182.7 483.1,1205.4 482.6,1218 C482.1,1230.6 481.6,1242.4 476.8,1251.1 C472,1259.9 462.1,1266.6 453.8,1270.7 C445.4,1274.8 437.6,1276.5 426.6,1275.9 C415.6,1275.4 400.5,1272.2 387.9,1267.5 C375.3,1262.7 357.2,1250.7 351.1,1247.4" fill="none" stroke="#fff" stroke-width="2.0" stroke-dasharray="7 5" opacity="0.92"/>
<rect x="491.4" y="1117.4" width="164" height="163.1" fill="#000" />
<g transform="translate(491.4,1117.4)"><rect x="0" y="0" width="164" height="163.1" fill="url(#rg7)" filter="url(#sp7)"/></g>
<g opacity="1.0"><ellipse cx="584.7" cy="1122.3" rx="2.4" ry="1.5" fill="#44ee1e"/><ellipse cx="551.6" cy="1186.3" rx="2" ry="1.5" fill="#44ee1e"/><ellipse cx="628.1" cy="1200.7" rx="2.2" ry="2" fill="#44ee1e"/><ellipse cx="650.5" cy="1224.3" rx="1.9" ry="1.5" fill="none" stroke="#44ee1e" stroke-width="1.5"/><ellipse cx="568.5" cy="1190.6" rx="2" ry="1.7" fill="none" stroke="#44ee1e" stroke-width="1.5"/><ellipse cx="541.1" cy="1196" rx="2.4" ry="2.3" fill="#44ee1e"/><ellipse cx="541.1" cy="1176.7" rx="2.3" ry="2.2" fill="none" stroke="#44ee1e" stroke-width="1.5"/><ellipse cx="650.5" cy="1274.8" rx="2.2" ry="1.9" fill="#44ee1e"/></g>
<g transform="translate(491.4,1117.4)"><rect x="0" y="0" width="164" height="163.1" fill="url(#rg8)" filter="url(#sp8)"/></g>
<g opacity="1.0"><ellipse cx="569.7" cy="1232.3" rx="3.3" ry="2.7" fill="#e744e7"/><ellipse cx="566.8" cy="1181.2" rx="3" ry="3" fill="none" stroke="#e744e7" stroke-width="1.5"/><ellipse cx="590.7" cy="1232.2" rx="2.4" ry="2.1" fill="#e744e7"/><ellipse cx="590.4" cy="1233.9" rx="2.8" ry="1.7" fill="#e744e7"/><ellipse cx="595.8" cy="1213.5" rx="3.3" ry="3.2" fill="none" stroke="#e744e7" stroke-width="1.5"/><ellipse cx="644.1" cy="1218.6" rx="3" ry="2.7" fill="#e744e7"/></g>
<path d="M648.3,1175.6 C648.8,1182.7 651.8,1205.4 651.3,1218 C650.8,1230.6 650.3,1242.4 645.6,1251.1 C640.8,1259.9 630.9,1266.6 622.6,1270.7 C614.3,1274.8 606.5,1276.5 595.5,1275.9 C584.6,1275.4 569.5,1272.2 557,1267.5 C544.5,1262.7 526.4,1250.7 520.3,1247.4" fill="none" stroke="#fff" stroke-width="2.0" stroke-dasharray="7 5" opacity="0.92"/>
<rect x="84.6" y="1287.3" width="61.9" height="164.2" fill="#fff" stroke="#222" stroke-width="1.6" />
<rect x="154" y="1287.8" width="163.4" height="163.2" fill="#000" />
<g transform="translate(154,1287.8)"><rect x="0" y="0" width="163.4" height="163.2" fill="url(#rg9)" filter="url(#sp9)"/></g>
<g opacity="1.0"><ellipse cx="228.1" cy="1331.1" rx="2.1" ry="2" fill="none" stroke="#44ee1e" stroke-width="1.5"/><ellipse cx="201.9" cy="1446.1" rx="2.6" ry="2.4" fill="none" stroke="#44ee1e" stroke-width="1.5"/><ellipse cx="182.1" cy="1336.3" rx="2.8" ry="2.5" fill="none" stroke="#44ee1e" stroke-width="1.5"/><ellipse cx="269.3" cy="1362.4" rx="2.1" ry="2.1" fill="#44ee1e"/><ellipse cx="176.8" cy="1418.5" rx="2.1" ry="1.3" fill="#44ee1e"/><ellipse cx="266.5" cy="1298.1" rx="2.9" ry="2.2" fill="#44ee1e"/><ellipse cx="263" cy="1377.6" rx="2.9" ry="2.1" fill="none" stroke="#44ee1e" stroke-width="1.5"/><ellipse cx="238.3" cy="1341.5" rx="2" ry="1.9" fill="#44ee1e"/><ellipse cx="179.6" cy="1428.2" rx="2.2" ry="2.1" fill="none" stroke="#44ee1e" stroke-width="1.5"/><ellipse cx="232.3" cy="1381.1" rx="2.9" ry="2.7" fill="none" stroke="#44ee1e" stroke-width="1.5"/><ellipse cx="282.4" cy="1307.9" rx="2.1" ry="2" fill="none" stroke="#44ee1e" stroke-width="1.5"/><ellipse cx="203.2" cy="1357.7" rx="2.8" ry="1.8" fill="#44ee1e"/><ellipse cx="158.9" cy="1304.8" rx="2.1" ry="1.6" fill="#44ee1e"/><ellipse cx="235.1" cy="1338.9" rx="2.5" ry="2" fill="none" stroke="#44ee1e" stroke-width="1.5"/><ellipse cx="243.7" cy="1346.2" rx="2.1" ry="1.4" fill="#44ee1e"/><ellipse cx="287.8" cy="1350.4" rx="2.7" ry="2.2" fill="none" stroke="#44ee1e" stroke-width="1.5"/><ellipse cx="209.2" cy="1396.5" rx="2.2" ry="2" fill="none" stroke="#44ee1e" stroke-width="1.5"/><ellipse cx="241.3" cy="1363.1" rx="2.3" ry="1.8" fill="none" stroke="#44ee1e" stroke-width="1.5"/><ellipse cx="241.9" cy="1363.5" rx="2.8" ry="2.1" fill="none" stroke="#44ee1e" stroke-width="1.5"/><ellipse cx="257.9" cy="1383.6" rx="2.7" ry="2.1" fill="none" stroke="#44ee1e" stroke-width="1.5"/><ellipse cx="158.9" cy="1367.3" rx="2.6" ry="1.9" fill="#44ee1e"/><ellipse cx="196.9" cy="1309.7" rx="2.6" ry="1.9" fill="#44ee1e"/><ellipse cx="281.8" cy="1399.8" rx="2.5" ry="2.5" fill="none" stroke="#44ee1e" stroke-width="1.5"/><ellipse cx="309.3" cy="1370.8" rx="2.7" ry="2.4" fill="none" stroke="#44ee1e" stroke-width="1.5"/><ellipse cx="283.2" cy="1307.5" rx="2.9" ry="2.3" fill="none" stroke="#44ee1e" stroke-width="1.5"/><ellipse cx="226.2" cy="1355.2" rx="2.7" ry="2.4" fill="none" stroke="#44ee1e" stroke-width="1.5"/><ellipse cx="227.7" cy="1351.8" rx="2.1" ry="1.4" fill="#44ee1e"/><ellipse cx="221.6" cy="1337.5" rx="2.9" ry="2.6" fill="none" stroke="#44ee1e" stroke-width="1.5"/><ellipse cx="177.8" cy="1349.5" rx="2.8" ry="2.8" fill="none" stroke="#44ee1e" stroke-width="1.5"/><ellipse cx="275.2" cy="1355.2" rx="2" ry="1.9" fill="none" stroke="#44ee1e" stroke-width="1.5"/><ellipse cx="184.8" cy="1300.1" rx="2.9" ry="1.9" fill="#44ee1e"/><ellipse cx="232.3" cy="1300.3" rx="2.7" ry="2.3" fill="none" stroke="#44ee1e" stroke-width="1.5"/><ellipse cx="206.2" cy="1337.1" rx="2.2" ry="2" fill="none" stroke="#44ee1e" stroke-width="1.5"/><ellipse cx="240.9" cy="1366.1" rx="2.6" ry="2.1" fill="none" stroke="#44ee1e" stroke-width="1.5"/><ellipse cx="201.8" cy="1351.4" rx="2.6" ry="1.7" fill="#44ee1e"/><ellipse cx="228.1" cy="1427.4" rx="2.5" ry="2.2" fill="none" stroke="#44ee1e" stroke-width="1.5"/><ellipse cx="218.3" cy="1313.4" rx="2.1" ry="2" fill="none" stroke="#44ee1e" stroke-width="1.5"/><ellipse cx="246.3" cy="1315.4" rx="2.5" ry="2.2" fill="#44ee1e"/><ellipse cx="218.4" cy="1378.9" rx="2.8" ry="2.2" fill="#44ee1e"/><ellipse cx="158.9" cy="1446.1" rx="2.8" ry="2.2" fill="none" stroke="#44ee1e" stroke-width="1.5"/></g>
<path d="M309.6,1340.8 C309.6,1347 309.6,1367.1 309.6,1377.6 C309.6,1388 312.3,1394.4 309.6,1403.3 C306.8,1412.3 301.8,1424.7 292.9,1431.4 C284,1438.1 269.9,1443.5 256.3,1443.5 C242.7,1443.5 225.6,1438.4 211.2,1431.4 C196.8,1424.5 176.6,1406.8 169.7,1401.9" fill="none" stroke="#fff" stroke-width="2.0" stroke-dasharray="7 5" opacity="0.92"/>
<rect x="322.1" y="1287.8" width="164.6" height="163.2" fill="#000" />
<g transform="translate(322.1,1287.8)"><rect x="0" y="0" width="164.6" height="163.2" fill="url(#rg10)" filter="url(#sp10)"/></g>
<g opacity="1.0"><ellipse cx="413.8" cy="1435.3" rx="3.2" ry="3" fill="#e744e7"/><ellipse cx="404.6" cy="1424" rx="2.8" ry="2.5" fill="#e744e7"/><ellipse cx="463.6" cy="1388.5" rx="3.2" ry="3.1" fill="#e744e7"/><ellipse cx="391.6" cy="1406.6" rx="2.5" ry="1.5" fill="#e744e7"/><ellipse cx="389.2" cy="1392.1" rx="2.5" ry="2.1" fill="none" stroke="#e744e7" stroke-width="1.5"/><ellipse cx="392.7" cy="1416.4" rx="3.6" ry="2.9" fill="#e744e7"/><ellipse cx="397.7" cy="1380.9" rx="3" ry="2.7" fill="#e744e7"/><ellipse cx="437" cy="1381.8" rx="3.1" ry="1.9" fill="#e744e7"/></g>
<path d="M478.8,1340.8 C478.8,1347 478.8,1367.1 478.8,1377.6 C478.8,1388 481.6,1394.4 478.8,1403.3 C476,1412.3 471,1424.7 462,1431.4 C453.1,1438.1 438.9,1443.5 425.1,1443.5 C411.4,1443.5 394.2,1438.4 379.7,1431.4 C365.2,1424.5 344.9,1406.8 337.9,1401.9" fill="none" stroke="#fff" stroke-width="2.0" stroke-dasharray="7 5" opacity="0.92"/>
<rect x="491.4" y="1287.8" width="164" height="163.2" fill="#000" />
<g transform="translate(491.4,1287.8)"><rect x="0" y="0" width="164" height="163.2" fill="url(#rg11)" filter="url(#sp11)"/></g>
<g opacity="1.0"><ellipse cx="565.8" cy="1331.1" rx="2.1" ry="2" fill="none" stroke="#44ee1e" stroke-width="1.5"/><ellipse cx="539.4" cy="1446.1" rx="2.6" ry="2.4" fill="none" stroke="#44ee1e" stroke-width="1.5"/><ellipse cx="519.6" cy="1336.3" rx="2.8" ry="2.5" fill="none" stroke="#44ee1e" stroke-width="1.5"/><ellipse cx="607.1" cy="1362.4" rx="2.1" ry="2.1" fill="#44ee1e"/><ellipse cx="514.3" cy="1418.5" rx="2.1" ry="1.3" fill="#44ee1e"/><ellipse cx="604.3" cy="1298.1" rx="2.9" ry="2.2" fill="#44ee1e"/><ellipse cx="600.8" cy="1377.6" rx="2.9" ry="2.1" fill="none" stroke="#44ee1e" stroke-width="1.5"/><ellipse cx="576" cy="1341.5" rx="2" ry="1.9" fill="#44ee1e"/><ellipse cx="517.1" cy="1428.2" rx="2.2" ry="2.1" fill="none" stroke="#44ee1e" stroke-width="1.5"/><ellipse cx="570" cy="1381.1" rx="2.9" ry="2.7" fill="none" stroke="#44ee1e" stroke-width="1.5"/><ellipse cx="620.3" cy="1307.9" rx="2.1" ry="2" fill="none" stroke="#44ee1e" stroke-width="1.5"/><ellipse cx="540.8" cy="1357.7" rx="2.8" ry="1.8" fill="#44ee1e"/><ellipse cx="496.3" cy="1304.8" rx="2.1" ry="1.6" fill="#44ee1e"/><ellipse cx="572.8" cy="1338.9" rx="2.5" ry="2" fill="none" stroke="#44ee1e" stroke-width="1.5"/><ellipse cx="581.5" cy="1346.2" rx="2.1" ry="1.4" fill="#44ee1e"/><ellipse cx="625.7" cy="1350.4" rx="2.7" ry="2.2" fill="none" stroke="#44ee1e" stroke-width="1.5"/><ellipse cx="546.8" cy="1396.5" rx="2.2" ry="2" fill="none" stroke="#44ee1e" stroke-width="1.5"/><ellipse cx="579" cy="1363.1" rx="2.3" ry="1.8" fill="none" stroke="#44ee1e" stroke-width="1.5"/><ellipse cx="579.6" cy="1363.5" rx="2.8" ry="2.1" fill="none" stroke="#44ee1e" stroke-width="1.5"/><ellipse cx="595.7" cy="1383.6" rx="2.7" ry="2.1" fill="none" stroke="#44ee1e" stroke-width="1.5"/><ellipse cx="496.3" cy="1367.3" rx="2.6" ry="1.9" fill="#44ee1e"/><ellipse cx="534.5" cy="1309.7" rx="2.6" ry="1.9" fill="#44ee1e"/><ellipse cx="619.7" cy="1399.8" rx="2.5" ry="2.5" fill="none" stroke="#44ee1e" stroke-width="1.5"/><ellipse cx="647.2" cy="1370.8" rx="2.7" ry="2.4" fill="none" stroke="#44ee1e" stroke-width="1.5"/><ellipse cx="621" cy="1307.5" rx="2.9" ry="2.3" fill="none" stroke="#44ee1e" stroke-width="1.5"/><ellipse cx="563.9" cy="1355.2" rx="2.7" ry="2.4" fill="none" stroke="#44ee1e" stroke-width="1.5"/><ellipse cx="565.4" cy="1351.8" rx="2.1" ry="1.4" fill="#44ee1e"/><ellipse cx="559.2" cy="1337.5" rx="2.9" ry="2.6" fill="none" stroke="#44ee1e" stroke-width="1.5"/><ellipse cx="515.3" cy="1349.5" rx="2.8" ry="2.8" fill="none" stroke="#44ee1e" stroke-width="1.5"/><ellipse cx="613" cy="1355.2" rx="2" ry="1.9" fill="none" stroke="#44ee1e" stroke-width="1.5"/><ellipse cx="522.3" cy="1300.1" rx="2.9" ry="1.9" fill="#44ee1e"/><ellipse cx="570" cy="1300.3" rx="2.7" ry="2.3" fill="none" stroke="#44ee1e" stroke-width="1.5"/><ellipse cx="543.8" cy="1337.1" rx="2.2" ry="2" fill="none" stroke="#44ee1e" stroke-width="1.5"/><ellipse cx="578.6" cy="1366.1" rx="2.6" ry="2.1" fill="none" stroke="#44ee1e" stroke-width="1.5"/><ellipse cx="539.3" cy="1351.4" rx="2.6" ry="1.7" fill="#44ee1e"/><ellipse cx="565.8" cy="1427.4" rx="2.5" ry="2.2" fill="none" stroke="#44ee1e" stroke-width="1.5"/><ellipse cx="556" cy="1313.4" rx="2.1" ry="2" fill="none" stroke="#44ee1e" stroke-width="1.5"/><ellipse cx="584" cy="1315.4" rx="2.5" ry="2.2" fill="#44ee1e"/><ellipse cx="556.1" cy="1378.9" rx="2.8" ry="2.2" fill="#44ee1e"/><ellipse cx="496.3" cy="1446.1" rx="2.8" ry="2.2" fill="none" stroke="#44ee1e" stroke-width="1.5"/></g>
<g transform="translate(491.4,1287.8)"><rect x="0" y="0" width="164" height="163.2" fill="url(#rg12)" filter="url(#sp12)"/></g>
<g opacity="1.0"><ellipse cx="582.8" cy="1435.3" rx="3.2" ry="3" fill="#e744e7"/><ellipse cx="573.6" cy="1424" rx="2.8" ry="2.5" fill="#e744e7"/><ellipse cx="632.4" cy="1388.5" rx="3.2" ry="3.1" fill="#e744e7"/><ellipse cx="560.7" cy="1406.6" rx="2.5" ry="1.5" fill="#e744e7"/><ellipse cx="558.3" cy="1392.1" rx="2.5" ry="2.1" fill="none" stroke="#e744e7" stroke-width="1.5"/><ellipse cx="561.8" cy="1416.4" rx="3.6" ry="2.9" fill="#e744e7"/><ellipse cx="566.7" cy="1380.9" rx="3" ry="2.7" fill="#e744e7"/><ellipse cx="605.9" cy="1381.8" rx="3.1" ry="1.9" fill="#e744e7"/></g>
<path d="M647.5,1340.8 C647.5,1347 647.5,1367.1 647.5,1377.6 C647.5,1388 650.3,1394.4 647.5,1403.3 C644.7,1412.3 639.7,1424.7 630.8,1431.4 C621.9,1438.1 607.7,1443.5 594.1,1443.5 C580.4,1443.5 563.3,1438.4 548.8,1431.4 C534.3,1424.5 514.1,1406.8 507.1,1401.9" fill="none" stroke="#fff" stroke-width="2.0" stroke-dasharray="7 5" opacity="0.92"/>
<text transform="translate(128.4,1028) rotate(-90)" font-size="37" font-weight="bold" text-anchor="middle" textLength="50.7" lengthAdjust="spacingAndGlyphs">Ctrl</text>
<text transform="translate(128.6,1199.5) rotate(-90)" font-size="37" font-weight="bold" text-anchor="middle" textLength="132.9" lengthAdjust="spacingAndGlyphs"><tspan font-style="italic">SOD1</tspan><tspan font-size="22.9" dy="-14.1" font-style="italic">G93A</tspan><tspan dy="14.1">​</tspan></text>
<text transform="translate(112,1368) rotate(-90)" font-size="25" font-weight="bold" text-anchor="middle" textLength="96" lengthAdjust="spacingAndGlyphs"><tspan font-style="italic">SOD1</tspan><tspan font-size="15.5" dy="-9.5" font-style="italic">G93A</tspan><tspan dy="9.5">​</tspan><tspan dy="-2">;</tspan></text>
<text transform="translate(138.8,1367) rotate(-90)" font-size="25" font-weight="bold" text-anchor="middle" textLength="149.7" lengthAdjust="spacingAndGlyphs">scAAV9-sh<tspan font-style="italic">Fto</tspan></text>
<text x="199.1" y="987.7" font-size="30" font-weight="bold" text-anchor="middle" fill="#fff" textLength="63" lengthAdjust="spacingAndGlyphs">P140</text>
<text x="157.6" y="1092.5" font-size="10.5" font-weight="bold" fill="#fff" textLength="35.4" lengthAdjust="spacingAndGlyphs">100 µm</text>
<line x1="163" y1="1099.7" x2="186.3" y2="1099.7" stroke="#fff" stroke-width="1.8" />
<rect x="151.5" y="1503.2" width="164.4" height="35.8" fill="#fff" stroke="#222" stroke-width="1.6" />
<text x="240" y="1533.3" font-size="31" font-weight="bold" text-anchor="middle" textLength="85" lengthAdjust="spacingAndGlyphs"><tspan fill="#3ff21a">GFAP</tspan></text>
<rect x="320.6" y="1503.2" width="164.2" height="35.8" fill="#fff" stroke="#222" stroke-width="1.6" />
<text x="398.7" y="1532.5" font-size="31" font-weight="bold" text-anchor="middle" textLength="81.4" lengthAdjust="spacingAndGlyphs"><tspan fill="#ff45ff">ChAT</tspan></text>
<rect x="489.2" y="1503.2" width="164.4" height="35.8" fill="#fff" stroke="#222" stroke-width="1.6" />
<text x="570.8" y="1533" font-size="31" font-weight="bold" text-anchor="middle" textLength="157.6" lengthAdjust="spacingAndGlyphs"><tspan fill="#3ff21a">GFAP</tspan> <tspan fill="#ff45ff">ChAT</tspan></text>
<rect x="84.6" y="1544.6" width="61.8" height="164.1" fill="#fff" stroke="#222" stroke-width="1.6" />
<rect x="151.9" y="1545.2" width="163.3" height="162.9" fill="#000" />
<g transform="translate(151.9,1545.2)"><rect x="0" y="0" width="163.3" height="162.9" fill="url(#rg13)" filter="url(#sp13)"/></g>
<path d="M159.9,1664.3 C162.9,1667.2 172.1,1677.3 178,1682 C183.9,1686.8 187.3,1689.6 195.2,1692.6 C203.1,1695.6 215.1,1698.3 225.4,1700 C235.7,1701.6 246,1703 256.9,1702.7 C267.8,1702.5 281.7,1700.7 290.7,1698.3 C299.7,1695.9 307.4,1689.9 310.8,1688.2" fill="none" stroke="#fff" stroke-width="2.0" stroke-dasharray="7 5" opacity="0.92"/>
<rect x="320.4" y="1545.2" width="163.5" height="162.9" fill="#000" />
<g transform="translate(320.4,1545.2)"><rect x="0" y="0" width="163.5" height="162.9" fill="url(#rg14)" filter="url(#sp14)"/></g>
<g opacity="1.0"><ellipse cx="437.7" cy="1636.7" rx="3.2" ry="2.5" fill="none" stroke="#e744e7" stroke-width="1.5"/><ellipse cx="443.9" cy="1635.8" rx="2.9" ry="1.8" fill="#e744e7"/><ellipse cx="444.1" cy="1662.7" rx="2.2" ry="2.2" fill="#e744e7"/><ellipse cx="434.2" cy="1659" rx="3.4" ry="2.4" fill="#e744e7"/><ellipse cx="477.7" cy="1628.4" rx="3.1" ry="2.9" fill="#e744e7"/><ellipse cx="478" cy="1637.5" rx="3.2" ry="2.7" fill="none" stroke="#e744e7" stroke-width="1.5"/></g>
<path d="M328.4,1664.3 C331.4,1667.2 340.7,1677.3 346.6,1682 C352.4,1686.8 355.8,1689.6 363.7,1692.6 C371.6,1695.6 383.7,1698.3 394,1700 C404.3,1701.6 414.6,1703 425.5,1702.7 C436.4,1702.5 450.4,1700.7 459.4,1698.3 C468.4,1695.9 476.1,1689.9 479.5,1688.2" fill="none" stroke="#fff" stroke-width="2.0" stroke-dasharray="7 5" opacity="0.92"/>
<rect x="489.6" y="1545.2" width="163.7" height="162.9" fill="#000" />
<g transform="translate(489.6,1545.2)"><rect x="0" y="0" width="163.7" height="162.9" fill="url(#rg15)" filter="url(#sp15)"/></g>
<g transform="translate(489.6,1545.2)"><rect x="0" y="0" width="163.7" height="162.9" fill="url(#rg16)" filter="url(#sp16)"/></g>
<g opacity="1.0"><ellipse cx="607" cy="1636.7" rx="3.2" ry="2.5" fill="none" stroke="#e744e7" stroke-width="1.5"/><ellipse cx="613.2" cy="1635.8" rx="2.9" ry="1.8" fill="#e744e7"/><ellipse cx="613.4" cy="1662.7" rx="2.2" ry="2.2" fill="#e744e7"/><ellipse cx="603.5" cy="1659" rx="3.4" ry="2.4" fill="#e744e7"/><ellipse cx="647.1" cy="1628.4" rx="3.1" ry="2.9" fill="#e744e7"/><ellipse cx="647.4" cy="1637.5" rx="3.2" ry="2.7" fill="none" stroke="#e744e7" stroke-width="1.5"/></g>
<path d="M497.6,1664.3 C500.6,1667.2 509.9,1677.3 515.8,1682 C521.7,1686.8 525.1,1689.6 533,1692.6 C540.9,1695.6 553,1698.3 563.3,1700 C573.6,1701.6 583.9,1703 594.9,1702.7 C605.8,1702.5 619.7,1700.7 628.7,1698.3 C637.7,1695.9 645.5,1689.9 648.9,1688.2" fill="none" stroke="#fff" stroke-width="2.0" stroke-dasharray="7 5" opacity="0.92"/>
<rect x="84.6" y="1714.8" width="61.8" height="164.3" fill="#fff" stroke="#222" stroke-width="1.6" />
<rect x="151.9" y="1715.4" width="163.3" height="163.1" fill="#000" />
<g transform="translate(151.9,1715.4)"><rect x="0" y="0" width="163.3" height="163.1" fill="url(#rg17)" filter="url(#sp17)"/></g>
<path d="M156.8,1838.9 C161.4,1842.2 174.5,1854 184.6,1858.9 C194.6,1863.9 205.6,1866.7 217.2,1868.7 C228.8,1870.8 242,1871.4 254.3,1871.2 C266.5,1870.9 280.8,1869.6 290.7,1867.1 C300.6,1864.6 309.8,1858.1 313.6,1856.3" fill="none" stroke="#fff" stroke-width="2.0" stroke-dasharray="7 5" opacity="0.92"/>
<rect x="320.4" y="1715.4" width="163.5" height="163.1" fill="#000" />
<g transform="translate(320.4,1715.4)"><rect x="0" y="0" width="163.5" height="163.1" fill="url(#rg18)" filter="url(#sp18)"/></g>
<g opacity="1.0"><ellipse cx="453.1" cy="1813.5" rx="2.9" ry="2.3" fill="#e744e7"/><ellipse cx="400.5" cy="1819.3" rx="2.2" ry="2" fill="#e744e7"/><ellipse cx="446.4" cy="1846.8" rx="2.9" ry="2.8" fill="#e744e7"/><ellipse cx="435.5" cy="1809.1" rx="3.3" ry="2.2" fill="#e744e7"/><ellipse cx="457.7" cy="1816.1" rx="2.4" ry="2.4" fill="#e744e7"/><ellipse cx="422.7" cy="1828.3" rx="2.9" ry="2.4" fill="#e744e7"/><ellipse cx="433.4" cy="1827.1" rx="3.2" ry="2.5" fill="#e744e7"/><ellipse cx="479" cy="1837.3" rx="2.7" ry="2.4" fill="#e744e7"/></g>
<path d="M325.3,1838.9 C329.9,1842.2 343,1854 353.1,1858.9 C363.2,1863.9 374.2,1866.7 385.8,1868.7 C397.4,1870.8 410.7,1871.4 422.9,1871.2 C435.2,1870.9 449.5,1869.6 459.4,1867.1 C469.3,1864.6 478.4,1858.1 482.3,1856.3" fill="none" stroke="#fff" stroke-width="2.0" stroke-dasharray="7 5" opacity="0.92"/>
<rect x="489.6" y="1715.4" width="163.7" height="163.1" fill="#000" />
<g transform="translate(489.6,1715.4)"><rect x="0" y="0" width="163.7" height="163.1" fill="url(#rg19)" filter="url(#sp19)"/></g>
<g transform="translate(489.6,1715.4)"><rect x="0" y="0" width="163.7" height="163.1" fill="url(#rg20)" filter="url(#sp20)"/></g>
<g opacity="1.0"><ellipse cx="622.5" cy="1813.5" rx="2.9" ry="2.3" fill="#e744e7"/><ellipse cx="569.8" cy="1819.3" rx="2.2" ry="2" fill="#e744e7"/><ellipse cx="615.7" cy="1846.8" rx="2.9" ry="2.8" fill="#e744e7"/><ellipse cx="604.9" cy="1809.1" rx="3.3" ry="2.2" fill="#e744e7"/><ellipse cx="627.1" cy="1816.1" rx="2.4" ry="2.4" fill="#e744e7"/><ellipse cx="592.1" cy="1828.3" rx="2.9" ry="2.4" fill="#e744e7"/><ellipse cx="602.7" cy="1827.1" rx="3.2" ry="2.5" fill="#e744e7"/><ellipse cx="648.4" cy="1837.3" rx="2.7" ry="2.4" fill="#e744e7"/></g>
<path d="M494.5,1838.9 C499.1,1842.2 512.2,1854 522.3,1858.9 C532.4,1863.9 543.4,1866.7 555.1,1868.7 C566.7,1870.8 580,1871.4 592.2,1871.2 C604.5,1870.9 618.8,1869.6 628.7,1867.1 C638.6,1864.6 647.8,1858.1 651.7,1856.3" fill="none" stroke="#fff" stroke-width="2.0" stroke-dasharray="7 5" opacity="0.92"/>
<rect x="84.6" y="1885.2" width="61.8" height="164.4" fill="#fff" stroke="#222" stroke-width="1.6" />
<rect x="151.9" y="1885.8" width="163.3" height="163.2" fill="#000" />
<g transform="translate(151.9,1885.8)"><rect x="0" y="0" width="163.3" height="163.2" fill="url(#rg21)" filter="url(#sp21)"/></g>
<path d="M169.7,1997.6 C174.9,2002.6 190.2,2021.1 200.9,2027.8 C211.5,2034.4 221.5,2035.6 233.6,2037.6 C245.6,2039.5 261.6,2041.4 273.1,2039.5 C284.5,2037.6 295.5,2032.2 302.1,2026.2 C308.7,2020.1 310.6,2010.1 312.8,2003.3 C314.9,1996.5 314.7,1988.3 315,1985.4" fill="none" stroke="#fff" stroke-width="2.0" stroke-dasharray="7 5" opacity="0.92"/>
<rect x="320.4" y="1885.8" width="163.5" height="163.2" fill="#000" />
<g transform="translate(320.4,1885.8)"><rect x="0" y="0" width="163.5" height="163.2" fill="url(#rg22)" filter="url(#sp22)"/></g>
<g opacity="1.0"><ellipse cx="451.4" cy="2019.1" rx="2.9" ry="2.4" fill="#e744e7"/><ellipse cx="435.8" cy="1975" rx="3.5" ry="3.2" fill="#e744e7"/><ellipse cx="448.5" cy="2035.9" rx="2.3" ry="2" fill="#e744e7"/><ellipse cx="435.1" cy="2021.4" rx="3.3" ry="2.4" fill="#e744e7"/><ellipse cx="441.6" cy="2037.1" rx="2.2" ry="1.7" fill="#e744e7"/><ellipse cx="426.3" cy="2016.5" rx="2.4" ry="1.9" fill="#e744e7"/><ellipse cx="417.2" cy="1996.6" rx="2.7" ry="2.1" fill="#e744e7"/><ellipse cx="461.5" cy="2020.2" rx="2.9" ry="2.1" fill="#e744e7"/><ellipse cx="459.7" cy="1997.8" rx="2.5" ry="2.3" fill="#e744e7"/><ellipse cx="437.3" cy="1988.8" rx="3.1" ry="2.6" fill="#e744e7"/></g>
<path d="M338.2,1997.6 C343.4,2002.6 358.8,2021.1 369.4,2027.8 C380.1,2034.4 390.1,2035.6 402.1,2037.6 C414.2,2039.5 430.3,2041.4 441.7,2039.5 C453.2,2037.6 464.2,2032.2 470.8,2026.2 C477.4,2020.1 479.3,2010.1 481.4,2003.3 C483.6,1996.5 483.4,1988.3 483.7,1985.4" fill="none" stroke="#fff" stroke-width="2.0" stroke-dasharray="7 5" opacity="0.92"/>
<rect x="489.6" y="1885.8" width="163.7" height="163.2" fill="#000" />
<g transform="translate(489.6,1885.8)"><rect x="0" y="0" width="163.7" height="163.2" fill="url(#rg23)" filter="url(#sp23)"/></g>
<g transform="translate(489.6,1885.8)"><rect x="0" y="0" width="163.7" height="163.2" fill="url(#rg24)" filter="url(#sp24)"/></g>
<g opacity="1.0"><ellipse cx="620.8" cy="2019.1" rx="2.9" ry="2.4" fill="#e744e7"/><ellipse cx="605.2" cy="1975" rx="3.5" ry="3.2" fill="#e744e7"/><ellipse cx="617.9" cy="2035.9" rx="2.3" ry="2" fill="#e744e7"/><ellipse cx="604.4" cy="2021.4" rx="3.3" ry="2.4" fill="#e744e7"/><ellipse cx="611" cy="2037.1" rx="2.2" ry="1.7" fill="#e744e7"/><ellipse cx="595.6" cy="2016.5" rx="2.4" ry="1.9" fill="#e744e7"/><ellipse cx="586.5" cy="1996.6" rx="2.7" ry="2.1" fill="#e744e7"/><ellipse cx="630.9" cy="2020.2" rx="2.9" ry="2.1" fill="#e744e7"/><ellipse cx="629.1" cy="1997.8" rx="2.5" ry="2.3" fill="#e744e7"/><ellipse cx="606.6" cy="1988.8" rx="3.1" ry="2.6" fill="#e744e7"/></g>
<path d="M507.4,1997.6 C512.7,2002.6 528,2021.1 538.7,2027.8 C549.4,2034.4 559.4,2035.6 571.5,2037.6 C583.5,2039.5 599.6,2041.4 611.1,2039.5 C622.5,2037.6 633.6,2032.2 640.2,2026.2 C646.8,2020.1 648.7,2010.1 650.8,2003.3 C653,1996.5 652.8,1988.3 653.1,1985.4" fill="none" stroke="#fff" stroke-width="2.0" stroke-dasharray="7 5" opacity="0.92"/>
<text transform="translate(128.4,1626) rotate(-90)" font-size="37" font-weight="bold" text-anchor="middle" textLength="52.2" lengthAdjust="spacingAndGlyphs">Ctrl</text>
<text transform="translate(128.6,1797) rotate(-90)" font-size="37" font-weight="bold" text-anchor="middle" textLength="132.9" lengthAdjust="spacingAndGlyphs"><tspan font-style="italic">SOD1</tspan><tspan font-size="22.9" dy="-14.1" font-style="italic">G93A</tspan><tspan dy="14.1">​</tspan></text>
<text transform="translate(112,1966) rotate(-90)" font-size="25" font-weight="bold" text-anchor="middle" textLength="96" lengthAdjust="spacingAndGlyphs"><tspan font-style="italic">SOD1</tspan><tspan font-size="15.5" dy="-9.5" font-style="italic">G93A</tspan><tspan dy="9.5">​</tspan><tspan dy="-2">;</tspan></text>
<text transform="translate(138.8,1965) rotate(-90)" font-size="25" font-weight="bold" text-anchor="middle" textLength="149.7" lengthAdjust="spacingAndGlyphs">scAAV9-sh<tspan font-style="italic">Fto</tspan></text>
<text x="199.1" y="1584" font-size="30" font-weight="bold" text-anchor="middle" fill="#fff" textLength="63" lengthAdjust="spacingAndGlyphs">P140</text>
<text x="156" y="1693.6" font-size="10.5" font-weight="bold" fill="#fff" textLength="34" lengthAdjust="spacingAndGlyphs">100 µm</text>
<line x1="161.4" y1="1701.7" x2="184.8" y2="1701.7" stroke="#fff" stroke-width="1.8" />
<line x1="131.8" y1="2114" x2="131.8" y2="2389.9" stroke="#000" stroke-width="1.6" stroke-linecap="square"/>
<line x1="120.5" y1="2389.9" x2="131.8" y2="2389.9" stroke="#000" stroke-width="1.6" />
<text x="117.3" y="2397.5" font-size="21.5" font-weight="bold" text-anchor="end">0</text>
<line x1="120.5" y1="2334.8" x2="131.8" y2="2334.8" stroke="#000" stroke-width="1.6" />
<text x="117.3" y="2342.4" font-size="21.5" font-weight="bold" text-anchor="end">5</text>
<line x1="120.5" y1="2279.7" x2="131.8" y2="2279.7" stroke="#000" stroke-width="1.6" />
<text x="117.3" y="2287.3" font-size="21.5" font-weight="bold" text-anchor="end">10</text>
<line x1="120.5" y1="2224.6" x2="131.8" y2="2224.6" stroke="#000" stroke-width="1.6" />
<text x="117.3" y="2232.2" font-size="21.5" font-weight="bold" text-anchor="end">15</text>
<line x1="120.5" y1="2169.5" x2="131.8" y2="2169.5" stroke="#000" stroke-width="1.6" />
<text x="117.3" y="2177.1" font-size="21.5" font-weight="bold" text-anchor="end">20</text>
<line x1="120.5" y1="2114.4" x2="131.8" y2="2114.4" stroke="#000" stroke-width="1.6" />
<text x="117.3" y="2122" font-size="21.5" font-weight="bold" text-anchor="end">25</text>
<line x1="120.5" y1="2389.9" x2="310.8" y2="2389.9" stroke="#000" stroke-width="1.6" />
<line x1="168.2" y1="2389.9" x2="168.2" y2="2401.7" stroke="#000" stroke-width="1.6" />
<line x1="221.3" y1="2389.9" x2="221.3" y2="2401.7" stroke="#000" stroke-width="1.6" />
<line x1="274.4" y1="2389.9" x2="274.4" y2="2401.7" stroke="#000" stroke-width="1.6" />
<circle cx="168.2" cy="2169.4" r="5" fill="#000" />
<circle cx="168.2" cy="2190.4" r="5" fill="#000" />
<circle cx="159.8" cy="2213.6" r="5" fill="#000" />
<circle cx="174.6" cy="2213.6" r="5" fill="#000" />
<line x1="168.2" y1="2175.6" x2="168.2" y2="2216.3" stroke="#000" stroke-width="1.5" />
<line x1="158.7" y1="2175.6" x2="177.7" y2="2175.6" stroke="#000" stroke-width="1.5" />
<line x1="158.7" y1="2216.3" x2="177.7" y2="2216.3" stroke="#000" stroke-width="1.5" />
<line x1="150.2" y1="2197.1" x2="186.2" y2="2197.1" stroke="#000" stroke-width="1.8" />
<circle cx="212.9" cy="2289.6" r="5" fill="#e9a3f0" />
<circle cx="228.7" cy="2289.6" r="5" fill="#e9a3f0" />
<circle cx="221.3" cy="2301.2" r="5" fill="#e9a3f0" />
<circle cx="221.3" cy="2312.2" r="5" fill="#e9a3f0" />
<line x1="221.3" y1="2287.4" x2="221.3" y2="2308.4" stroke="#e9a3f0" stroke-width="1.5" />
<line x1="211.8" y1="2287.4" x2="230.8" y2="2287.4" stroke="#e9a3f0" stroke-width="1.5" />
<line x1="211.8" y1="2308.4" x2="230.8" y2="2308.4" stroke="#e9a3f0" stroke-width="1.5" />
<line x1="203.3" y1="2298.4" x2="239.3" y2="2298.4" stroke="#e9a3f0" stroke-width="1.8" />
<circle cx="266" cy="2224" r="5" fill="#8db0dc" />
<circle cx="282.8" cy="2224" r="5" fill="#8db0dc" />
<circle cx="274.4" cy="2235.6" r="5" fill="#8db0dc" />
<circle cx="274.4" cy="2268.1" r="5" fill="#8db0dc" />
<line x1="274.4" y1="2218" x2="274.4" y2="2258.2" stroke="#8db0dc" stroke-width="1.5" />
<line x1="264.9" y1="2218" x2="283.9" y2="2218" stroke="#8db0dc" stroke-width="1.5" />
<line x1="264.9" y1="2258.2" x2="283.9" y2="2258.2" stroke="#8db0dc" stroke-width="1.5" />
<line x1="256.4" y1="2237.8" x2="292.4" y2="2237.8" stroke="#8db0dc" stroke-width="1.8" />
<polyline points="168.2,2121.9 168.2,2106.7 217.8,2106.7 217.8,2118" stroke="#000" stroke-width="1.5" fill="none" />
<text x="185.7" y="2098.3" font-size="23" text-anchor="middle" textLength="107.7" lengthAdjust="spacingAndGlyphs">P = 0.0001</text>
<polyline points="221.3,2185.3 221.3,2166.2 274.4,2166.2 274.4,2203" stroke="#000" stroke-width="1.5" fill="none" />
<text x="249.3" y="2157.3" font-size="23" text-anchor="middle" textLength="108.2" lengthAdjust="spacingAndGlyphs">P = 0.0020</text>
<text transform="translate(79.5,2253.2) rotate(-90)" font-size="24.5" font-weight="bold" text-anchor="middle" textLength="177" lengthAdjust="spacingAndGlyphs">MN # (ChAT<tspan font-size="15.2" dy="-9.3">on</tspan><tspan dy="9.3">​</tspan>)</text>
<line x1="523.7" y1="2135.2" x2="523.7" y2="2389.9" stroke="#000" stroke-width="1.6" stroke-linecap="square"/>
<line x1="512.8" y1="2389.9" x2="523.7" y2="2389.9" stroke="#000" stroke-width="1.6" />
<text x="509.5" y="2397.5" font-size="27.7" font-weight="bold" text-anchor="end">0</text>
<line x1="512.8" y1="2326.2" x2="523.7" y2="2326.2" stroke="#000" stroke-width="1.6" />
<text x="509.5" y="2333.8" font-size="27.7" font-weight="bold" text-anchor="end">200</text>
<line x1="512.8" y1="2262.5" x2="523.7" y2="2262.5" stroke="#000" stroke-width="1.6" />
<text x="509.5" y="2270.1" font-size="27.7" font-weight="bold" text-anchor="end">400</text>
<line x1="512.8" y1="2198.8" x2="523.7" y2="2198.8" stroke="#000" stroke-width="1.6" />
<text x="509.5" y="2206.4" font-size="27.7" font-weight="bold" text-anchor="end">600</text>
<line x1="512.8" y1="2135.1" x2="523.7" y2="2135.1" stroke="#000" stroke-width="1.6" />
<text x="509.5" y="2142.7" font-size="27.7" font-weight="bold" text-anchor="end">800</text>
<line x1="513.8" y1="2389.9" x2="693.3" y2="2389.9" stroke="#000" stroke-width="1.6" />
<line x1="558.1" y1="2389.9" x2="558.1" y2="2401.7" stroke="#000" stroke-width="1.6" />
<line x1="608.7" y1="2389.9" x2="608.7" y2="2401.7" stroke="#000" stroke-width="1.6" />
<line x1="659.9" y1="2389.9" x2="659.9" y2="2401.7" stroke="#000" stroke-width="1.6" />
<circle cx="545.8" cy="2360.4" r="5" fill="#000" />
<circle cx="559" cy="2360.4" r="5" fill="#000" />
<circle cx="570.4" cy="2366.3" r="5" fill="#000" />
<circle cx="545.8" cy="2370.2" r="5" fill="#000" />
<line x1="558.1" y1="2361.4" x2="558.1" y2="2370.2" stroke="#000" stroke-width="1.5" />
<line x1="548.6" y1="2361.4" x2="567.6" y2="2361.4" stroke="#000" stroke-width="1.5" />
<line x1="548.6" y1="2370.2" x2="567.6" y2="2370.2" stroke="#000" stroke-width="1.5" />
<line x1="541.1" y1="2367.3" x2="575.1" y2="2367.3" stroke="#000" stroke-width="1.8" />
<circle cx="608.7" cy="2202.9" r="5" fill="#e9a3f0" />
<circle cx="608.7" cy="2231" r="5" fill="#e9a3f0" />
<circle cx="608.7" cy="2253.3" r="5" fill="#e9a3f0" />
<circle cx="608.7" cy="2275.4" r="5" fill="#e9a3f0" />
<line x1="608.7" y1="2210.4" x2="608.7" y2="2271.9" stroke="#e9a3f0" stroke-width="1.5" />
<line x1="599.2" y1="2210.4" x2="618.2" y2="2210.4" stroke="#e9a3f0" stroke-width="1.5" />
<line x1="599.2" y1="2271.9" x2="618.2" y2="2271.9" stroke="#e9a3f0" stroke-width="1.5" />
<line x1="591.7" y1="2240.9" x2="625.7" y2="2240.9" stroke="#e9a3f0" stroke-width="1.8" />
<circle cx="659.9" cy="2273.1" r="5" fill="#8db0dc" />
<circle cx="652.5" cy="2305" r="5" fill="#8db0dc" />
<circle cx="667.3" cy="2305" r="5" fill="#8db0dc" />
<circle cx="659.9" cy="2367.3" r="5" fill="#8db0dc" />
<line x1="659.9" y1="2273.1" x2="659.9" y2="2351.5" stroke="#8db0dc" stroke-width="1.5" />
<line x1="650.4" y1="2273.1" x2="669.4" y2="2273.1" stroke="#8db0dc" stroke-width="1.5" />
<line x1="650.4" y1="2351.5" x2="669.4" y2="2351.5" stroke="#8db0dc" stroke-width="1.5" />
<line x1="642.9" y1="2312.5" x2="676.9" y2="2312.5" stroke="#8db0dc" stroke-width="1.8" />
<polyline points="558.1,2298.9 558.1,2122.9 608.7,2122.9 608.7,2134.2" stroke="#000" stroke-width="1.5" fill="none" />
<text x="580.2" y="2115.5" font-size="23" text-anchor="middle" textLength="108.2" lengthAdjust="spacingAndGlyphs">P = 0.0002</text>
<polyline points="608.7,2189.3 608.7,2172.1 659.9,2172.1 659.9,2235" stroke="#000" stroke-width="1.5" fill="none" />
<text x="635" y="2164.7" font-size="23" text-anchor="middle" textLength="106.7" lengthAdjust="spacingAndGlyphs">P = 0.0287</text>
<text transform="translate(443,2267.9) rotate(-90)" font-size="25.5" font-weight="bold" text-anchor="middle" textLength="309.8" lengthAdjust="spacingAndGlyphs"># of GFAP<tspan font-size="15.8" dy="-9.7">on</tspan><tspan dy="9.7">​</tspan> cells/ mm<tspan font-size="15.8" dy="-9.7">2</tspan><tspan dy="9.7">​</tspan></text>
<circle cx="179.5" cy="2435" r="3.8" fill="#000" />
<text x="195.2" y="2440.5" font-size="20.5" textLength="28.5" lengthAdjust="spacingAndGlyphs">Ctrl</text>
<circle cx="179.5" cy="2459.5" r="3.8" fill="#e9a3f0" />
<text x="195.2" y="2466" font-size="20.5" textLength="81" lengthAdjust="spacingAndGlyphs"><tspan font-style="italic">SOD1</tspan><tspan font-size="12.7" dy="-7.8" font-style="italic">G93A</tspan><tspan dy="7.8">​</tspan></text>
<circle cx="179.5" cy="2487.3" r="3.8" fill="#8db0dc" />
<text x="195.2" y="2494" font-size="20.5" textLength="214" lengthAdjust="spacingAndGlyphs"><tspan font-style="italic">SOD1</tspan><tspan font-size="12.7" dy="-7.8" font-style="italic">G93A</tspan><tspan dy="7.8">​</tspan>; scAAV9-sh<tspan font-style="italic">Fto</tspan></text>
<circle cx="527.6" cy="2435" r="3.8" fill="#000" />
<text x="543.3" y="2440.5" font-size="20.5" textLength="28.5" lengthAdjust="spacingAndGlyphs">Ctrl</text>
<circle cx="527.6" cy="2459.5" r="3.8" fill="#e9a3f0" />
<text x="543.3" y="2466" font-size="20.5" textLength="81" lengthAdjust="spacingAndGlyphs"><tspan font-style="italic">SOD1</tspan><tspan font-size="12.7" dy="-7.8" font-style="italic">G93A</tspan><tspan dy="7.8">​</tspan></text>
<circle cx="527.6" cy="2487.3" r="3.8" fill="#8db0dc" />
<text x="543.3" y="2494" font-size="20.5" textLength="214" lengthAdjust="spacingAndGlyphs"><tspan font-style="italic">SOD1</tspan><tspan font-size="12.7" dy="-7.8" font-style="italic">G93A</tspan><tspan dy="7.8">​</tspan>; scAAV9-sh<tspan font-style="italic">Fto</tspan></text>
<line x1="1170.5" y1="1026" x2="1170.5" y2="1344" stroke="#000" stroke-width="1.6" stroke-linecap="square"/>
<line x1="1158" y1="1344" x2="1170.5" y2="1344" stroke="#000" stroke-width="1.6" />
<text x="1145.5" y="1352.9" font-size="31.2" font-weight="bold" text-anchor="end">0</text>
<line x1="1158" y1="1280.4" x2="1170.5" y2="1280.4" stroke="#000" stroke-width="1.6" />
<text x="1145.5" y="1289.3" font-size="31.2" font-weight="bold" text-anchor="end">10</text>
<line x1="1158" y1="1216.8" x2="1170.5" y2="1216.8" stroke="#000" stroke-width="1.6" />
<text x="1145.5" y="1225.7" font-size="31.2" font-weight="bold" text-anchor="end">20</text>
<line x1="1158" y1="1153.2" x2="1170.5" y2="1153.2" stroke="#000" stroke-width="1.6" />
<text x="1145.5" y="1162.1" font-size="31.2" font-weight="bold" text-anchor="end">30</text>
<line x1="1158" y1="1089.6" x2="1170.5" y2="1089.6" stroke="#000" stroke-width="1.6" />
<text x="1145.5" y="1098.5" font-size="31.2" font-weight="bold" text-anchor="end">40</text>
<line x1="1158" y1="1026" x2="1170.5" y2="1026" stroke="#000" stroke-width="1.6" />
<text x="1145.5" y="1034.9" font-size="31.2" font-weight="bold" text-anchor="end">50</text>
<line x1="1158" y1="1344" x2="1723.7" y2="1344" stroke="#000" stroke-width="1.6" />
<line x1="1235.6" y1="1344" x2="1235.6" y2="1356.3" stroke="#000" stroke-width="1.6" />
<line x1="1376.5" y1="1344" x2="1376.5" y2="1356.3" stroke="#000" stroke-width="1.6" />
<line x1="1517.1" y1="1344" x2="1517.1" y2="1356.3" stroke="#000" stroke-width="1.6" />
<line x1="1658" y1="1344" x2="1658" y2="1356.3" stroke="#000" stroke-width="1.6" />
<text x="1226.6" y="1391" font-size="29" font-weight="bold" text-anchor="middle">P60</text>
<text x="1369.6" y="1391" font-size="29" font-weight="bold" text-anchor="middle">P120</text>
<text x="1510.2" y="1391" font-size="29" font-weight="bold" text-anchor="middle">P140</text>
<text x="1650.3" y="1391" font-size="29" font-weight="bold" text-anchor="middle">P160</text>
<circle cx="1196.2" cy="1076.2" r="4.8" fill="#000" />
<circle cx="1185.2" cy="1082.9" r="4.8" fill="#000" />
<circle cx="1190.6" cy="1094.1" r="4.8" fill="#000" />
<circle cx="1190.6" cy="1136.7" r="4.8" fill="#000" />
<circle cx="1190.6" cy="1188.8" r="4.8" fill="#000" />
<circle cx="1190.6" cy="1225.1" r="4.8" fill="#000" />
<line x1="1190.6" y1="1072.4" x2="1190.6" y2="1194.5" stroke="#000" stroke-width="1.5" />
<line x1="1184.6" y1="1072.4" x2="1196.6" y2="1072.4" stroke="#000" stroke-width="1.5" />
<line x1="1184.6" y1="1194.5" x2="1196.6" y2="1194.5" stroke="#000" stroke-width="1.5" />
<line x1="1180.1" y1="1133.8" x2="1201.1" y2="1133.8" stroke="#000" stroke-width="1.8" />
<circle cx="1220.6" cy="1118.2" r="4.8" fill="#ae9bdc" />
<circle cx="1220.6" cy="1134.1" r="4.8" fill="#ae9bdc" />
<circle cx="1214.9" cy="1153.2" r="4.8" fill="#ae9bdc" />
<circle cx="1226.3" cy="1153.2" r="4.8" fill="#ae9bdc" />
<circle cx="1220.6" cy="1198.4" r="4.8" fill="#ae9bdc" />
<circle cx="1220.6" cy="1228.9" r="4.8" fill="#ae9bdc" />
<line x1="1220.6" y1="1122" x2="1220.6" y2="1206" stroke="#ae9bdc" stroke-width="1.5" />
<line x1="1214.6" y1="1122" x2="1226.6" y2="1122" stroke="#ae9bdc" stroke-width="1.5" />
<line x1="1214.6" y1="1206" x2="1226.6" y2="1206" stroke="#ae9bdc" stroke-width="1.5" />
<line x1="1210.1" y1="1164" x2="1231.1" y2="1164" stroke="#ae9bdc" stroke-width="1.8" />
<circle cx="1250.9" cy="1179.9" r="4.8" fill="#e9a3f0" />
<circle cx="1250.9" cy="1215.5" r="4.8" fill="#e9a3f0" />
<circle cx="1245.4" cy="1237.8" r="4.8" fill="#e9a3f0" />
<circle cx="1256.4" cy="1237.8" r="4.8" fill="#e9a3f0" />
<circle cx="1250.9" cy="1258.8" r="4.8" fill="#e9a3f0" />
<line x1="1250.9" y1="1195.8" x2="1250.9" y2="1255" stroke="#e9a3f0" stroke-width="1.5" />
<line x1="1244.9" y1="1195.8" x2="1256.9" y2="1195.8" stroke="#e9a3f0" stroke-width="1.5" />
<line x1="1244.9" y1="1255" x2="1256.9" y2="1255" stroke="#e9a3f0" stroke-width="1.5" />
<line x1="1240.4" y1="1226" x2="1261.4" y2="1226" stroke="#e9a3f0" stroke-width="1.8" />
<circle cx="1280.9" cy="1078.8" r="4.8" fill="#8db0dc" />
<circle cx="1280.9" cy="1117.6" r="4.8" fill="#8db0dc" />
<circle cx="1280.9" cy="1168.5" r="4.8" fill="#8db0dc" />
<circle cx="1280.9" cy="1192.3" r="4.8" fill="#8db0dc" />
<circle cx="1280.9" cy="1286.8" r="4.8" fill="#8db0dc" />
<line x1="1280.9" y1="1089" x2="1280.9" y2="1247.3" stroke="#8db0dc" stroke-width="1.5" />
<line x1="1274.9" y1="1089" x2="1286.9" y2="1089" stroke="#8db0dc" stroke-width="1.5" />
<line x1="1274.9" y1="1247.3" x2="1286.9" y2="1247.3" stroke="#8db0dc" stroke-width="1.5" />
<line x1="1270.4" y1="1168.5" x2="1291.4" y2="1168.5" stroke="#8db0dc" stroke-width="1.8" />
<circle cx="1331.5" cy="1092.1" r="4.8" fill="#000" />
<circle cx="1326" cy="1109.3" r="4.8" fill="#000" />
<circle cx="1331.5" cy="1111.9" r="4.8" fill="#000" />
<circle cx="1337" cy="1111.9" r="4.8" fill="#000" />
<circle cx="1331.5" cy="1154.5" r="4.8" fill="#000" />
<circle cx="1331.5" cy="1194.5" r="4.8" fill="#000" />
<circle cx="1331.5" cy="1209.2" r="4.8" fill="#000" />
<line x1="1331.5" y1="1094.7" x2="1331.5" y2="1187.5" stroke="#000" stroke-width="1.5" />
<line x1="1325.5" y1="1094.7" x2="1337.5" y2="1094.7" stroke="#000" stroke-width="1.5" />
<line x1="1325.5" y1="1187.5" x2="1337.5" y2="1187.5" stroke="#000" stroke-width="1.5" />
<line x1="1321" y1="1140.5" x2="1342" y2="1140.5" stroke="#000" stroke-width="1.8" />
<circle cx="1356" cy="1092.8" r="4.8" fill="#ae9bdc" />
<circle cx="1367" cy="1097.9" r="4.8" fill="#ae9bdc" />
<circle cx="1356" cy="1148.7" r="4.8" fill="#ae9bdc" />
<circle cx="1367" cy="1153.2" r="4.8" fill="#ae9bdc" />
<circle cx="1361.5" cy="1163.4" r="4.8" fill="#ae9bdc" />
<circle cx="1361.5" cy="1174.8" r="4.8" fill="#ae9bdc" />
<circle cx="1361.5" cy="1197.1" r="4.8" fill="#ae9bdc" />
<line x1="1361.5" y1="1108" x2="1361.5" y2="1185.6" stroke="#ae9bdc" stroke-width="1.5" />
<line x1="1355.5" y1="1108" x2="1367.5" y2="1108" stroke="#ae9bdc" stroke-width="1.5" />
<line x1="1355.5" y1="1185.6" x2="1367.5" y2="1185.6" stroke="#ae9bdc" stroke-width="1.5" />
<line x1="1351" y1="1146.8" x2="1372" y2="1146.8" stroke="#ae9bdc" stroke-width="1.8" />
<circle cx="1391.8" cy="1181.8" r="4.8" fill="#e9a3f0" />
<circle cx="1386.3" cy="1196.4" r="4.8" fill="#e9a3f0" />
<circle cx="1397.3" cy="1196.4" r="4.8" fill="#e9a3f0" />
<circle cx="1391.8" cy="1229.2" r="4.8" fill="#e9a3f0" />
<circle cx="1386.3" cy="1254.5" r="4.8" fill="#e9a3f0" />
<circle cx="1397.3" cy="1254.5" r="4.8" fill="#e9a3f0" />
<circle cx="1386.3" cy="1268" r="4.8" fill="#e9a3f0" />
<circle cx="1397.3" cy="1268" r="4.8" fill="#e9a3f0" />
<circle cx="1386.3" cy="1279.8" r="4.8" fill="#e9a3f0" />
<circle cx="1397.3" cy="1284.9" r="4.8" fill="#e9a3f0" />
<circle cx="1386.3" cy="1292.5" r="4.8" fill="#e9a3f0" />
<line x1="1391.8" y1="1207.3" x2="1391.8" y2="1284.5" stroke="#e9a3f0" stroke-width="1.5" />
<line x1="1385.8" y1="1207.3" x2="1397.8" y2="1207.3" stroke="#e9a3f0" stroke-width="1.5" />
<line x1="1385.8" y1="1284.5" x2="1397.8" y2="1284.5" stroke="#e9a3f0" stroke-width="1.5" />
<line x1="1381.3" y1="1246.1" x2="1402.3" y2="1246.1" stroke="#e9a3f0" stroke-width="1.8" />
<circle cx="1421.8" cy="1199.6" r="4.8" fill="#8db0dc" />
<circle cx="1416.3" cy="1227.6" r="4.8" fill="#8db0dc" />
<circle cx="1421.8" cy="1233.3" r="4.8" fill="#8db0dc" />
<circle cx="1416.3" cy="1244.8" r="4.8" fill="#8db0dc" />
<circle cx="1427.3" cy="1244.8" r="4.8" fill="#8db0dc" />
<circle cx="1416.3" cy="1253.1" r="4.8" fill="#8db0dc" />
<circle cx="1427.3" cy="1253.1" r="4.8" fill="#8db0dc" />
<circle cx="1421.8" cy="1267" r="4.8" fill="#8db0dc" />
<line x1="1421.8" y1="1220" x2="1421.8" y2="1261.3" stroke="#8db0dc" stroke-width="1.5" />
<line x1="1415.8" y1="1220" x2="1427.8" y2="1220" stroke="#8db0dc" stroke-width="1.5" />
<line x1="1415.8" y1="1261.3" x2="1427.8" y2="1261.3" stroke="#8db0dc" stroke-width="1.5" />
<line x1="1411.3" y1="1241" x2="1432.3" y2="1241" stroke="#8db0dc" stroke-width="1.8" />
<circle cx="1472.1" cy="1133.5" r="4.8" fill="#000" />
<circle cx="1467.1" cy="1161.5" r="4.8" fill="#000" />
<circle cx="1477.4" cy="1169.7" r="4.8" fill="#000" />
<circle cx="1467.1" cy="1174.2" r="4.8" fill="#000" />
<circle cx="1472.1" cy="1186.9" r="4.8" fill="#000" />
<circle cx="1472.1" cy="1210.4" r="4.8" fill="#000" />
<line x1="1472.1" y1="1147.5" x2="1472.1" y2="1198.4" stroke="#000" stroke-width="1.5" />
<line x1="1466.1" y1="1147.5" x2="1478.1" y2="1147.5" stroke="#000" stroke-width="1.5" />
<line x1="1466.1" y1="1198.4" x2="1478.1" y2="1198.4" stroke="#000" stroke-width="1.5" />
<line x1="1461.6" y1="1172.6" x2="1482.6" y2="1172.6" stroke="#000" stroke-width="1.8" />
<circle cx="1502.1" cy="1144.9" r="4.8" fill="#ae9bdc" />
<circle cx="1502.1" cy="1180.5" r="4.8" fill="#ae9bdc" />
<circle cx="1502.1" cy="1195.2" r="4.8" fill="#ae9bdc" />
<circle cx="1507.4" cy="1205.4" r="4.8" fill="#ae9bdc" />
<circle cx="1496.6" cy="1212" r="4.8" fill="#ae9bdc" />
<circle cx="1507.4" cy="1223.8" r="4.8" fill="#ae9bdc" />
<circle cx="1496.6" cy="1228.2" r="4.8" fill="#ae9bdc" />
<line x1="1502.1" y1="1169.7" x2="1502.1" y2="1227" stroke="#ae9bdc" stroke-width="1.5" />
<line x1="1496.1" y1="1169.7" x2="1508.1" y2="1169.7" stroke="#ae9bdc" stroke-width="1.5" />
<line x1="1496.1" y1="1227" x2="1508.1" y2="1227" stroke="#ae9bdc" stroke-width="1.5" />
<line x1="1491.6" y1="1198.4" x2="1512.6" y2="1198.4" stroke="#ae9bdc" stroke-width="1.8" />
<circle cx="1532.4" cy="1231.7" r="4.8" fill="#e9a3f0" />
<circle cx="1532.4" cy="1243.8" r="4.8" fill="#e9a3f0" />
<circle cx="1532.4" cy="1255" r="4.8" fill="#e9a3f0" />
<circle cx="1527.4" cy="1265.8" r="4.8" fill="#e9a3f0" />
<circle cx="1538.4" cy="1268.3" r="4.8" fill="#e9a3f0" />
<circle cx="1532.4" cy="1271.5" r="4.8" fill="#e9a3f0" />
<circle cx="1534.8" cy="1286.1" r="4.8" fill="#e9a3f0" />
<circle cx="1531.2" cy="1291.2" r="4.8" fill="#e9a3f0" />
<line x1="1532.4" y1="1247" x2="1532.4" y2="1284.9" stroke="#e9a3f0" stroke-width="1.5" />
<line x1="1526.4" y1="1247" x2="1538.4" y2="1247" stroke="#e9a3f0" stroke-width="1.5" />
<line x1="1526.4" y1="1284.9" x2="1538.4" y2="1284.9" stroke="#e9a3f0" stroke-width="1.5" />
<line x1="1521.9" y1="1266.4" x2="1542.9" y2="1266.4" stroke="#e9a3f0" stroke-width="1.8" />
<circle cx="1556.9" cy="1213.6" r="4.8" fill="#8db0dc" />
<circle cx="1567.7" cy="1220.9" r="4.8" fill="#8db0dc" />
<circle cx="1562.4" cy="1246.1" r="4.8" fill="#8db0dc" />
<circle cx="1556.9" cy="1262" r="4.8" fill="#8db0dc" />
<circle cx="1567.9" cy="1262" r="4.8" fill="#8db0dc" />
<circle cx="1556.9" cy="1275.9" r="4.8" fill="#8db0dc" />
<circle cx="1567.9" cy="1275.9" r="4.8" fill="#8db0dc" />
<line x1="1562.4" y1="1226.3" x2="1562.4" y2="1275.3" stroke="#8db0dc" stroke-width="1.5" />
<line x1="1556.4" y1="1226.3" x2="1568.4" y2="1226.3" stroke="#8db0dc" stroke-width="1.5" />
<line x1="1556.4" y1="1275.3" x2="1568.4" y2="1275.3" stroke="#8db0dc" stroke-width="1.5" />
<line x1="1551.9" y1="1251.1" x2="1572.9" y2="1251.1" stroke="#8db0dc" stroke-width="1.8" />
<circle cx="1613" cy="1107.4" r="4.8" fill="#000" />
<circle cx="1607.7" cy="1139.8" r="4.8" fill="#000" />
<circle cx="1618.5" cy="1139.8" r="4.8" fill="#000" />
<circle cx="1607.7" cy="1174.8" r="4.8" fill="#000" />
<circle cx="1618.5" cy="1174.8" r="4.8" fill="#000" />
<circle cx="1618.5" cy="1198.4" r="4.8" fill="#000" />
<circle cx="1607.7" cy="1204.7" r="4.8" fill="#000" />
<line x1="1613" y1="1128.4" x2="1613" y2="1198.4" stroke="#000" stroke-width="1.5" />
<line x1="1607" y1="1128.4" x2="1619" y2="1128.4" stroke="#000" stroke-width="1.5" />
<line x1="1607" y1="1198.4" x2="1619" y2="1198.4" stroke="#000" stroke-width="1.5" />
<line x1="1602.5" y1="1164" x2="1623.5" y2="1164" stroke="#000" stroke-width="1.8" />
<circle cx="1643" cy="1111.9" r="4.8" fill="#ae9bdc" />
<circle cx="1643" cy="1121.4" r="4.8" fill="#ae9bdc" />
<circle cx="1643" cy="1141.8" r="4.8" fill="#ae9bdc" />
<circle cx="1638" cy="1157" r="4.8" fill="#ae9bdc" />
<circle cx="1649" cy="1157" r="4.8" fill="#ae9bdc" />
<circle cx="1643" cy="1174.5" r="4.8" fill="#ae9bdc" />
<circle cx="1643" cy="1221.9" r="4.8" fill="#ae9bdc" />
<line x1="1643" y1="1118.2" x2="1643" y2="1192" stroke="#ae9bdc" stroke-width="1.5" />
<line x1="1637" y1="1118.2" x2="1649" y2="1118.2" stroke="#ae9bdc" stroke-width="1.5" />
<line x1="1637" y1="1192" x2="1649" y2="1192" stroke="#ae9bdc" stroke-width="1.5" />
<line x1="1632.5" y1="1157" x2="1653.5" y2="1157" stroke="#ae9bdc" stroke-width="1.8" />
<circle cx="1673.3" cy="1256.9" r="4.8" fill="#e9a3f0" />
<circle cx="1675.7" cy="1276.9" r="4.8" fill="#e9a3f0" />
<circle cx="1670.9" cy="1282.5" r="4.8" fill="#e9a3f0" />
<circle cx="1670.9" cy="1295.7" r="4.8" fill="#e9a3f0" />
<circle cx="1667.3" cy="1302" r="4.8" fill="#e9a3f0" />
<circle cx="1679.3" cy="1302" r="4.8" fill="#e9a3f0" />
<circle cx="1673.3" cy="1304.2" r="4.8" fill="#e9a3f0" />
<line x1="1673.3" y1="1271.5" x2="1673.3" y2="1305.8" stroke="#e9a3f0" stroke-width="1.5" />
<line x1="1667.3" y1="1271.5" x2="1679.3" y2="1271.5" stroke="#e9a3f0" stroke-width="1.5" />
<line x1="1667.3" y1="1305.8" x2="1679.3" y2="1305.8" stroke="#e9a3f0" stroke-width="1.5" />
<line x1="1662.8" y1="1288.7" x2="1683.8" y2="1288.7" stroke="#e9a3f0" stroke-width="1.8" />
<circle cx="1698.3" cy="1239.7" r="4.8" fill="#8db0dc" />
<circle cx="1709.3" cy="1246.1" r="4.8" fill="#8db0dc" />
<circle cx="1703.3" cy="1251.8" r="4.8" fill="#8db0dc" />
<circle cx="1698.3" cy="1275.3" r="4.8" fill="#8db0dc" />
<circle cx="1709.3" cy="1278.8" r="4.8" fill="#8db0dc" />
<circle cx="1703.3" cy="1288.7" r="4.8" fill="#8db0dc" />
<line x1="1703.3" y1="1246.1" x2="1703.3" y2="1284.9" stroke="#8db0dc" stroke-width="1.5" />
<line x1="1697.3" y1="1246.1" x2="1709.3" y2="1246.1" stroke="#8db0dc" stroke-width="1.5" />
<line x1="1697.3" y1="1284.9" x2="1709.3" y2="1284.9" stroke="#8db0dc" stroke-width="1.5" />
<line x1="1692.8" y1="1266.1" x2="1713.8" y2="1266.1" stroke="#8db0dc" stroke-width="1.8" />
<polyline points="1190.6,1054.7 1190.6,999.3 1252,999.3 1252,1013.6" stroke="#000" stroke-width="1.5" fill="none" />
<text x="1215.1" y="988.3" font-size="22.5" text-anchor="middle" textLength="114.8" lengthAdjust="spacingAndGlyphs">P = 0.0136</text>
<polyline points="1250.4,1155.5 1250.4,1054.2 1281.1,1054.2 1281.1,1068.7" stroke="#000" stroke-width="1.5" fill="none" />
<text x="1266.1" y="1044.8" font-size="22.5" text-anchor="middle" textLength="43.8" lengthAdjust="spacingAndGlyphs">N.S.</text>
<polyline points="1331.5,1080 1331.5,1012 1390.5,1012 1390.5,1028.3" stroke="#000" stroke-width="1.5" fill="none" />
<text x="1356.2" y="998.8" font-size="22.5" text-anchor="middle" textLength="135.5" lengthAdjust="spacingAndGlyphs">P = 9.41e-05</text>
<polyline points="1391.7,1164 1391.7,1074.8 1422,1074.8 1422,1166" stroke="#000" stroke-width="1.5" fill="none" />
<text x="1407.7" y="1065.2" font-size="22.5" text-anchor="middle" textLength="44.2" lengthAdjust="spacingAndGlyphs">N.S.</text>
<polyline points="1471.5,1114.6 1471.5,1009 1532.4,1009 1532.4,1031.3" stroke="#000" stroke-width="1.5" fill="none" />
<text x="1513.1" y="998.2" font-size="22.5" text-anchor="middle" textLength="135.3" lengthAdjust="spacingAndGlyphs">P = 2.06e-06</text>
<polyline points="1532.1,1196.7 1532.1,1071.8 1561.4,1071.8 1561.4,1198" stroke="#000" stroke-width="1.5" fill="none" />
<text x="1546.7" y="1061.4" font-size="22.5" text-anchor="middle" textLength="43.5" lengthAdjust="spacingAndGlyphs">N.S.</text>
<polyline points="1611.8,1077 1611.8,999.1 1674.9,999.1 1674.9,1011.2" stroke="#000" stroke-width="1.5" fill="none" />
<text x="1667.3" y="988.5" font-size="22.5" text-anchor="middle" textLength="136" lengthAdjust="spacingAndGlyphs">P = 2.36e-06</text>
<polyline points="1673.4,1219.7 1673.4,1068.7 1703.1,1068.7 1703.1,1219.7" stroke="#000" stroke-width="1.5" fill="none" />
<text x="1682" y="1054.2" font-size="22.5" text-anchor="middle" textLength="114.8" lengthAdjust="spacingAndGlyphs">P = 0.0396</text>
<text x="1465.4" y="923.8" font-size="35" font-weight="bold" text-anchor="middle" textLength="104.4" lengthAdjust="spacingAndGlyphs">CMAP</text>
<text transform="translate(1098.5,1181.2) rotate(-90)" font-size="24.5" font-weight="bold" text-anchor="middle" textLength="373.6" lengthAdjust="spacingAndGlyphs">peak CMAP amplitude (mV)</text>
<circle cx="821.3" cy="1213" r="4" fill="#000" />
<text x="836.5" y="1218.3" font-size="18.5" textLength="29" lengthAdjust="spacingAndGlyphs">Ctrl</text>
<circle cx="821.3" cy="1239.5" r="4" fill="#ae9bdc" />
<text x="836.5" y="1245.5" font-size="18.5" textLength="162.3" lengthAdjust="spacingAndGlyphs">Ctrl; scAAV9-sh<tspan font-style="italic">Fto</tspan></text>
<circle cx="821.3" cy="1267" r="4" fill="#e9a3f0" />
<text x="836.5" y="1273" font-size="18.5" textLength="82.6" lengthAdjust="spacingAndGlyphs"><tspan font-style="italic">SOD1</tspan><tspan font-size="11.5" dy="-7" font-style="italic">G93A</tspan><tspan dy="7">​</tspan></text>
<circle cx="821.3" cy="1294.8" r="4" fill="#8db0dc" />
<text x="836.5" y="1300.8" font-size="18.5" textLength="214.3" lengthAdjust="spacingAndGlyphs"><tspan font-style="italic">SOD1</tspan><tspan font-size="11.5" dy="-7" font-style="italic">G93A</tspan><tspan dy="7">​</tspan>; scAAV9-sh<tspan font-style="italic">Fto</tspan></text>
<line x1="1166.6" y1="1570.4" x2="1166.6" y2="1865.9" stroke="#000" stroke-width="1.6" stroke-linecap="square"/>
<line x1="1154.1" y1="1865.9" x2="1166.6" y2="1865.9" stroke="#000" stroke-width="1.6" />
<text x="1146.5" y="1874.5" font-size="31.2" font-weight="bold" text-anchor="end">0</text>
<line x1="1154.1" y1="1767.4" x2="1166.6" y2="1767.4" stroke="#000" stroke-width="1.6" />
<text x="1146.5" y="1776" font-size="31.2" font-weight="bold" text-anchor="end">100</text>
<line x1="1154.1" y1="1668.9" x2="1166.6" y2="1668.9" stroke="#000" stroke-width="1.6" />
<text x="1146.5" y="1677.5" font-size="31.2" font-weight="bold" text-anchor="end">200</text>
<line x1="1154.1" y1="1570.4" x2="1166.6" y2="1570.4" stroke="#000" stroke-width="1.6" />
<text x="1146.5" y="1579" font-size="31.2" font-weight="bold" text-anchor="end">300</text>
<line x1="1154.1" y1="1865.9" x2="1752.4" y2="1865.9" stroke="#000" stroke-width="1.6" />
<line x1="1235.5" y1="1865.9" x2="1235.5" y2="1878.2" stroke="#000" stroke-width="1.6" />
<line x1="1384.9" y1="1865.9" x2="1384.9" y2="1878.2" stroke="#000" stroke-width="1.6" />
<line x1="1533.9" y1="1865.9" x2="1533.9" y2="1878.2" stroke="#000" stroke-width="1.6" />
<line x1="1683.1" y1="1865.9" x2="1683.1" y2="1878.2" stroke="#000" stroke-width="1.6" />
<text x="1242" y="1915.5" font-size="29" font-weight="bold" text-anchor="middle">P60</text>
<text x="1393.6" y="1915.5" font-size="29" font-weight="bold" text-anchor="middle">P120</text>
<text x="1542.6" y="1915.5" font-size="29" font-weight="bold" text-anchor="middle">P140</text>
<text x="1692" y="1915.5" font-size="29" font-weight="bold" text-anchor="middle">P160</text>
<circle cx="1187.5" cy="1613.4" r="4.8" fill="#000" />
<circle cx="1187.5" cy="1623.7" r="4.8" fill="#000" />
<circle cx="1187.5" cy="1646.6" r="4.8" fill="#000" />
<circle cx="1181.5" cy="1668.7" r="4.8" fill="#000" />
<circle cx="1193.8" cy="1671.2" r="4.8" fill="#000" />
<circle cx="1187.5" cy="1697.5" r="4.8" fill="#000" />
<circle cx="1187.5" cy="1727" r="4.8" fill="#000" />
<circle cx="1187.5" cy="1784.8" r="4.8" fill="#000" />
<line x1="1187.5" y1="1621.3" x2="1187.5" y2="1735.6" stroke="#000" stroke-width="1.5" />
<line x1="1181.5" y1="1621.3" x2="1193.5" y2="1621.3" stroke="#000" stroke-width="1.5" />
<line x1="1181.5" y1="1735.6" x2="1193.5" y2="1735.6" stroke="#000" stroke-width="1.5" />
<line x1="1177" y1="1679" x2="1198" y2="1679" stroke="#000" stroke-width="1.8" />
<circle cx="1219.5" cy="1663" r="4.8" fill="#ae9bdc" />
<circle cx="1219.5" cy="1687.6" r="4.8" fill="#ae9bdc" />
<circle cx="1213.5" cy="1710.5" r="4.8" fill="#ae9bdc" />
<circle cx="1225.5" cy="1710.5" r="4.8" fill="#ae9bdc" />
<circle cx="1219.5" cy="1717.2" r="4.8" fill="#ae9bdc" />
<circle cx="1219.5" cy="1726.5" r="4.8" fill="#ae9bdc" />
<line x1="1219.5" y1="1679.7" x2="1219.5" y2="1725" stroke="#ae9bdc" stroke-width="1.5" />
<line x1="1213.5" y1="1679.7" x2="1225.5" y2="1679.7" stroke="#ae9bdc" stroke-width="1.5" />
<line x1="1213.5" y1="1725" x2="1225.5" y2="1725" stroke="#ae9bdc" stroke-width="1.5" />
<line x1="1209" y1="1702.4" x2="1230" y2="1702.4" stroke="#ae9bdc" stroke-width="1.8" />
<circle cx="1251.5" cy="1589.8" r="4.8" fill="#e9a3f0" />
<circle cx="1251.5" cy="1632.3" r="4.8" fill="#e9a3f0" />
<circle cx="1257.5" cy="1700.4" r="4.8" fill="#e9a3f0" />
<circle cx="1246" cy="1709.3" r="4.8" fill="#e9a3f0" />
<circle cx="1257.5" cy="1709.3" r="4.8" fill="#e9a3f0" />
<circle cx="1251.5" cy="1716" r="4.8" fill="#e9a3f0" />
<circle cx="1251.5" cy="1742.5" r="4.8" fill="#e9a3f0" />
<line x1="1251.5" y1="1632.8" x2="1251.5" y2="1739.3" stroke="#e9a3f0" stroke-width="1.5" />
<line x1="1245.5" y1="1632.8" x2="1257.5" y2="1632.8" stroke="#e9a3f0" stroke-width="1.5" />
<line x1="1245.5" y1="1739.3" x2="1257.5" y2="1739.3" stroke="#e9a3f0" stroke-width="1.5" />
<line x1="1241" y1="1685.6" x2="1262" y2="1685.6" stroke="#e9a3f0" stroke-width="1.8" />
<circle cx="1277.5" cy="1648.3" r="4.8" fill="#8db0dc" />
<circle cx="1289.5" cy="1654" r="4.8" fill="#8db0dc" />
<circle cx="1277.5" cy="1679" r="4.8" fill="#8db0dc" />
<circle cx="1289.5" cy="1685.2" r="4.8" fill="#8db0dc" />
<circle cx="1283.5" cy="1696.7" r="4.8" fill="#8db0dc" />
<circle cx="1283.5" cy="1722" r="4.8" fill="#8db0dc" />
<circle cx="1283.5" cy="1765.8" r="4.8" fill="#8db0dc" />
<line x1="1283.5" y1="1652" x2="1283.5" y2="1733.1" stroke="#8db0dc" stroke-width="1.5" />
<line x1="1277.5" y1="1652" x2="1289.5" y2="1652" stroke="#8db0dc" stroke-width="1.5" />
<line x1="1277.5" y1="1733.1" x2="1289.5" y2="1733.1" stroke="#8db0dc" stroke-width="1.5" />
<line x1="1273" y1="1692.5" x2="1294" y2="1692.5" stroke="#8db0dc" stroke-width="1.8" />
<circle cx="1336.9" cy="1595.5" r="4.8" fill="#000" />
<circle cx="1336.9" cy="1633.4" r="4.8" fill="#000" />
<circle cx="1329.9" cy="1637.2" r="4.8" fill="#000" />
<circle cx="1343.4" cy="1637.2" r="4.8" fill="#000" />
<circle cx="1331.4" cy="1642.2" r="4.8" fill="#000" />
<circle cx="1343.4" cy="1642.2" r="4.8" fill="#000" />
<circle cx="1339.9" cy="1672.8" r="4.8" fill="#000" />
<circle cx="1333.4" cy="1676.6" r="4.8" fill="#000" />
<line x1="1336.9" y1="1615.9" x2="1336.9" y2="1670" stroke="#000" stroke-width="1.5" />
<line x1="1330.9" y1="1615.9" x2="1342.9" y2="1615.9" stroke="#000" stroke-width="1.5" />
<line x1="1330.9" y1="1670" x2="1342.9" y2="1670" stroke="#000" stroke-width="1.5" />
<line x1="1326.4" y1="1642.2" x2="1347.4" y2="1642.2" stroke="#000" stroke-width="1.8" />
<circle cx="1368.9" cy="1615.1" r="4.8" fill="#ae9bdc" />
<circle cx="1368.9" cy="1625.7" r="4.8" fill="#ae9bdc" />
<circle cx="1368.9" cy="1656.9" r="4.8" fill="#ae9bdc" />
<circle cx="1368.9" cy="1683.2" r="4.8" fill="#ae9bdc" />
<circle cx="1368.9" cy="1701.6" r="4.8" fill="#ae9bdc" />
<circle cx="1368.9" cy="1718.8" r="4.8" fill="#ae9bdc" />
<circle cx="1368.9" cy="1732.6" r="4.8" fill="#ae9bdc" />
<line x1="1368.9" y1="1631.1" x2="1368.9" y2="1722" stroke="#ae9bdc" stroke-width="1.5" />
<line x1="1362.9" y1="1631.1" x2="1374.9" y2="1631.1" stroke="#ae9bdc" stroke-width="1.5" />
<line x1="1362.9" y1="1722" x2="1374.9" y2="1722" stroke="#ae9bdc" stroke-width="1.5" />
<line x1="1358.4" y1="1676.6" x2="1379.4" y2="1676.6" stroke="#ae9bdc" stroke-width="1.8" />
<circle cx="1400.9" cy="1645.9" r="4.8" fill="#e9a3f0" />
<circle cx="1406.9" cy="1692" r="4.8" fill="#e9a3f0" />
<circle cx="1395.4" cy="1697.1" r="4.8" fill="#e9a3f0" />
<circle cx="1400.9" cy="1700.4" r="4.8" fill="#e9a3f0" />
<circle cx="1395.4" cy="1711" r="4.8" fill="#e9a3f0" />
<circle cx="1400.9" cy="1712.6" r="4.8" fill="#e9a3f0" />
<circle cx="1395.4" cy="1719.6" r="4.8" fill="#e9a3f0" />
<circle cx="1406.9" cy="1721.6" r="4.8" fill="#e9a3f0" />
<circle cx="1395.4" cy="1740.5" r="4.8" fill="#e9a3f0" />
<circle cx="1406.9" cy="1745.4" r="4.8" fill="#e9a3f0" />
<circle cx="1395.4" cy="1752.8" r="4.8" fill="#e9a3f0" />
<line x1="1400.9" y1="1683.2" x2="1400.9" y2="1741.7" stroke="#e9a3f0" stroke-width="1.5" />
<line x1="1394.9" y1="1683.2" x2="1406.9" y2="1683.2" stroke="#e9a3f0" stroke-width="1.5" />
<line x1="1394.9" y1="1741.7" x2="1406.9" y2="1741.7" stroke="#e9a3f0" stroke-width="1.5" />
<line x1="1390.4" y1="1712.7" x2="1411.4" y2="1712.7" stroke="#e9a3f0" stroke-width="1.8" />
<circle cx="1427.4" cy="1663.5" r="4.8" fill="#8db0dc" />
<circle cx="1435.4" cy="1663.5" r="4.8" fill="#8db0dc" />
<circle cx="1432.9" cy="1675.4" r="4.8" fill="#8db0dc" />
<circle cx="1427.4" cy="1705.6" r="4.8" fill="#8db0dc" />
<circle cx="1435.4" cy="1712.2" r="4.8" fill="#8db0dc" />
<circle cx="1432.9" cy="1720.8" r="4.8" fill="#8db0dc" />
<circle cx="1432.9" cy="1765" r="4.8" fill="#8db0dc" />
<line x1="1432.9" y1="1667.4" x2="1432.9" y2="1736.3" stroke="#8db0dc" stroke-width="1.5" />
<line x1="1426.9" y1="1667.4" x2="1438.9" y2="1667.4" stroke="#8db0dc" stroke-width="1.5" />
<line x1="1426.9" y1="1736.3" x2="1438.9" y2="1736.3" stroke="#8db0dc" stroke-width="1.5" />
<line x1="1422.4" y1="1702.4" x2="1443.4" y2="1702.4" stroke="#8db0dc" stroke-width="1.8" />
<circle cx="1482.9" cy="1596.7" r="4.8" fill="#000" />
<circle cx="1489.2" cy="1599.1" r="4.8" fill="#000" />
<circle cx="1479.5" cy="1634.8" r="4.8" fill="#000" />
<circle cx="1485.9" cy="1642.2" r="4.8" fill="#000" />
<circle cx="1479.5" cy="1660.6" r="4.8" fill="#000" />
<circle cx="1485.9" cy="1660.6" r="4.8" fill="#000" />
<circle cx="1492.5" cy="1660.6" r="4.8" fill="#000" />
<line x1="1485.9" y1="1608.5" x2="1485.9" y2="1664.5" stroke="#000" stroke-width="1.5" />
<line x1="1479.9" y1="1608.5" x2="1491.9" y2="1608.5" stroke="#000" stroke-width="1.5" />
<line x1="1479.9" y1="1664.5" x2="1491.9" y2="1664.5" stroke="#000" stroke-width="1.5" />
<line x1="1475.4" y1="1636.5" x2="1496.4" y2="1636.5" stroke="#000" stroke-width="1.8" />
<circle cx="1517.9" cy="1607.3" r="4.8" fill="#ae9bdc" />
<circle cx="1524.3" cy="1624.5" r="4.8" fill="#ae9bdc" />
<circle cx="1512.2" cy="1631.6" r="4.8" fill="#ae9bdc" />
<circle cx="1512.2" cy="1658.1" r="4.8" fill="#ae9bdc" />
<circle cx="1524.3" cy="1658.1" r="4.8" fill="#ae9bdc" />
<circle cx="1517.9" cy="1685.6" r="4.8" fill="#ae9bdc" />
<circle cx="1517.9" cy="1703.1" r="4.8" fill="#ae9bdc" />
<line x1="1517.9" y1="1618.9" x2="1517.9" y2="1687.6" stroke="#ae9bdc" stroke-width="1.5" />
<line x1="1511.9" y1="1618.9" x2="1523.9" y2="1618.9" stroke="#ae9bdc" stroke-width="1.5" />
<line x1="1511.9" y1="1687.6" x2="1523.9" y2="1687.6" stroke="#ae9bdc" stroke-width="1.5" />
<line x1="1507.4" y1="1652.7" x2="1528.4" y2="1652.7" stroke="#ae9bdc" stroke-width="1.8" />
<circle cx="1549.9" cy="1672.8" r="4.8" fill="#e9a3f0" />
<circle cx="1549.9" cy="1685.2" r="4.8" fill="#e9a3f0" />
<circle cx="1549.9" cy="1697.5" r="4.8" fill="#e9a3f0" />
<circle cx="1544.9" cy="1714.7" r="4.8" fill="#e9a3f0" />
<circle cx="1555.4" cy="1714.7" r="4.8" fill="#e9a3f0" />
<circle cx="1544.6" cy="1719.6" r="4.8" fill="#e9a3f0" />
<circle cx="1555.6" cy="1719.6" r="4.8" fill="#e9a3f0" />
<circle cx="1544.6" cy="1730.7" r="4.8" fill="#e9a3f0" />
<circle cx="1555.6" cy="1730.7" r="4.8" fill="#e9a3f0" />
<circle cx="1544.6" cy="1739.3" r="4.8" fill="#e9a3f0" />
<circle cx="1551.9" cy="1739.3" r="4.8" fill="#e9a3f0" />
<line x1="1549.9" y1="1693" x2="1549.9" y2="1736.9" stroke="#e9a3f0" stroke-width="1.5" />
<line x1="1543.9" y1="1693" x2="1555.9" y2="1693" stroke="#e9a3f0" stroke-width="1.5" />
<line x1="1543.9" y1="1736.9" x2="1555.9" y2="1736.9" stroke="#e9a3f0" stroke-width="1.5" />
<line x1="1539.4" y1="1714.7" x2="1560.4" y2="1714.7" stroke="#e9a3f0" stroke-width="1.8" />
<circle cx="1578.9" cy="1679.7" r="4.8" fill="#8db0dc" />
<circle cx="1584.9" cy="1679.7" r="4.8" fill="#8db0dc" />
<circle cx="1581.9" cy="1704.9" r="4.8" fill="#8db0dc" />
<circle cx="1576.4" cy="1716" r="4.8" fill="#8db0dc" />
<circle cx="1588.5" cy="1718.8" r="4.8" fill="#8db0dc" />
<circle cx="1581.9" cy="1722.8" r="4.8" fill="#8db0dc" />
<circle cx="1584.9" cy="1751.6" r="4.8" fill="#8db0dc" />
<circle cx="1578.9" cy="1754" r="4.8" fill="#8db0dc" />
<line x1="1581.9" y1="1688.1" x2="1581.9" y2="1743.7" stroke="#8db0dc" stroke-width="1.5" />
<line x1="1575.9" y1="1688.1" x2="1587.9" y2="1688.1" stroke="#8db0dc" stroke-width="1.5" />
<line x1="1575.9" y1="1743.7" x2="1587.9" y2="1743.7" stroke="#8db0dc" stroke-width="1.5" />
<line x1="1571.4" y1="1718.4" x2="1592.4" y2="1718.4" stroke="#8db0dc" stroke-width="1.8" />
<circle cx="1629.1" cy="1595.5" r="4.8" fill="#000" />
<circle cx="1641.3" cy="1595.5" r="4.8" fill="#000" />
<circle cx="1635.1" cy="1602.8" r="4.8" fill="#000" />
<circle cx="1635.1" cy="1613.4" r="4.8" fill="#000" />
<circle cx="1635.1" cy="1643.4" r="4.8" fill="#000" />
<circle cx="1635.1" cy="1657.7" r="4.8" fill="#000" />
<circle cx="1635.1" cy="1672.4" r="4.8" fill="#000" />
<line x1="1635.1" y1="1605.9" x2="1635.1" y2="1657.7" stroke="#000" stroke-width="1.5" />
<line x1="1629.1" y1="1605.9" x2="1641.1" y2="1605.9" stroke="#000" stroke-width="1.5" />
<line x1="1629.1" y1="1657.7" x2="1641.1" y2="1657.7" stroke="#000" stroke-width="1.5" />
<line x1="1624.6" y1="1625.7" x2="1645.6" y2="1625.7" stroke="#000" stroke-width="1.8" />
<circle cx="1667.1" cy="1589.8" r="4.8" fill="#ae9bdc" />
<circle cx="1673.5" cy="1625.7" r="4.8" fill="#ae9bdc" />
<circle cx="1661.1" cy="1629.9" r="4.8" fill="#ae9bdc" />
<circle cx="1667.1" cy="1658.1" r="4.8" fill="#ae9bdc" />
<circle cx="1667.1" cy="1674.1" r="4.8" fill="#ae9bdc" />
<circle cx="1667.1" cy="1707.3" r="4.8" fill="#ae9bdc" />
<circle cx="1667.1" cy="1727.5" r="4.8" fill="#ae9bdc" />
<line x1="1667.1" y1="1611" x2="1667.1" y2="1707.3" stroke="#ae9bdc" stroke-width="1.5" />
<line x1="1661.1" y1="1611" x2="1673.1" y2="1611" stroke="#ae9bdc" stroke-width="1.5" />
<line x1="1661.1" y1="1707.3" x2="1673.1" y2="1707.3" stroke="#ae9bdc" stroke-width="1.5" />
<line x1="1656.6" y1="1659.3" x2="1677.6" y2="1659.3" stroke="#ae9bdc" stroke-width="1.8" />
<circle cx="1699.1" cy="1783.5" r="4.8" fill="#e9a3f0" />
<circle cx="1693.1" cy="1799.5" r="4.8" fill="#e9a3f0" />
<circle cx="1705.3" cy="1799.5" r="4.8" fill="#e9a3f0" />
<circle cx="1693.1" cy="1838.8" r="4.8" fill="#e9a3f0" />
<circle cx="1699.1" cy="1844.5" r="4.8" fill="#e9a3f0" />
<circle cx="1705.3" cy="1844.5" r="4.8" fill="#e9a3f0" />
<circle cx="1693.1" cy="1864.7" r="4.8" fill="#e9a3f0" />
<circle cx="1705.3" cy="1864.7" r="4.8" fill="#e9a3f0" />
<line x1="1699.1" y1="1799.5" x2="1699.1" y2="1862" stroke="#e9a3f0" stroke-width="1.5" />
<line x1="1693.1" y1="1799.5" x2="1705.1" y2="1799.5" stroke="#e9a3f0" stroke-width="1.5" />
<line x1="1693.1" y1="1862" x2="1705.1" y2="1862" stroke="#e9a3f0" stroke-width="1.5" />
<line x1="1688.6" y1="1830.7" x2="1709.6" y2="1830.7" stroke="#e9a3f0" stroke-width="1.8" />
<circle cx="1731.1" cy="1720.8" r="4.8" fill="#8db0dc" />
<circle cx="1731.1" cy="1736.9" r="4.8" fill="#8db0dc" />
<circle cx="1731.1" cy="1749.1" r="4.8" fill="#8db0dc" />
<circle cx="1731.1" cy="1767.5" r="4.8" fill="#8db0dc" />
<circle cx="1731.1" cy="1810.1" r="4.8" fill="#8db0dc" />
<circle cx="1731.1" cy="1832.7" r="4.8" fill="#8db0dc" />
<circle cx="1731.1" cy="1846.2" r="4.8" fill="#8db0dc" />
<line x1="1731.1" y1="1731.9" x2="1731.1" y2="1829.7" stroke="#8db0dc" stroke-width="1.5" />
<line x1="1725.1" y1="1731.9" x2="1737.1" y2="1731.9" stroke="#8db0dc" stroke-width="1.5" />
<line x1="1725.1" y1="1829.7" x2="1737.1" y2="1829.7" stroke="#8db0dc" stroke-width="1.5" />
<line x1="1720.6" y1="1780.6" x2="1741.6" y2="1780.6" stroke="#8db0dc" stroke-width="1.8" />
<polyline points="1187.5,1569.6 1187.5,1498.8 1251.9,1498.8 1251.9,1515.6" stroke="#000" stroke-width="1.5" fill="none" />
<text x="1224.2" y="1489.7" font-size="22.5" text-anchor="middle" textLength="43.7" lengthAdjust="spacingAndGlyphs">N.S.</text>
<polyline points="1251.4,1573.3 1251.4,1547.5 1283.9,1547.5 1283.9,1596.7" stroke="#000" stroke-width="1.5" fill="none" />
<text x="1269.5" y="1538.9" font-size="22.5" text-anchor="middle" textLength="43.6" lengthAdjust="spacingAndGlyphs">N.S.</text>
<polyline points="1337,1519.7 1337,1501.3 1400.9,1501.3 1400.9,1519.7" stroke="#000" stroke-width="1.5" fill="none" />
<text x="1366.7" y="1489.7" font-size="22.5" text-anchor="middle" textLength="112.6" lengthAdjust="spacingAndGlyphs">P = 0.0001</text>
<polyline points="1400.9,1587.3 1400.9,1561.8 1432.9,1561.8 1432.9,1611" stroke="#000" stroke-width="1.5" fill="none" />
<text x="1416.5" y="1547" font-size="22.5" text-anchor="middle" textLength="43.5" lengthAdjust="spacingAndGlyphs">N.S.</text>
<polyline points="1486,1555.4 1486,1501.5 1549.9,1501.5 1549.9,1545.5" stroke="#000" stroke-width="1.5" fill="none" />
<text x="1528.8" y="1490.5" font-size="22.5" text-anchor="middle" textLength="136.4" lengthAdjust="spacingAndGlyphs">P = 4.46e-06</text>
<polyline points="1549.6,1650.8 1549.6,1599.6 1581.8,1599.6 1581.8,1662.6" stroke="#000" stroke-width="1.5" fill="none" />
<text x="1565.3" y="1584.9" font-size="22.5" text-anchor="middle" textLength="43.7" lengthAdjust="spacingAndGlyphs">N.S.</text>
<polyline points="1635.2,1555.4 1635.2,1501.5 1699,1501.5 1699,1545.5" stroke="#000" stroke-width="1.5" fill="none" />
<text x="1681.9" y="1490.5" font-size="22.5" text-anchor="middle" textLength="135.2" lengthAdjust="spacingAndGlyphs">P = 1.40e-09</text>
<polyline points="1699,1639.6 1699,1586.4 1731.5,1586.4 1731.5,1660.6" stroke="#000" stroke-width="1.5" fill="none" />
<text x="1720" y="1575.3" font-size="22.5" text-anchor="middle" textLength="114" lengthAdjust="spacingAndGlyphs">P = 0.0218</text>
<text x="1453.5" y="1443" font-size="33" font-weight="bold" text-anchor="middle" textLength="133.8" lengthAdjust="spacingAndGlyphs">Rotarod</text>
<text transform="translate(1072.5,1698.3) rotate(-90)" font-size="26" font-weight="bold" text-anchor="middle" textLength="258.6" lengthAdjust="spacingAndGlyphs">Latency to fall (sec)</text>
<circle cx="821.5" cy="1778.5" r="4" fill="#000" />
<text x="836.5" y="1783.8" font-size="18.5" textLength="29" lengthAdjust="spacingAndGlyphs">Ctrl</text>
<circle cx="821.5" cy="1804.2" r="4" fill="#ae9bdc" />
<text x="836.5" y="1810.3" font-size="18.5" textLength="162.3" lengthAdjust="spacingAndGlyphs">Ctrl; scAAV9-sh<tspan font-style="italic">Fto</tspan></text>
<circle cx="821.5" cy="1832.7" r="4" fill="#e9a3f0" />
<text x="836.5" y="1838.3" font-size="18.5" textLength="82.6" lengthAdjust="spacingAndGlyphs"><tspan font-style="italic">SOD1</tspan><tspan font-size="11.5" dy="-7" font-style="italic">G93A</tspan><tspan dy="7">​</tspan></text>
<circle cx="821.5" cy="1860.4" r="4" fill="#8db0dc" />
<text x="836.5" y="1866" font-size="18.5" textLength="214.3" lengthAdjust="spacingAndGlyphs"><tspan font-style="italic">SOD1</tspan><tspan font-size="11.5" dy="-7" font-style="italic">G93A</tspan><tspan dy="7">​</tspan>; scAAV9-sh<tspan font-style="italic">Fto</tspan></text>
<line x1="1167.1" y1="2104.7" x2="1167.1" y2="2432.5" stroke="#000" stroke-width="1.6" stroke-linecap="square"/>
<line x1="1154.6" y1="2432.5" x2="1167.1" y2="2432.5" stroke="#000" stroke-width="1.6" />
<text x="1145.5" y="2441.2" font-size="31.2" font-weight="bold" text-anchor="end">0</text>
<line x1="1154.6" y1="2350.6" x2="1167.1" y2="2350.6" stroke="#000" stroke-width="1.6" />
<text x="1145.5" y="2359.3" font-size="31.2" font-weight="bold" text-anchor="end">2</text>
<line x1="1154.6" y1="2268.6" x2="1167.1" y2="2268.6" stroke="#000" stroke-width="1.6" />
<text x="1145.5" y="2277.3" font-size="31.2" font-weight="bold" text-anchor="end">4</text>
<line x1="1154.6" y1="2186.7" x2="1167.1" y2="2186.7" stroke="#000" stroke-width="1.6" />
<text x="1145.5" y="2195.4" font-size="31.2" font-weight="bold" text-anchor="end">6</text>
<line x1="1154.6" y1="2104.7" x2="1167.1" y2="2104.7" stroke="#000" stroke-width="1.6" />
<text x="1145.5" y="2113.4" font-size="31.2" font-weight="bold" text-anchor="end">8</text>
<line x1="1154.6" y1="2432.5" x2="1764.2" y2="2432.5" stroke="#000" stroke-width="1.6" />
<line x1="1236.7" y1="2432.5" x2="1236.7" y2="2444.8" stroke="#000" stroke-width="1.6" />
<line x1="1389.1" y1="2432.5" x2="1389.1" y2="2444.8" stroke="#000" stroke-width="1.6" />
<line x1="1541.7" y1="2432.5" x2="1541.7" y2="2444.8" stroke="#000" stroke-width="1.6" />
<line x1="1693.7" y1="2432.5" x2="1693.7" y2="2444.8" stroke="#000" stroke-width="1.6" />
<text x="1231.5" y="2478" font-size="29" font-weight="bold" text-anchor="middle">P60</text>
<text x="1385.1" y="2478" font-size="29" font-weight="bold" text-anchor="middle">P120</text>
<text x="1537.3" y="2478" font-size="29" font-weight="bold" text-anchor="middle">P140</text>
<text x="1689.5" y="2478" font-size="29" font-weight="bold" text-anchor="middle">P160</text>
<circle cx="1188.2" cy="2189.1" r="4.8" fill="#000" />
<circle cx="1188.2" cy="2201.4" r="4.8" fill="#000" />
<circle cx="1180.7" cy="2208.8" r="4.8" fill="#000" />
<circle cx="1195.4" cy="2208.8" r="4.8" fill="#000" />
<circle cx="1180.7" cy="2223.6" r="4.8" fill="#000" />
<circle cx="1195.4" cy="2223.6" r="4.8" fill="#000" />
<circle cx="1188.2" cy="2227.2" r="4.8" fill="#000" />
<circle cx="1188.2" cy="2253.9" r="4.8" fill="#000" />
<line x1="1188.2" y1="2197.7" x2="1188.2" y2="2236.7" stroke="#000" stroke-width="1.5" />
<line x1="1182.2" y1="2197.7" x2="1194.2" y2="2197.7" stroke="#000" stroke-width="1.5" />
<line x1="1182.2" y1="2236.7" x2="1194.2" y2="2236.7" stroke="#000" stroke-width="1.5" />
<line x1="1177.7" y1="2217" x2="1198.7" y2="2217" stroke="#000" stroke-width="1.8" />
<circle cx="1214.7" cy="2210" r="4.8" fill="#ae9bdc" />
<circle cx="1227" cy="2210" r="4.8" fill="#ae9bdc" />
<circle cx="1220.7" cy="2223.1" r="4.8" fill="#ae9bdc" />
<circle cx="1214.7" cy="2236.7" r="4.8" fill="#ae9bdc" />
<circle cx="1227" cy="2236.7" r="4.8" fill="#ae9bdc" />
<line x1="1220.7" y1="2209.6" x2="1220.7" y2="2235.8" stroke="#ae9bdc" stroke-width="1.5" />
<line x1="1214.7" y1="2209.6" x2="1226.7" y2="2209.6" stroke="#ae9bdc" stroke-width="1.5" />
<line x1="1214.7" y1="2235.8" x2="1226.7" y2="2235.8" stroke="#ae9bdc" stroke-width="1.5" />
<line x1="1210.2" y1="2222.7" x2="1231.2" y2="2222.7" stroke="#ae9bdc" stroke-width="1.8" />
<circle cx="1248.2" cy="2184.2" r="4.8" fill="#e9a3f0" />
<circle cx="1259.1" cy="2187.9" r="4.8" fill="#e9a3f0" />
<circle cx="1253.7" cy="2191.6" r="4.8" fill="#e9a3f0" />
<circle cx="1253.7" cy="2216.6" r="4.8" fill="#e9a3f0" />
<circle cx="1248.2" cy="2244.4" r="4.8" fill="#e9a3f0" />
<circle cx="1259.1" cy="2244.4" r="4.8" fill="#e9a3f0" />
<circle cx="1253.7" cy="2249.4" r="4.8" fill="#e9a3f0" />
<circle cx="1253.7" cy="2262.9" r="4.8" fill="#e9a3f0" />
<line x1="1253.7" y1="2194.1" x2="1253.7" y2="2253.9" stroke="#e9a3f0" stroke-width="1.5" />
<line x1="1247.7" y1="2194.1" x2="1259.7" y2="2194.1" stroke="#e9a3f0" stroke-width="1.5" />
<line x1="1247.7" y1="2253.9" x2="1259.7" y2="2253.9" stroke="#e9a3f0" stroke-width="1.5" />
<line x1="1243.2" y1="2221.9" x2="1264.2" y2="2221.9" stroke="#e9a3f0" stroke-width="1.8" />
<circle cx="1286.2" cy="2176.8" r="4.8" fill="#8db0dc" />
<circle cx="1280" cy="2191.6" r="4.8" fill="#8db0dc" />
<circle cx="1291.6" cy="2201.4" r="4.8" fill="#8db0dc" />
<circle cx="1280" cy="2209.6" r="4.8" fill="#8db0dc" />
<circle cx="1280" cy="2243.2" r="4.8" fill="#8db0dc" />
<circle cx="1291.6" cy="2249.8" r="4.8" fill="#8db0dc" />
<circle cx="1280" cy="2254.3" r="4.8" fill="#8db0dc" />
<line x1="1286.2" y1="2186.7" x2="1286.2" y2="2248.1" stroke="#8db0dc" stroke-width="1.5" />
<line x1="1280.2" y1="2186.7" x2="1292.2" y2="2186.7" stroke="#8db0dc" stroke-width="1.5" />
<line x1="1280.2" y1="2248.1" x2="1292.2" y2="2248.1" stroke="#8db0dc" stroke-width="1.5" />
<line x1="1275.7" y1="2217.4" x2="1296.7" y2="2217.4" stroke="#8db0dc" stroke-width="1.8" />
<circle cx="1334.6" cy="2223.6" r="4.8" fill="#000" />
<circle cx="1341.9" cy="2223.6" r="4.8" fill="#000" />
<circle cx="1348" cy="2229.7" r="4.8" fill="#000" />
<circle cx="1348" cy="2242.4" r="4.8" fill="#000" />
<circle cx="1341.9" cy="2249.8" r="4.8" fill="#000" />
<circle cx="1344.3" cy="2273.5" r="4.8" fill="#000" />
<circle cx="1338.2" cy="2282.5" r="4.8" fill="#000" />
<line x1="1340.6" y1="2228.5" x2="1340.6" y2="2269.4" stroke="#000" stroke-width="1.5" />
<line x1="1334.6" y1="2228.5" x2="1346.6" y2="2228.5" stroke="#000" stroke-width="1.5" />
<line x1="1334.6" y1="2269.4" x2="1346.6" y2="2269.4" stroke="#000" stroke-width="1.5" />
<line x1="1330.1" y1="2246.5" x2="1351.1" y2="2246.5" stroke="#000" stroke-width="1.8" />
<circle cx="1373.1" cy="2222.7" r="4.8" fill="#ae9bdc" />
<circle cx="1367.1" cy="2244" r="4.8" fill="#ae9bdc" />
<circle cx="1379.4" cy="2244" r="4.8" fill="#ae9bdc" />
<circle cx="1373.1" cy="2251.8" r="4.8" fill="#ae9bdc" />
<circle cx="1367.1" cy="2258" r="4.8" fill="#ae9bdc" />
<circle cx="1379.4" cy="2258" r="4.8" fill="#ae9bdc" />
<circle cx="1373.1" cy="2289.1" r="4.8" fill="#ae9bdc" />
<line x1="1373.1" y1="2230.9" x2="1373.1" y2="2271.5" stroke="#ae9bdc" stroke-width="1.5" />
<line x1="1367.1" y1="2230.9" x2="1379.1" y2="2230.9" stroke="#ae9bdc" stroke-width="1.5" />
<line x1="1367.1" y1="2271.5" x2="1379.1" y2="2271.5" stroke="#ae9bdc" stroke-width="1.5" />
<line x1="1362.6" y1="2251.4" x2="1383.6" y2="2251.4" stroke="#ae9bdc" stroke-width="1.8" />
<circle cx="1408.5" cy="2251.4" r="4.8" fill="#e9a3f0" />
<circle cx="1403.8" cy="2259.6" r="4.8" fill="#e9a3f0" />
<circle cx="1408.5" cy="2271.9" r="4.8" fill="#e9a3f0" />
<circle cx="1403.8" cy="2276.4" r="4.8" fill="#e9a3f0" />
<circle cx="1406.1" cy="2288.3" r="4.8" fill="#e9a3f0" />
<circle cx="1403.8" cy="2299.8" r="4.8" fill="#e9a3f0" />
<circle cx="1408.5" cy="2302.2" r="4.8" fill="#e9a3f0" />
<circle cx="1403.8" cy="2308.4" r="4.8" fill="#e9a3f0" />
<circle cx="1411.2" cy="2308.4" r="4.8" fill="#e9a3f0" />
<circle cx="1406.1" cy="2313.3" r="4.8" fill="#e9a3f0" />
<circle cx="1402.1" cy="2316.1" r="4.8" fill="#e9a3f0" />
<line x1="1406.1" y1="2268.6" x2="1406.1" y2="2312" stroke="#e9a3f0" stroke-width="1.5" />
<line x1="1400.1" y1="2268.6" x2="1412.1" y2="2268.6" stroke="#e9a3f0" stroke-width="1.5" />
<line x1="1400.1" y1="2312" x2="1412.1" y2="2312" stroke="#e9a3f0" stroke-width="1.5" />
<line x1="1395.6" y1="2290.3" x2="1416.6" y2="2290.3" stroke="#e9a3f0" stroke-width="1.8" />
<circle cx="1438.6" cy="2221.9" r="4.8" fill="#8db0dc" />
<circle cx="1444.6" cy="2246.1" r="4.8" fill="#8db0dc" />
<circle cx="1432.2" cy="2254.3" r="4.8" fill="#8db0dc" />
<circle cx="1444.6" cy="2261.7" r="4.8" fill="#8db0dc" />
<circle cx="1438.6" cy="2269" r="4.8" fill="#8db0dc" />
<circle cx="1432.2" cy="2274.8" r="4.8" fill="#8db0dc" />
<circle cx="1444.6" cy="2274.8" r="4.8" fill="#8db0dc" />
<line x1="1438.6" y1="2239.1" x2="1438.6" y2="2274.4" stroke="#8db0dc" stroke-width="1.5" />
<line x1="1432.6" y1="2239.1" x2="1444.6" y2="2239.1" stroke="#8db0dc" stroke-width="1.5" />
<line x1="1432.6" y1="2274.4" x2="1444.6" y2="2274.4" stroke="#8db0dc" stroke-width="1.5" />
<line x1="1428.1" y1="2256.7" x2="1449.1" y2="2256.7" stroke="#8db0dc" stroke-width="1.8" />
<circle cx="1490.7" cy="2229.3" r="4.8" fill="#000" />
<circle cx="1496.9" cy="2234.6" r="4.8" fill="#000" />
<circle cx="1493.2" cy="2249.4" r="4.8" fill="#000" />
<circle cx="1487.1" cy="2266.6" r="4.8" fill="#000" />
<circle cx="1499.3" cy="2266.6" r="4.8" fill="#000" />
<circle cx="1493.2" cy="2270.3" r="4.8" fill="#000" />
<circle cx="1493.2" cy="2284.6" r="4.8" fill="#000" />
<line x1="1493.2" y1="2236.7" x2="1493.2" y2="2278.5" stroke="#000" stroke-width="1.5" />
<line x1="1487.2" y1="2236.7" x2="1499.2" y2="2236.7" stroke="#000" stroke-width="1.5" />
<line x1="1487.2" y1="2278.5" x2="1499.2" y2="2278.5" stroke="#000" stroke-width="1.5" />
<line x1="1482.7" y1="2257.6" x2="1503.7" y2="2257.6" stroke="#000" stroke-width="1.8" />
<circle cx="1520.3" cy="2216.2" r="4.8" fill="#ae9bdc" />
<circle cx="1531.8" cy="2216.2" r="4.8" fill="#ae9bdc" />
<circle cx="1520.3" cy="2237.5" r="4.8" fill="#ae9bdc" />
<circle cx="1531.8" cy="2244.9" r="4.8" fill="#ae9bdc" />
<circle cx="1520.3" cy="2255.5" r="4.8" fill="#ae9bdc" />
<circle cx="1531.8" cy="2255.5" r="4.8" fill="#ae9bdc" />
<circle cx="1525.7" cy="2300.6" r="4.8" fill="#ae9bdc" />
<line x1="1525.7" y1="2218.6" x2="1525.7" y2="2275.2" stroke="#ae9bdc" stroke-width="1.5" />
<line x1="1519.7" y1="2218.6" x2="1531.7" y2="2218.6" stroke="#ae9bdc" stroke-width="1.5" />
<line x1="1519.7" y1="2275.2" x2="1531.7" y2="2275.2" stroke="#ae9bdc" stroke-width="1.5" />
<line x1="1515.2" y1="2247.3" x2="1536.2" y2="2247.3" stroke="#ae9bdc" stroke-width="1.8" />
<circle cx="1554.5" cy="2278.5" r="4.8" fill="#e9a3f0" />
<circle cx="1562.7" cy="2278.5" r="4.8" fill="#e9a3f0" />
<circle cx="1553.3" cy="2295.7" r="4.8" fill="#e9a3f0" />
<circle cx="1564.4" cy="2303" r="4.8" fill="#e9a3f0" />
<circle cx="1558.7" cy="2319.4" r="4.8" fill="#e9a3f0" />
<circle cx="1554.5" cy="2335.4" r="4.8" fill="#e9a3f0" />
<circle cx="1561.9" cy="2342.4" r="4.8" fill="#e9a3f0" />
<circle cx="1558.7" cy="2354.7" r="4.8" fill="#e9a3f0" />
<circle cx="1558.7" cy="2401.8" r="4.8" fill="#e9a3f0" />
<circle cx="1558.7" cy="2432.5" r="4.8" fill="#e9a3f0" />
<line x1="1558.7" y1="2285" x2="1558.7" y2="2380.1" stroke="#e9a3f0" stroke-width="1.5" />
<line x1="1552.7" y1="2285" x2="1564.7" y2="2285" stroke="#e9a3f0" stroke-width="1.5" />
<line x1="1552.7" y1="2380.1" x2="1564.7" y2="2380.1" stroke="#e9a3f0" stroke-width="1.5" />
<line x1="1548.2" y1="2330.1" x2="1569.2" y2="2330.1" stroke="#e9a3f0" stroke-width="1.8" />
<circle cx="1585.1" cy="2235" r="4.8" fill="#8db0dc" />
<circle cx="1597.3" cy="2235" r="4.8" fill="#8db0dc" />
<circle cx="1597.3" cy="2277.6" r="4.8" fill="#8db0dc" />
<circle cx="1585.1" cy="2282.5" r="4.8" fill="#8db0dc" />
<circle cx="1597.3" cy="2288.7" r="4.8" fill="#8db0dc" />
<circle cx="1585.1" cy="2305.9" r="4.8" fill="#8db0dc" />
<circle cx="1597.3" cy="2308.4" r="4.8" fill="#8db0dc" />
<circle cx="1591.2" cy="2325.6" r="4.8" fill="#8db0dc" />
<line x1="1591.2" y1="2249.4" x2="1591.2" y2="2314.5" stroke="#8db0dc" stroke-width="1.5" />
<line x1="1585.2" y1="2249.4" x2="1597.2" y2="2249.4" stroke="#8db0dc" stroke-width="1.5" />
<line x1="1585.2" y1="2314.5" x2="1597.2" y2="2314.5" stroke="#8db0dc" stroke-width="1.5" />
<line x1="1580.7" y1="2282.1" x2="1601.7" y2="2282.1" stroke="#8db0dc" stroke-width="1.8" />
<circle cx="1639.5" cy="2212.9" r="4.8" fill="#000" />
<circle cx="1651.3" cy="2212.9" r="4.8" fill="#000" />
<circle cx="1639.5" cy="2246.5" r="4.8" fill="#000" />
<circle cx="1651.3" cy="2246.5" r="4.8" fill="#000" />
<circle cx="1645.2" cy="2289.9" r="4.8" fill="#000" />
<line x1="1645.2" y1="2215.4" x2="1645.2" y2="2272.7" stroke="#000" stroke-width="1.5" />
<line x1="1639.2" y1="2215.4" x2="1651.2" y2="2215.4" stroke="#000" stroke-width="1.5" />
<line x1="1639.2" y1="2272.7" x2="1651.2" y2="2272.7" stroke="#000" stroke-width="1.5" />
<line x1="1634.7" y1="2242" x2="1655.7" y2="2242" stroke="#000" stroke-width="1.8" />
<circle cx="1677.7" cy="2205.1" r="4.8" fill="#ae9bdc" />
<circle cx="1672" cy="2225.2" r="4.8" fill="#ae9bdc" />
<circle cx="1684.3" cy="2231.3" r="4.8" fill="#ae9bdc" />
<circle cx="1677.7" cy="2251.8" r="4.8" fill="#ae9bdc" />
<circle cx="1672" cy="2262.9" r="4.8" fill="#ae9bdc" />
<circle cx="1684.3" cy="2270.3" r="4.8" fill="#ae9bdc" />
<circle cx="1672" cy="2275.2" r="4.8" fill="#ae9bdc" />
<line x1="1677.7" y1="2219.9" x2="1677.7" y2="2270.7" stroke="#ae9bdc" stroke-width="1.5" />
<line x1="1671.7" y1="2219.9" x2="1683.7" y2="2219.9" stroke="#ae9bdc" stroke-width="1.5" />
<line x1="1671.7" y1="2270.7" x2="1683.7" y2="2270.7" stroke="#ae9bdc" stroke-width="1.5" />
<line x1="1667.2" y1="2245.3" x2="1688.2" y2="2245.3" stroke="#ae9bdc" stroke-width="1.8" />
<circle cx="1710.7" cy="2357.5" r="4.8" fill="#e9a3f0" />
<circle cx="1704.8" cy="2362" r="4.8" fill="#e9a3f0" />
<circle cx="1717.1" cy="2362" r="4.8" fill="#e9a3f0" />
<circle cx="1704.8" cy="2379.6" r="4.8" fill="#e9a3f0" />
<circle cx="1717.1" cy="2385" r="4.8" fill="#e9a3f0" />
<circle cx="1710.7" cy="2390.7" r="4.8" fill="#e9a3f0" />
<circle cx="1710.7" cy="2401.4" r="4.8" fill="#e9a3f0" />
<line x1="1710.7" y1="2362.9" x2="1710.7" y2="2391.5" stroke="#e9a3f0" stroke-width="1.5" />
<line x1="1704.7" y1="2362.9" x2="1716.7" y2="2362.9" stroke="#e9a3f0" stroke-width="1.5" />
<line x1="1704.7" y1="2391.5" x2="1716.7" y2="2391.5" stroke="#e9a3f0" stroke-width="1.5" />
<line x1="1700.2" y1="2377.2" x2="1721.2" y2="2377.2" stroke="#e9a3f0" stroke-width="1.8" />
<circle cx="1743.2" cy="2293.6" r="4.8" fill="#8db0dc" />
<circle cx="1737.1" cy="2336.2" r="4.8" fill="#8db0dc" />
<circle cx="1749.3" cy="2336.2" r="4.8" fill="#8db0dc" />
<circle cx="1743.2" cy="2342.4" r="4.8" fill="#8db0dc" />
<circle cx="1743.2" cy="2349.7" r="4.8" fill="#8db0dc" />
<circle cx="1743.2" cy="2374.3" r="4.8" fill="#8db0dc" />
<circle cx="1743.2" cy="2386.6" r="4.8" fill="#8db0dc" />
<line x1="1743.2" y1="2314.5" x2="1743.2" y2="2374.7" stroke="#8db0dc" stroke-width="1.5" />
<line x1="1737.2" y1="2314.5" x2="1749.2" y2="2314.5" stroke="#8db0dc" stroke-width="1.5" />
<line x1="1737.2" y1="2374.7" x2="1749.2" y2="2374.7" stroke="#8db0dc" stroke-width="1.5" />
<line x1="1732.7" y1="2344.8" x2="1753.7" y2="2344.8" stroke="#8db0dc" stroke-width="1.8" />
<polyline points="1188.2,2159.6 1188.2,2069.8 1254.4,2069.8 1254.4,2096.9" stroke="#000" stroke-width="1.5" fill="none" />
<text x="1225.1" y="2060" font-size="22.5" text-anchor="middle" textLength="44.4" lengthAdjust="spacingAndGlyphs">N.S.</text>
<polyline points="1253.9,2164.5 1253.9,2138.2 1286.6,2138.2 1286.6,2157.8" stroke="#000" stroke-width="1.5" fill="none" />
<text x="1272.8" y="2125.2" font-size="22.5" text-anchor="middle" textLength="43.5" lengthAdjust="spacingAndGlyphs">N.S.</text>
<polyline points="1339.9,2191.5 1339.9,2101.3 1406.3,2101.3 1406.3,2128.3" stroke="#000" stroke-width="1.5" fill="none" />
<text x="1367" y="2088.3" font-size="22.5" text-anchor="middle" textLength="113.1" lengthAdjust="spacingAndGlyphs">P = 0.0011</text>
<polyline points="1406.3,2214.4 1406.3,2174.3 1438.5,2174.3 1438.5,2201.4" stroke="#000" stroke-width="1.5" fill="none" />
<text x="1416.8" y="2158.3" font-size="22.5" text-anchor="middle" textLength="114.5" lengthAdjust="spacingAndGlyphs">P = 0.0025</text>
<polyline points="1493.8,2197.2 1493.8,2104.7 1559.7,2104.7 1559.7,2131.8" stroke="#000" stroke-width="1.5" fill="none" />
<text x="1529.1" y="2092" font-size="22.5" text-anchor="middle" textLength="113.8" lengthAdjust="spacingAndGlyphs">P = 0.0023</text>
<polyline points="1557.7,2243.9 1557.7,2173.1 1590.9,2173.1 1590.9,2218.6" stroke="#000" stroke-width="1.5" fill="none" />
<text x="1568.8" y="2160.8" font-size="22.5" text-anchor="middle" textLength="113.1" lengthAdjust="spacingAndGlyphs">P = 0.0287</text>
<polyline points="1646.2,2170.1 1646.2,2132.8 1711.9,2132.8 1711.9,2160.3" stroke="#000" stroke-width="1.5" fill="none" />
<text x="1685.5" y="2120.2" font-size="22.5" text-anchor="middle" textLength="135.1" lengthAdjust="spacingAndGlyphs">P = 1.90e-06</text>
<polyline points="1710.6,2319.3 1710.6,2219.3 1742.6,2219.3 1742.6,2273.9" stroke="#000" stroke-width="1.5" fill="none" />
<text x="1721.2" y="2195.2" font-size="22.5" text-anchor="middle" textLength="113.1" lengthAdjust="spacingAndGlyphs">P = 0.0263</text>
<text x="1454.2" y="2015" font-size="34" font-weight="bold" text-anchor="middle" textLength="226.8" lengthAdjust="spacingAndGlyphs">Grip Strength</text>
<text transform="translate(1094.5,2243.8) rotate(-90)" font-size="26" font-weight="bold" text-anchor="middle" textLength="52.9" lengthAdjust="spacingAndGlyphs">gf/g</text>
<circle cx="821.2" cy="2383" r="4" fill="#000" />
<text x="836.3" y="2388.5" font-size="18.5" textLength="29" lengthAdjust="spacingAndGlyphs">Ctrl</text>
<circle cx="821.2" cy="2410.4" r="4" fill="#ae9bdc" />
<text x="836.3" y="2416" font-size="18.5" textLength="162.3" lengthAdjust="spacingAndGlyphs">Ctrl; scAAV9-sh<tspan font-style="italic">Fto</tspan></text>
<circle cx="821.2" cy="2437.7" r="4" fill="#e9a3f0" />
<text x="836.3" y="2443.3" font-size="18.5" textLength="82.6" lengthAdjust="spacingAndGlyphs"><tspan font-style="italic">SOD1</tspan><tspan font-size="11.5" dy="-7" font-style="italic">G93A</tspan><tspan dy="7">​</tspan></text>
<circle cx="821.2" cy="2465.1" r="4" fill="#8db0dc" />
<text x="836.3" y="2470.7" font-size="18.5" textLength="214.3" lengthAdjust="spacingAndGlyphs"><tspan font-style="italic">SOD1</tspan><tspan font-size="11.5" dy="-7" font-style="italic">G93A</tspan><tspan dy="7">​</tspan>; scAAV9-sh<tspan font-style="italic">Fto</tspan></text>
<text x="876.5" y="1006.2" font-size="22" font-weight="bold" textLength="121.5" lengthAdjust="spacingAndGlyphs">Stimulation</text>
<text x="876.5" y="1033.9" font-size="22" font-weight="bold" textLength="99.5" lengthAdjust="spacingAndGlyphs">electrode</text>
<text x="859.3" y="1121.7" font-size="22" font-weight="bold" textLength="110.2" lengthAdjust="spacingAndGlyphs">Recording</text>
<text x="859.3" y="1148.7" font-size="22" font-weight="bold" textLength="101.4" lengthAdjust="spacingAndGlyphs">Electrode</text>
<path d="M763,1042 C760,1034 757,1026 755,1020" fill="none" stroke="#d6cbbd" stroke-width="5.5" stroke-linecap="round"/>
<path d="M763,1074 C760,1082 757,1090 755,1096" fill="none" stroke="#d6cbbd" stroke-width="5.5" stroke-linecap="round"/>
<path d="M834,1039 C840,1032 846,1026 850,1019" fill="none" stroke="#d6cbbd" stroke-width="5.5" stroke-linecap="round"/>
<path d="M836,1076 C842,1084 847,1092 851,1099" fill="none" stroke="#d6cbbd" stroke-width="5.5" stroke-linecap="round"/>
<path d="M756,1023 L753,1017" fill="none" stroke="#e3a7a5" stroke-width="3.5" stroke-linecap="round"/>
<path d="M756,1093 L753,1099" fill="none" stroke="#e3a7a5" stroke-width="3.5" stroke-linecap="round"/>
<path d="M846,1027 C848,1024 850,1021 851,1018" fill="none" stroke="#e3a7a5" stroke-width="3.5" stroke-linecap="round"/>
<path d="M847,1090 C849,1094 850,1097 851,1100" fill="none" stroke="#e3a7a5" stroke-width="3.5" stroke-linecap="round"/>
<path d="M845,1058 C870,1059 900,1061 918,1064 C926,1066 931,1068 934,1069.5 C925,1068.5 905,1066 880,1063 L845,1061 Z" fill="#e6a3a3" />
<path d="M757,1042 C765,1040 772,1040 779,1039.6 C792,1036 803,1031 814,1031 C822,1031 830,1033 838,1042 C843,1047 847,1051 847.5,1055 L847.5,1062 C846,1067 842,1072 839,1076 C834,1082 830,1086 825,1087 C818,1088 812,1086 806,1084 C796,1080 788,1078 779,1077 C771,1076 764,1075 757,1074 Z" fill="#ddd4ca" />
<path d="M762,1045 C772,1044 782,1043 792,1040 C803,1036 812,1034 820,1035 C830,1038 838,1046 842,1054 L842,1063 C838,1071 832,1080 822,1082 C812,1083 800,1079 790,1076 C780,1074 770,1072 762,1071 Z" fill="#e9e7e4" />
<path d="M725.6,1058.7 C728,1052 738,1046 750,1045 C755,1045 758,1048 759,1052 L759,1066 C758,1070 755,1072 750,1072 C738,1071 728,1065 725.6,1058.7 Z" fill="#eeece9" stroke="#ddd4ca" stroke-width="0.8" />
<path d="M748,1046 C750,1040 756,1038 758,1041 C758,1044 754,1047 750,1048 Z" fill="#e6aaa8" />
<path d="M748,1071 C750,1077 756,1079 758,1076 C758,1073 754,1070 750,1069 Z" fill="#e6aaa8" />
<circle cx="739" cy="1052.6" r="1.2" fill="#c0303a" />
<circle cx="739" cy="1065.6" r="1.2" fill="#c0303a" />
<line x1="824.6" y1="1063.7" x2="852" y2="1063.7" stroke="#666" stroke-width="0.9" />
<rect x="851.4" y="1061.9" width="15" height="3.8" fill="#9ea3a8" />
<rect x="866.3" y="1061.2" width="28.9" height="5.2" fill="#d9545b" />
<line x1="881" y1="1060.8" x2="881" y2="1066.6" stroke="#444" stroke-width="1.1" />
<rect x="895.2" y="1062" width="6" height="3.4" fill="#9ea3a8" />
<line x1="901" y1="1063.7" x2="913" y2="1064.5" stroke="#222" stroke-width="1.3" />
<line x1="828" y1="1070.7" x2="855" y2="1070.7" stroke="#666" stroke-width="0.9" />
<rect x="855" y="1069" width="15.5" height="3.6" fill="#9ea3a8" />
<rect x="870.5" y="1068.2" width="28.3" height="5" fill="#ecebe5" stroke="#c9c9c2" stroke-width="0.4" />
<line x1="887.5" y1="1067.8" x2="887.5" y2="1073.6" stroke="#444" stroke-width="1.1" />
<rect x="898.8" y="1069" width="6" height="3.4" fill="#9ea3a8" />
<line x1="904.8" y1="1070.7" x2="919.3" y2="1071" stroke="#222" stroke-width="1.3" />
<line x1="818.9" y1="1085.6" x2="818.9" y2="1112" stroke="#666" stroke-width="0.9" />
<rect x="817.1" y="1110.5" width="3.6" height="15" fill="#9ea3a8" />
<rect x="816.3" y="1125.5" width="5.2" height="28" fill="#ecebe5" stroke="#c9c9c2" stroke-width="0.4" />
<line x1="815.9" y1="1143.5" x2="821.9" y2="1143.5" stroke="#444" stroke-width="1.2" />
<rect x="817.1" y="1153.5" width="3.6" height="7" fill="#9ea3a8" />
<line x1="818.9" y1="1160" x2="818.9" y2="1176" stroke="#222" stroke-width="1.3" />
<line x1="835.2" y1="1082" x2="835.2" y2="1112" stroke="#666" stroke-width="0.9" />
<rect x="833.4" y="1110.5" width="3.6" height="15" fill="#9ea3a8" />
<rect x="832.6" y="1125.5" width="5.2" height="28" fill="#d9545b" stroke="none" stroke-width="0.4" />
<line x1="832.2" y1="1143.5" x2="838.2" y2="1143.5" stroke="#444" stroke-width="1.2" />
<rect x="833.4" y="1153.5" width="3.6" height="7" fill="#9ea3a8" />
<line x1="835.2" y1="1160" x2="835.2" y2="1176" stroke="#222" stroke-width="1.3" />
<line x1="982" y1="1083" x2="1009.8" y2="1083" stroke="#000" stroke-width="1.6" />
<line x1="982" y1="1160.4" x2="1024" y2="1160.4" stroke="#000" stroke-width="1.6" />
<line x1="985" y1="1089" x2="985" y2="1154" stroke="#000" stroke-width="1.6" />
<path d="M985,1084 L980.5,1094 L989.5,1094 Z" fill="#000" />
<path d="M985,1159.5 L980.5,1149.5 L989.5,1149.5 Z" fill="#000" />
<polyline points="985.5,1121.3 1001,1121.3 1009.8,1083 1022,1159.8 1029.7,1122.2 1045.7,1122.2" stroke="#000" stroke-width="1.6" fill="none" />
<g stroke="#9a9a9a" stroke-width="0.8"><path d="M796,1541 L806,1538 L806,1715 L796,1718 Z" fill="#d8d8d8"/><path d="M966,1538 L976,1541 L976,1718 L966,1715 Z" fill="#d8d8d8"/><ellipse cx="820" cy="1600" rx="7" ry="72" fill="#b9b9b9" stroke="#f4f4f4" stroke-width="1.2"/><rect x="818.5" y="1600" width="3" height="120" fill="#e2e2e2"/><ellipse cx="847" cy="1600" rx="5" ry="72" fill="#b9b9b9" stroke="#f4f4f4" stroke-width="1.2"/><rect x="845.5" y="1600" width="3" height="120" fill="#e2e2e2"/><ellipse cx="872" cy="1600" rx="3" ry="72" fill="#b9b9b9" stroke="#f4f4f4" stroke-width="1.2"/><rect x="870.5" y="1600" width="3" height="120" fill="#e2e2e2"/><ellipse cx="900" cy="1600" rx="3" ry="72" fill="#b9b9b9" stroke="#f4f4f4" stroke-width="1.2"/><rect x="898.5" y="1600" width="3" height="120" fill="#e2e2e2"/><ellipse cx="925" cy="1600" rx="5" ry="72" fill="#b9b9b9" stroke="#f4f4f4" stroke-width="1.2"/><rect x="923.5" y="1600" width="3" height="120" fill="#e2e2e2"/><ellipse cx="952" cy="1600" rx="7" ry="72" fill="#b9b9b9" stroke="#f4f4f4" stroke-width="1.2"/><rect x="950.5" y="1600" width="3" height="120" fill="#e2e2e2"/><rect x="818" y="1663" width="137" height="26" fill="#bdbdbd"/><rect x="818" y="1680" width="137" height="10" fill="#7d7d7d"/><rect x="821" y="1579" width="133" height="24" fill="#5a5a5a" stroke="none"/><path d="M978,1580 L990,1586 L992,1596 L978,1603 Z" fill="#4a4a4a"/><path d="M796,1690 L976,1690 L976,1737 L796,1737 Z" fill="#ececec"/><rect x="802" y="1697" width="168" height="34" rx="4" fill="#f2f2f2"/><rect x="849" y="1706" width="75" height="17" fill="#8c8c8c"/><ellipse cx="836" cy="1709" rx="8" ry="2.5" fill="#8c8c8c"/><ellipse cx="836" cy="1720" rx="8" ry="2.5" fill="#8c8c8c"/><ellipse cx="937" cy="1709" rx="8" ry="2.5" fill="#8c8c8c"/><ellipse cx="937" cy="1720" rx="8" ry="2.5" fill="#8c8c8c"/></g>
<path d="M832,1573 C835,1575 837,1581 837,1585 C840,1590 840,1598 837,1602 C834,1605 828,1605 826,1601 C824,1596 825,1589 827,1585 C827,1580 829,1575 832,1573 Z" fill="#3b3330" />
<path d="M832,1604 C828,1610 835,1614 832,1620 C830,1624 834,1627 832,1630" fill="none" stroke="#c98580" stroke-width="1.3" />
<path d="M858,1579 C861,1581 863,1587 863,1591 C866,1596 866,1604 863,1608 C860,1611 854,1611 852,1607 C850,1602 851,1595 853,1591 C853,1586 855,1581 858,1579 Z" fill="#3b3330" />
<path d="M858,1610 C854,1616 861,1620 858,1626 C856,1630 860,1633 858,1636" fill="none" stroke="#c98580" stroke-width="1.3" />
<path d="M889,1573 C892,1575 894,1581 894,1585 C897,1590 897,1598 894,1602 C891,1605 885,1605 883,1601 C881,1596 882,1589 884,1585 C884,1580 886,1575 889,1573 Z" fill="#3b3330" />
<path d="M889,1604 C885,1610 892,1614 889,1620 C887,1624 891,1627 889,1630" fill="none" stroke="#c98580" stroke-width="1.3" />
<path d="M910,1573 C913,1575 915,1581 915,1585 C918,1590 918,1598 915,1602 C912,1605 906,1605 904,1601 C902,1596 903,1589 905,1585 C905,1580 907,1575 910,1573 Z" fill="#3b3330" />
<path d="M910,1604 C906,1610 913,1614 910,1620 C908,1624 912,1627 910,1630" fill="none" stroke="#c98580" stroke-width="1.3" />
<path d="M940,1573 C943,1575 945,1581 945,1585 C948,1590 948,1598 945,1602 C942,1605 936,1605 934,1601 C932,1596 933,1589 935,1585 C935,1580 937,1575 940,1573 Z" fill="#3b3330" />
<path d="M940,1604 C936,1610 943,1614 940,1620 C938,1624 942,1627 940,1630" fill="none" stroke="#c98580" stroke-width="1.3" />
<rect x="875.4" y="2040.8" width="83.1" height="113.4" fill="#f0f0f0" stroke="#cfcfcf" stroke-width="0.8" />
<path d="M868,2080 C868,2100 872,2105 895,2105" fill="none" stroke="#222" stroke-width="1.8" />
<path d="M966,2052 C966,2066 962,2072 952,2072" fill="none" stroke="#222" stroke-width="1.8" />
<rect x="938" y="2067" width="13" height="18" fill="#3a3a3a" />
<rect x="895" y="2048" width="43.8" height="95.8" fill="#d6d6d6" stroke="#4a8fe0" stroke-width="3" rx="8"/>
<rect x="906" y="2061.8" width="22.7" height="39.1" fill="#9cc29a" stroke="#555" stroke-width="0.6" />
<text x="917.3" y="2070" font-size="6.5" text-anchor="middle" fill="#222">+81.1</text>
<circle cx="908" cy="2108" r="3" fill="#4a8fe0" stroke="#4a8fe0" stroke-width="0.8"/>
<circle cx="917" cy="2108" r="3" fill="#f4f4f4" stroke="#4a8fe0" stroke-width="0.8"/>
<circle cx="926" cy="2108" r="3" fill="#f4f4f4" stroke="#4a8fe0" stroke-width="0.8"/>
<circle cx="917" cy="2122" r="8" fill="#e8eef8" stroke="#4a8fe0" stroke-width="0.8"/>
<circle cx="907.5" cy="2136" r="3" fill="#fff" stroke="#e03040" stroke-width="1"/>
<rect x="915.5" y="2143.8" width="3.5" height="23" fill="#9a9a9a" />
<rect x="907" y="2157" width="12" height="7" fill="#555" />
<g stroke="#a0a0a0" stroke-width="0.7"><line x1="888.2" y1="2166.5" x2="888.2" y2="2239.5"/><line x1="892.1" y1="2166.5" x2="892.1" y2="2239.5"/><line x1="895.9" y1="2166.5" x2="895.9" y2="2239.5"/><line x1="899.8" y1="2166.5" x2="899.8" y2="2239.5"/><line x1="903.6" y1="2166.5" x2="903.6" y2="2239.5"/><line x1="907.5" y1="2166.5" x2="907.5" y2="2239.5"/><line x1="911.3" y1="2166.5" x2="911.3" y2="2239.5"/><line x1="915.2" y1="2166.5" x2="915.2" y2="2239.5"/><line x1="919.0" y1="2166.5" x2="919.0" y2="2239.5"/><line x1="922.9" y1="2166.5" x2="922.9" y2="2239.5"/><line x1="926.7" y1="2166.5" x2="926.7" y2="2239.5"/><line x1="930.6" y1="2166.5" x2="930.6" y2="2239.5"/><line x1="934.4" y1="2166.5" x2="934.4" y2="2239.5"/><line x1="938.2" y1="2166.5" x2="938.2" y2="2239.5"/><line x1="942.1" y1="2166.5" x2="942.1" y2="2239.5"/><line x1="946.0" y1="2166.5" x2="946.0" y2="2239.5"/><line x1="888.2" y1="2166.5" x2="946.2" y2="2166.5"/><line x1="888.2" y1="2170.3" x2="946.2" y2="2170.3"/><line x1="888.2" y1="2174.2" x2="946.2" y2="2174.2"/><line x1="888.2" y1="2178.1" x2="946.2" y2="2178.1"/><line x1="888.2" y1="2181.9" x2="946.2" y2="2181.9"/><line x1="888.2" y1="2185.8" x2="946.2" y2="2185.8"/><line x1="888.2" y1="2189.6" x2="946.2" y2="2189.6"/><line x1="888.2" y1="2193.4" x2="946.2" y2="2193.4"/><line x1="888.2" y1="2197.3" x2="946.2" y2="2197.3"/><line x1="888.2" y1="2201.2" x2="946.2" y2="2201.2"/><line x1="888.2" y1="2205.0" x2="946.2" y2="2205.0"/><line x1="888.2" y1="2208.8" x2="946.2" y2="2208.8"/><line x1="888.2" y1="2212.7" x2="946.2" y2="2212.7"/><line x1="888.2" y1="2216.6" x2="946.2" y2="2216.6"/><line x1="888.2" y1="2220.4" x2="946.2" y2="2220.4"/><line x1="888.2" y1="2224.2" x2="946.2" y2="2224.2"/><line x1="888.2" y1="2228.1" x2="946.2" y2="2228.1"/><line x1="888.2" y1="2231.9" x2="946.2" y2="2231.9"/><line x1="888.2" y1="2235.8" x2="946.2" y2="2235.8"/><line x1="888.2" y1="2239.7" x2="946.2" y2="2239.7"/></g>
<rect x="888.2" y="2166.5" width="58" height="73" fill="none" stroke="#8a8a8a" stroke-width="1" />
<ellipse cx="919.6" cy="2228" rx="9.5" ry="25" fill="#3f3733"/>
<path d="M919,2252 C921,2265 918,2280 919,2295 C917,2300 921,2302 923,2298" fill="none" stroke="#c98580" stroke-width="1.5" />
<path d="M909,2252 L904,2256 M930,2252 L936,2256 M911,2207 L907,2203 M928,2207 L932,2203" fill="none" stroke="#c98580" stroke-width="1.4" />
<path d="M892,2300 C895,2285 905,2275 915,2272 C925,2268 940,2272 945,2280 C952,2292 950,2315 946,2330 C940,2342 925,2346 910,2344 C895,2342 885,2338 886,2325 C887,2315 889,2308 892,2300 Z" fill="#5ab4d2" />
<path d="M905,2290 C910,2285 920,2285 925,2292" fill="none" stroke="#3f9cbc" stroke-width="1.2" />
</svg>
</body></html>
